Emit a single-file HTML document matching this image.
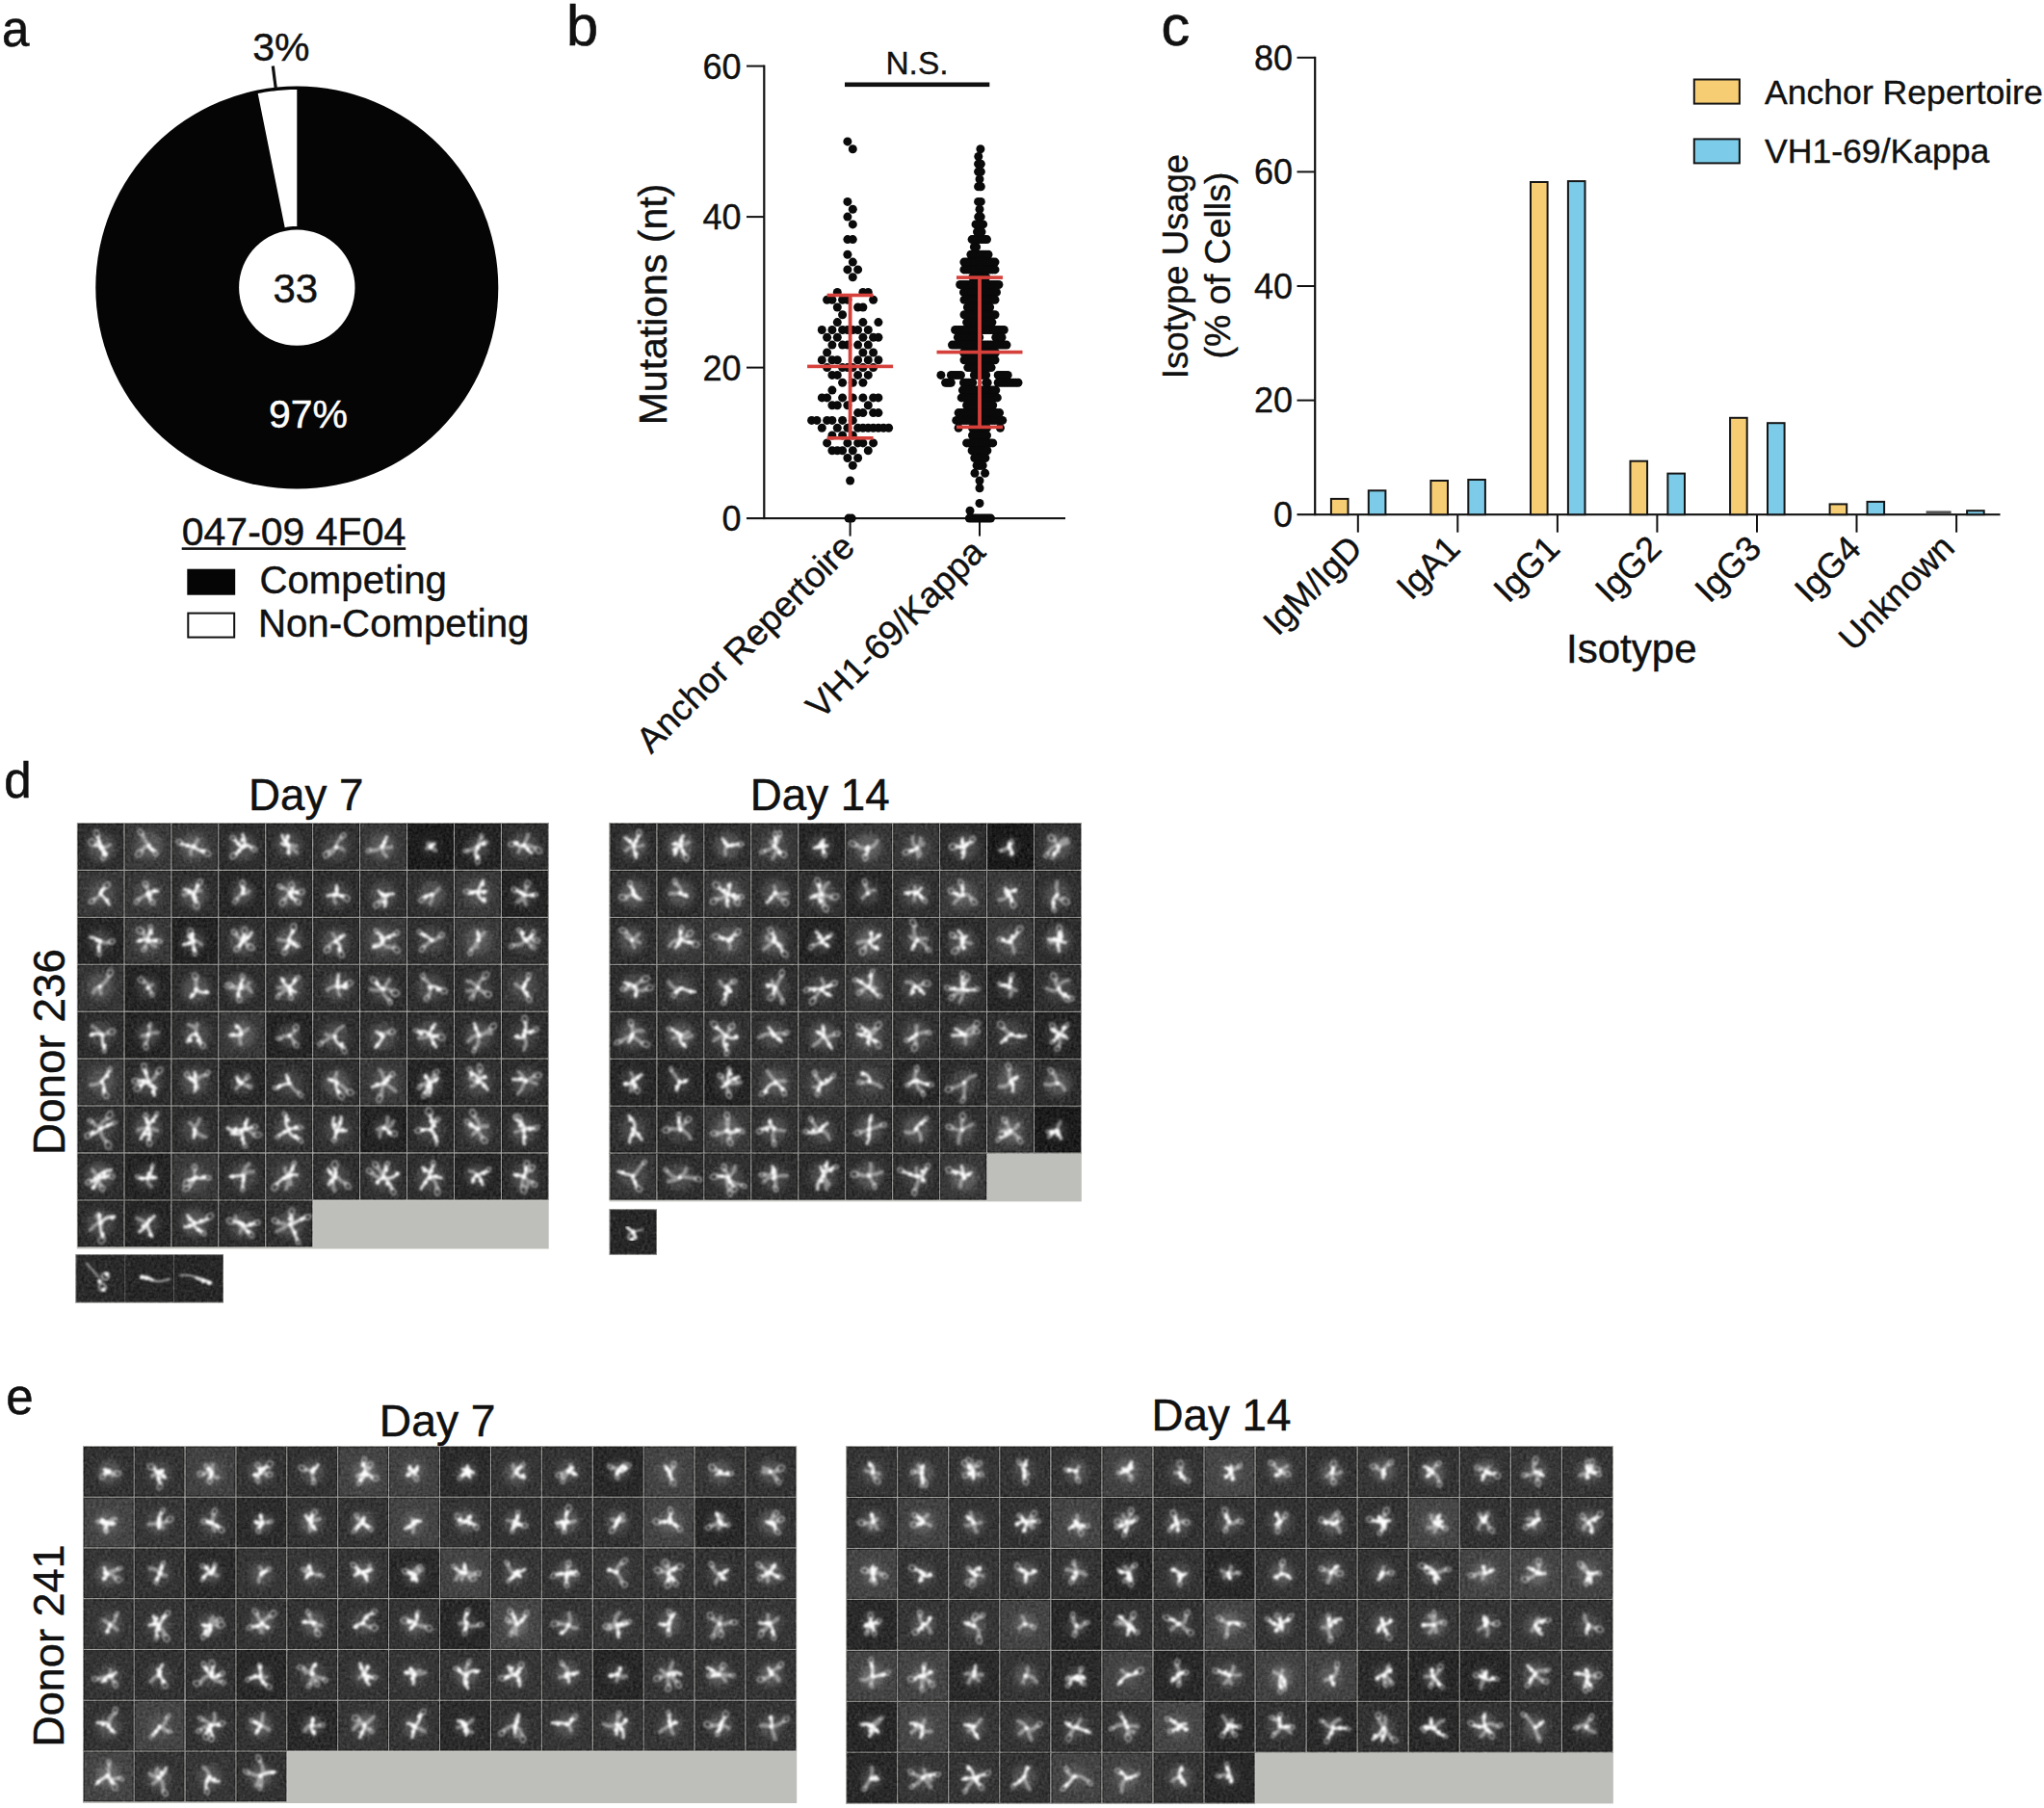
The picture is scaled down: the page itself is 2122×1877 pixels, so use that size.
<!DOCTYPE html>
<html lang="en"><head><meta charset="utf-8"><title>Figure</title>
<style>html,body{margin:0;padding:0;background:#fff;overflow:hidden}svg{display:block;font-family:"Liberation Sans", Arial, Helvetica, sans-serif}</style></head><body>
<svg width="2122" height="1877" viewBox="0 0 2122 1877">
<rect width="2122" height="1877" fill="#fff"/>
<defs><filter id="bl" x="-5%" y="-5%" width="110%" height="110%"><feGaussianBlur stdDeviation="0.9"/></filter><filter id="bl2" x="-5%" y="-5%" width="110%" height="110%"><feGaussianBlur stdDeviation="3.2"/></filter><filter id="nz" x="0" y="0" width="100%" height="100%" color-interpolation-filters="sRGB"><feTurbulence type="fractalNoise" baseFrequency="0.33" numOctaves="2" seed="5"/><feColorMatrix type="matrix" values="0.4 0.4 0.4 0 -0.42  0.4 0.4 0.4 0 -0.42  0.4 0.4 0.4 0 -0.42  0 0 0 0 0.3"/></filter></defs>
<text x="2.0" y="48.3" font-size="51" text-anchor="start" fill="#111" stroke="#111" stroke-width="0.56">a</text>
<text x="588.1" y="46.7" font-size="59.5" text-anchor="start" fill="#111" stroke="#111" stroke-width="0.65">b</text>
<text x="1205.5" y="46.6" font-size="59.5" text-anchor="start" fill="#111" stroke="#111" stroke-width="0.65">c</text>
<text x="4.2" y="828.4" font-size="51" text-anchor="start" fill="#111" stroke="#111" stroke-width="0.56">d</text>
<text x="6.2" y="1467.8" font-size="51" text-anchor="start" fill="#111" stroke="#111" stroke-width="0.56">e</text>
<circle cx="308.3" cy="298.6" r="209.0" fill="#050505"/>
<polygon fill="#fff" points="308.3,93.0 304.9,93.0 301.5,93.1 298.1,93.3 294.7,93.5 291.3,93.7 287.9,94.0 284.5,94.4 281.1,94.8 277.7,95.3 274.4,95.8 271.0,96.4 267.7,97.1 295.7,236.2 296.7,236.0 297.8,235.8 298.8,235.6 299.9,235.5 300.9,235.3 302.0,235.2 303.0,235.1 304.1,235.0 305.1,235.0 306.2,234.9 307.2,234.9 308.3,234.9"/>
<circle cx="308.3" cy="298.6" r="60.2" fill="#fff"/>
<line x1="283.3" y1="68.5" x2="286.3" y2="92" stroke="#111" stroke-width="3.2"/>
<text x="291.8" y="63.0" font-size="41" text-anchor="middle" fill="#111" stroke="#111" stroke-width="0.45">3%</text>
<text x="306.8" y="313.5" font-size="42" text-anchor="middle" fill="#111" stroke="#111" stroke-width="0.46">33</text>
<text x="320.0" y="443.9" font-size="41" text-anchor="middle" fill="#fff" stroke="#fff" stroke-width="0.45">97%</text>
<text x="305.0" y="566.3" font-size="41" text-anchor="middle" fill="#111" stroke="#111" stroke-width="0.45">047-09 4F04</text>
<rect x="188.7" y="568.3" width="232.5" height="2.6" fill="#111"/>
<rect x="194.3" y="590.7" width="49.9" height="27" fill="#050505"/>
<rect x="195.3" y="636.6" width="47.9" height="25" fill="#fff" stroke="#111" stroke-width="2"/>
<text x="269.5" y="615.8" font-size="40.2" text-anchor="start" fill="#111" stroke="#111" stroke-width="0.44">Competing</text>
<text x="268.0" y="661.2" font-size="40.2" text-anchor="start" fill="#111" stroke="#111" stroke-width="0.44">Non-Competing</text>
<rect x="792.2" y="67.6" width="2.2" height="471.5" fill="#111"/>
<rect x="775" y="537.05" width="331" height="2.1" fill="#111"/>
<rect x="775" y="380.6" width="18.5" height="2" fill="#111"/>
<rect x="775" y="224.1" width="18.5" height="2" fill="#111"/>
<rect x="775" y="67.6" width="18.5" height="2" fill="#111"/>
<text x="769.5" y="551.1" font-size="36" text-anchor="end" fill="#111" stroke="#111" stroke-width="0.40">0</text>
<text x="769.5" y="394.6" font-size="36" text-anchor="end" fill="#111" stroke="#111" stroke-width="0.40">20</text>
<text x="769.5" y="238.1" font-size="36" text-anchor="end" fill="#111" stroke="#111" stroke-width="0.40">40</text>
<text x="769.5" y="81.6" font-size="36" text-anchor="end" fill="#111" stroke="#111" stroke-width="0.40">60</text>
<rect x="881.6" y="538.1" width="2" height="18.5" fill="#111"/>
<rect x="1016.0" y="538.1" width="2" height="18.5" fill="#111"/>
<text x="0" y="0" transform="translate(691.5 316.0) rotate(-90)" font-size="41" text-anchor="middle" fill="#111" stroke="#111" stroke-width="0.45">Mutations (nt)</text>
<text x="952.0" y="76.7" font-size="33.5" text-anchor="middle" fill="#111" stroke="#111" stroke-width="0.37">N.S.</text>
<rect x="877" y="85.5" width="150.3" height="4.6" fill="#111"/>
<text x="0" y="0" transform="translate(889.5 570.0) rotate(-45)" font-size="37.2" text-anchor="end" fill="#111" stroke="#111" stroke-width="0.41">Anchor Repertoire</text>
<text x="0" y="0" transform="translate(1024.7 575.5) rotate(-45)" font-size="37.2" text-anchor="end" fill="#111" stroke="#111" stroke-width="0.41">VH1-69/Kappa</text>
<g fill="#0a0a0a"><circle cx="879.9" cy="146.9" r="4.5"/><circle cx="885.3" cy="154.7" r="4.5"/><circle cx="879.9" cy="209.4" r="4.5"/><circle cx="885.3" cy="217.3" r="4.5"/><circle cx="879.9" cy="225.1" r="4.5"/><circle cx="885.3" cy="232.9" r="4.5"/><circle cx="879.9" cy="248.6" r="4.5"/><circle cx="885.3" cy="248.6" r="4.5"/><circle cx="879.9" cy="264.2" r="4.5"/><circle cx="885.3" cy="272.1" r="4.5"/><circle cx="879.9" cy="279.9" r="4.5"/><circle cx="890.6" cy="279.9" r="4.5"/><circle cx="885.3" cy="287.7" r="4.5"/><circle cx="869.3" cy="303.4" r="4.5"/><circle cx="895.9" cy="303.4" r="4.5"/><circle cx="901.3" cy="303.4" r="4.5"/><circle cx="858.6" cy="311.2" r="4.5"/><circle cx="863.9" cy="311.2" r="4.5"/><circle cx="874.6" cy="311.2" r="4.5"/><circle cx="879.9" cy="311.2" r="4.5"/><circle cx="906.6" cy="311.2" r="4.5"/><circle cx="869.3" cy="319.0" r="4.5"/><circle cx="890.6" cy="319.0" r="4.5"/><circle cx="895.9" cy="319.0" r="4.5"/><circle cx="874.6" cy="326.8" r="4.5"/><circle cx="869.3" cy="334.6" r="4.5"/><circle cx="895.9" cy="334.6" r="4.5"/><circle cx="911.9" cy="334.6" r="4.5"/><circle cx="853.3" cy="342.5" r="4.5"/><circle cx="863.9" cy="342.5" r="4.5"/><circle cx="874.6" cy="342.5" r="4.5"/><circle cx="879.9" cy="342.5" r="4.5"/><circle cx="885.3" cy="342.5" r="4.5"/><circle cx="890.6" cy="342.5" r="4.5"/><circle cx="901.3" cy="342.5" r="4.5"/><circle cx="858.6" cy="350.3" r="4.5"/><circle cx="869.3" cy="350.3" r="4.5"/><circle cx="895.9" cy="350.3" r="4.5"/><circle cx="906.6" cy="350.3" r="4.5"/><circle cx="911.9" cy="350.3" r="4.5"/><circle cx="863.9" cy="358.1" r="4.5"/><circle cx="874.6" cy="358.1" r="4.5"/><circle cx="879.9" cy="358.1" r="4.5"/><circle cx="890.6" cy="358.1" r="4.5"/><circle cx="901.3" cy="358.1" r="4.5"/><circle cx="858.6" cy="366.0" r="4.5"/><circle cx="895.9" cy="366.0" r="4.5"/><circle cx="906.6" cy="366.0" r="4.5"/><circle cx="853.3" cy="373.8" r="4.5"/><circle cx="863.9" cy="373.8" r="4.5"/><circle cx="869.3" cy="373.8" r="4.5"/><circle cx="890.6" cy="373.8" r="4.5"/><circle cx="901.3" cy="373.8" r="4.5"/><circle cx="911.9" cy="373.8" r="4.5"/><circle cx="858.6" cy="381.6" r="4.5"/><circle cx="874.6" cy="381.6" r="4.5"/><circle cx="879.9" cy="381.6" r="4.5"/><circle cx="885.3" cy="381.6" r="4.5"/><circle cx="895.9" cy="381.6" r="4.5"/><circle cx="906.6" cy="381.6" r="4.5"/><circle cx="863.9" cy="389.4" r="4.5"/><circle cx="869.3" cy="389.4" r="4.5"/><circle cx="890.6" cy="389.4" r="4.5"/><circle cx="901.3" cy="389.4" r="4.5"/><circle cx="874.6" cy="397.2" r="4.5"/><circle cx="885.3" cy="397.2" r="4.5"/><circle cx="895.9" cy="397.2" r="4.5"/><circle cx="863.9" cy="405.1" r="4.5"/><circle cx="853.3" cy="412.9" r="4.5"/><circle cx="858.6" cy="412.9" r="4.5"/><circle cx="874.6" cy="412.9" r="4.5"/><circle cx="885.3" cy="412.9" r="4.5"/><circle cx="895.9" cy="412.9" r="4.5"/><circle cx="906.6" cy="412.9" r="4.5"/><circle cx="911.9" cy="412.9" r="4.5"/><circle cx="863.9" cy="420.7" r="4.5"/><circle cx="869.3" cy="420.7" r="4.5"/><circle cx="879.9" cy="420.7" r="4.5"/><circle cx="901.3" cy="420.7" r="4.5"/><circle cx="890.6" cy="428.6" r="4.5"/><circle cx="895.9" cy="428.6" r="4.5"/><circle cx="906.6" cy="428.6" r="4.5"/><circle cx="911.9" cy="428.6" r="4.5"/><circle cx="842.6" cy="436.4" r="4.5"/><circle cx="848.0" cy="436.4" r="4.5"/><circle cx="858.6" cy="436.4" r="4.5"/><circle cx="863.9" cy="436.4" r="4.5"/><circle cx="874.6" cy="436.4" r="4.5"/><circle cx="885.3" cy="436.4" r="4.5"/><circle cx="853.3" cy="444.2" r="4.5"/><circle cx="869.3" cy="444.2" r="4.5"/><circle cx="879.9" cy="444.2" r="4.5"/><circle cx="890.6" cy="444.2" r="4.5"/><circle cx="895.9" cy="444.2" r="4.5"/><circle cx="901.3" cy="444.2" r="4.5"/><circle cx="906.6" cy="444.2" r="4.5"/><circle cx="911.9" cy="444.2" r="4.5"/><circle cx="917.2" cy="444.2" r="4.5"/><circle cx="922.6" cy="444.2" r="4.5"/><circle cx="863.9" cy="452.0" r="4.5"/><circle cx="874.6" cy="452.0" r="4.5"/><circle cx="885.3" cy="452.0" r="4.5"/><circle cx="858.6" cy="459.9" r="4.5"/><circle cx="879.9" cy="459.9" r="4.5"/><circle cx="890.6" cy="459.9" r="4.5"/><circle cx="895.9" cy="459.9" r="4.5"/><circle cx="906.6" cy="459.9" r="4.5"/><circle cx="863.9" cy="467.7" r="4.5"/><circle cx="869.3" cy="467.7" r="4.5"/><circle cx="874.6" cy="467.7" r="4.5"/><circle cx="885.3" cy="467.7" r="4.5"/><circle cx="901.3" cy="467.7" r="4.5"/><circle cx="879.9" cy="475.5" r="4.5"/><circle cx="890.6" cy="475.5" r="4.5"/><circle cx="885.3" cy="483.3" r="4.5"/><circle cx="882.6" cy="499.0" r="4.5"/><circle cx="881.0" cy="538.1" r="4.5"/><circle cx="884.2" cy="538.1" r="4.5"/><circle cx="1017.9" cy="154.7" r="4.5"/><circle cx="1015.8" cy="162.5" r="4.5"/><circle cx="1015.6" cy="170.3" r="4.5"/><circle cx="1018.3" cy="170.3" r="4.5"/><circle cx="1015.6" cy="178.2" r="4.5"/><circle cx="1018.3" cy="178.2" r="4.5"/><circle cx="1017.0" cy="186.0" r="4.5"/><circle cx="1015.6" cy="193.8" r="4.5"/><circle cx="1018.3" cy="193.8" r="4.5"/><circle cx="1015.6" cy="209.4" r="4.5"/><circle cx="1018.3" cy="209.4" r="4.5"/><circle cx="1017.0" cy="217.3" r="4.5"/><circle cx="1015.7" cy="225.1" r="4.5"/><circle cx="1018.2" cy="225.1" r="4.5"/><circle cx="1013.0" cy="232.9" r="4.5"/><circle cx="1015.5" cy="232.9" r="4.5"/><circle cx="1018.1" cy="232.9" r="4.5"/><circle cx="1020.6" cy="232.9" r="4.5"/><circle cx="1014.5" cy="240.8" r="4.5"/><circle cx="1016.8" cy="240.8" r="4.5"/><circle cx="1019.0" cy="240.8" r="4.5"/><circle cx="1009.1" cy="248.6" r="4.5"/><circle cx="1011.7" cy="248.6" r="4.5"/><circle cx="1014.2" cy="248.6" r="4.5"/><circle cx="1016.8" cy="248.6" r="4.5"/><circle cx="1019.4" cy="248.6" r="4.5"/><circle cx="1021.9" cy="248.6" r="4.5"/><circle cx="1024.5" cy="248.6" r="4.5"/><circle cx="1011.4" cy="256.4" r="4.5"/><circle cx="1013.6" cy="256.4" r="4.5"/><circle cx="1007.9" cy="264.2" r="4.5"/><circle cx="1010.5" cy="264.2" r="4.5"/><circle cx="1013.1" cy="264.2" r="4.5"/><circle cx="1015.7" cy="264.2" r="4.5"/><circle cx="1018.2" cy="264.2" r="4.5"/><circle cx="1020.8" cy="264.2" r="4.5"/><circle cx="1023.4" cy="264.2" r="4.5"/><circle cx="1026.0" cy="264.2" r="4.5"/><circle cx="1000.9" cy="272.1" r="4.5"/><circle cx="1003.4" cy="272.1" r="4.5"/><circle cx="1005.8" cy="272.1" r="4.5"/><circle cx="1008.3" cy="272.1" r="4.5"/><circle cx="1010.8" cy="272.1" r="4.5"/><circle cx="1013.2" cy="272.1" r="4.5"/><circle cx="1015.7" cy="272.1" r="4.5"/><circle cx="1018.2" cy="272.1" r="4.5"/><circle cx="1020.7" cy="272.1" r="4.5"/><circle cx="1023.1" cy="272.1" r="4.5"/><circle cx="1025.6" cy="272.1" r="4.5"/><circle cx="1028.1" cy="272.1" r="4.5"/><circle cx="1030.5" cy="272.1" r="4.5"/><circle cx="1033.0" cy="272.1" r="4.5"/><circle cx="1000.9" cy="279.9" r="4.5"/><circle cx="1003.4" cy="279.9" r="4.5"/><circle cx="1005.8" cy="279.9" r="4.5"/><circle cx="1008.3" cy="279.9" r="4.5"/><circle cx="1010.8" cy="279.9" r="4.5"/><circle cx="1013.2" cy="279.9" r="4.5"/><circle cx="1015.7" cy="279.9" r="4.5"/><circle cx="1018.2" cy="279.9" r="4.5"/><circle cx="1020.7" cy="279.9" r="4.5"/><circle cx="1023.1" cy="279.9" r="4.5"/><circle cx="1025.6" cy="279.9" r="4.5"/><circle cx="1028.1" cy="279.9" r="4.5"/><circle cx="1030.5" cy="279.9" r="4.5"/><circle cx="1033.0" cy="279.9" r="4.5"/><circle cx="1009.8" cy="287.7" r="4.5"/><circle cx="1012.1" cy="287.7" r="4.5"/><circle cx="1014.4" cy="287.7" r="4.5"/><circle cx="1016.8" cy="287.7" r="4.5"/><circle cx="1019.1" cy="287.7" r="4.5"/><circle cx="1021.4" cy="287.7" r="4.5"/><circle cx="1023.7" cy="287.7" r="4.5"/><circle cx="996.7" cy="295.5" r="4.5"/><circle cx="999.2" cy="295.5" r="4.5"/><circle cx="1001.7" cy="295.5" r="4.5"/><circle cx="1004.2" cy="295.5" r="4.5"/><circle cx="1006.8" cy="295.5" r="4.5"/><circle cx="1009.3" cy="295.5" r="4.5"/><circle cx="1011.8" cy="295.5" r="4.5"/><circle cx="1014.3" cy="295.5" r="4.5"/><circle cx="1016.8" cy="295.5" r="4.5"/><circle cx="1019.3" cy="295.5" r="4.5"/><circle cx="1021.8" cy="295.5" r="4.5"/><circle cx="1024.3" cy="295.5" r="4.5"/><circle cx="1026.8" cy="295.5" r="4.5"/><circle cx="1029.4" cy="295.5" r="4.5"/><circle cx="1031.9" cy="295.5" r="4.5"/><circle cx="1034.4" cy="295.5" r="4.5"/><circle cx="1036.9" cy="295.5" r="4.5"/><circle cx="1000.5" cy="303.4" r="4.5"/><circle cx="1003.1" cy="303.4" r="4.5"/><circle cx="1005.7" cy="303.4" r="4.5"/><circle cx="1008.3" cy="303.4" r="4.5"/><circle cx="1011.0" cy="303.4" r="4.5"/><circle cx="1013.6" cy="303.4" r="4.5"/><circle cx="1016.2" cy="303.4" r="4.5"/><circle cx="1018.8" cy="303.4" r="4.5"/><circle cx="1021.4" cy="303.4" r="4.5"/><circle cx="1024.0" cy="303.4" r="4.5"/><circle cx="1026.7" cy="303.4" r="4.5"/><circle cx="1029.3" cy="303.4" r="4.5"/><circle cx="1031.9" cy="303.4" r="4.5"/><circle cx="1034.5" cy="303.4" r="4.5"/><circle cx="1001.0" cy="311.2" r="4.5"/><circle cx="1003.7" cy="311.2" r="4.5"/><circle cx="1006.3" cy="311.2" r="4.5"/><circle cx="1009.0" cy="311.2" r="4.5"/><circle cx="1011.7" cy="311.2" r="4.5"/><circle cx="1014.3" cy="311.2" r="4.5"/><circle cx="1017.0" cy="311.2" r="4.5"/><circle cx="1019.7" cy="311.2" r="4.5"/><circle cx="1022.3" cy="311.2" r="4.5"/><circle cx="1025.0" cy="311.2" r="4.5"/><circle cx="1027.7" cy="311.2" r="4.5"/><circle cx="1030.3" cy="311.2" r="4.5"/><circle cx="1033.0" cy="311.2" r="4.5"/><circle cx="1004.4" cy="319.0" r="4.5"/><circle cx="1007.0" cy="319.0" r="4.5"/><circle cx="1009.6" cy="319.0" r="4.5"/><circle cx="1012.1" cy="319.0" r="4.5"/><circle cx="1014.7" cy="319.0" r="4.5"/><circle cx="1017.3" cy="319.0" r="4.5"/><circle cx="1019.9" cy="319.0" r="4.5"/><circle cx="1022.4" cy="319.0" r="4.5"/><circle cx="1025.0" cy="319.0" r="4.5"/><circle cx="1027.6" cy="319.0" r="4.5"/><circle cx="1001.0" cy="326.8" r="4.5"/><circle cx="1003.7" cy="326.8" r="4.5"/><circle cx="1006.3" cy="326.8" r="4.5"/><circle cx="1009.0" cy="326.8" r="4.5"/><circle cx="1011.7" cy="326.8" r="4.5"/><circle cx="1014.3" cy="326.8" r="4.5"/><circle cx="1017.0" cy="326.8" r="4.5"/><circle cx="1019.7" cy="326.8" r="4.5"/><circle cx="1022.3" cy="326.8" r="4.5"/><circle cx="1025.0" cy="326.8" r="4.5"/><circle cx="1027.7" cy="326.8" r="4.5"/><circle cx="1030.3" cy="326.8" r="4.5"/><circle cx="1033.0" cy="326.8" r="4.5"/><circle cx="1003.6" cy="334.6" r="4.5"/><circle cx="1006.2" cy="334.6" r="4.5"/><circle cx="1008.9" cy="334.6" r="4.5"/><circle cx="1011.5" cy="334.6" r="4.5"/><circle cx="1014.1" cy="334.6" r="4.5"/><circle cx="1016.8" cy="334.6" r="4.5"/><circle cx="1019.4" cy="334.6" r="4.5"/><circle cx="1022.0" cy="334.6" r="4.5"/><circle cx="1024.6" cy="334.6" r="4.5"/><circle cx="1027.3" cy="334.6" r="4.5"/><circle cx="1029.9" cy="334.6" r="4.5"/><circle cx="991.6" cy="342.5" r="4.5"/><circle cx="994.3" cy="342.5" r="4.5"/><circle cx="996.9" cy="342.5" r="4.5"/><circle cx="999.6" cy="342.5" r="4.5"/><circle cx="1002.3" cy="342.5" r="4.5"/><circle cx="1004.9" cy="342.5" r="4.5"/><circle cx="1007.6" cy="342.5" r="4.5"/><circle cx="1010.3" cy="342.5" r="4.5"/><circle cx="1012.9" cy="342.5" r="4.5"/><circle cx="1015.6" cy="342.5" r="4.5"/><circle cx="1018.3" cy="342.5" r="4.5"/><circle cx="1021.0" cy="342.5" r="4.5"/><circle cx="1023.6" cy="342.5" r="4.5"/><circle cx="1026.3" cy="342.5" r="4.5"/><circle cx="1029.0" cy="342.5" r="4.5"/><circle cx="1031.6" cy="342.5" r="4.5"/><circle cx="1034.3" cy="342.5" r="4.5"/><circle cx="1037.0" cy="342.5" r="4.5"/><circle cx="1039.6" cy="342.5" r="4.5"/><circle cx="1042.3" cy="342.5" r="4.5"/><circle cx="994.4" cy="350.3" r="4.5"/><circle cx="996.9" cy="350.3" r="4.5"/><circle cx="999.4" cy="350.3" r="4.5"/><circle cx="1001.8" cy="350.3" r="4.5"/><circle cx="1004.3" cy="350.3" r="4.5"/><circle cx="1006.8" cy="350.3" r="4.5"/><circle cx="1009.3" cy="350.3" r="4.5"/><circle cx="1011.7" cy="350.3" r="4.5"/><circle cx="1014.2" cy="350.3" r="4.5"/><circle cx="1016.7" cy="350.3" r="4.5"/><circle cx="1033.8" cy="350.3" r="4.5"/><circle cx="1035.9" cy="350.3" r="4.5"/><circle cx="1037.9" cy="350.3" r="4.5"/><circle cx="1040.0" cy="350.3" r="4.5"/><circle cx="988.5" cy="358.1" r="4.5"/><circle cx="991.1" cy="358.1" r="4.5"/><circle cx="993.6" cy="358.1" r="4.5"/><circle cx="996.2" cy="358.1" r="4.5"/><circle cx="998.8" cy="358.1" r="4.5"/><circle cx="1001.3" cy="358.1" r="4.5"/><circle cx="1003.9" cy="358.1" r="4.5"/><circle cx="1006.5" cy="358.1" r="4.5"/><circle cx="1009.0" cy="358.1" r="4.5"/><circle cx="1011.6" cy="358.1" r="4.5"/><circle cx="1014.2" cy="358.1" r="4.5"/><circle cx="1016.8" cy="358.1" r="4.5"/><circle cx="1019.3" cy="358.1" r="4.5"/><circle cx="1021.9" cy="358.1" r="4.5"/><circle cx="1024.5" cy="358.1" r="4.5"/><circle cx="1027.0" cy="358.1" r="4.5"/><circle cx="1029.6" cy="358.1" r="4.5"/><circle cx="1032.2" cy="358.1" r="4.5"/><circle cx="1034.7" cy="358.1" r="4.5"/><circle cx="1037.3" cy="358.1" r="4.5"/><circle cx="1039.9" cy="358.1" r="4.5"/><circle cx="1042.4" cy="358.1" r="4.5"/><circle cx="1045.0" cy="358.1" r="4.5"/><circle cx="1000.5" cy="366.0" r="4.5"/><circle cx="1003.0" cy="366.0" r="4.5"/><circle cx="1005.6" cy="366.0" r="4.5"/><circle cx="1008.1" cy="366.0" r="4.5"/><circle cx="1010.7" cy="366.0" r="4.5"/><circle cx="1013.2" cy="366.0" r="4.5"/><circle cx="1015.7" cy="366.0" r="4.5"/><circle cx="1018.3" cy="366.0" r="4.5"/><circle cx="1020.8" cy="366.0" r="4.5"/><circle cx="1023.3" cy="366.0" r="4.5"/><circle cx="1025.9" cy="366.0" r="4.5"/><circle cx="1028.4" cy="366.0" r="4.5"/><circle cx="1031.0" cy="366.0" r="4.5"/><circle cx="1033.5" cy="366.0" r="4.5"/><circle cx="1001.0" cy="373.8" r="4.5"/><circle cx="1003.7" cy="373.8" r="4.5"/><circle cx="1006.3" cy="373.8" r="4.5"/><circle cx="1009.0" cy="373.8" r="4.5"/><circle cx="1011.7" cy="373.8" r="4.5"/><circle cx="1014.3" cy="373.8" r="4.5"/><circle cx="1017.0" cy="373.8" r="4.5"/><circle cx="1019.7" cy="373.8" r="4.5"/><circle cx="1022.3" cy="373.8" r="4.5"/><circle cx="1025.0" cy="373.8" r="4.5"/><circle cx="1027.7" cy="373.8" r="4.5"/><circle cx="1030.3" cy="373.8" r="4.5"/><circle cx="1033.0" cy="373.8" r="4.5"/><circle cx="1004.8" cy="381.6" r="4.5"/><circle cx="1007.2" cy="381.6" r="4.5"/><circle cx="1009.7" cy="381.6" r="4.5"/><circle cx="1012.1" cy="381.6" r="4.5"/><circle cx="1014.5" cy="381.6" r="4.5"/><circle cx="1017.0" cy="381.6" r="4.5"/><circle cx="1019.4" cy="381.6" r="4.5"/><circle cx="1021.8" cy="381.6" r="4.5"/><circle cx="1024.2" cy="381.6" r="4.5"/><circle cx="1026.7" cy="381.6" r="4.5"/><circle cx="1029.1" cy="381.6" r="4.5"/><circle cx="976.9" cy="389.4" r="4.5"/><circle cx="987.4" cy="389.4" r="4.5"/><circle cx="989.9" cy="389.4" r="4.5"/><circle cx="992.4" cy="389.4" r="4.5"/><circle cx="994.9" cy="389.4" r="4.5"/><circle cx="997.4" cy="389.4" r="4.5"/><circle cx="1011.4" cy="389.4" r="4.5"/><circle cx="1013.9" cy="389.4" r="4.5"/><circle cx="1016.3" cy="389.4" r="4.5"/><circle cx="1018.8" cy="389.4" r="4.5"/><circle cx="1021.2" cy="389.4" r="4.5"/><circle cx="1023.7" cy="389.4" r="4.5"/><circle cx="1036.2" cy="389.4" r="4.5"/><circle cx="1038.7" cy="389.4" r="4.5"/><circle cx="1041.2" cy="389.4" r="4.5"/><circle cx="1043.7" cy="389.4" r="4.5"/><circle cx="1046.2" cy="389.4" r="4.5"/><circle cx="981.6" cy="397.2" r="4.5"/><circle cx="983.5" cy="397.2" r="4.5"/><circle cx="985.4" cy="397.2" r="4.5"/><circle cx="987.3" cy="397.2" r="4.5"/><circle cx="1000.5" cy="397.2" r="4.5"/><circle cx="1002.8" cy="397.2" r="4.5"/><circle cx="1005.1" cy="397.2" r="4.5"/><circle cx="1007.5" cy="397.2" r="4.5"/><circle cx="1009.8" cy="397.2" r="4.5"/><circle cx="1023.8" cy="397.2" r="4.5"/><circle cx="1025.2" cy="397.2" r="4.5"/><circle cx="1036.2" cy="397.2" r="4.5"/><circle cx="1038.8" cy="397.2" r="4.5"/><circle cx="1041.4" cy="397.2" r="4.5"/><circle cx="1044.0" cy="397.2" r="4.5"/><circle cx="1046.6" cy="397.2" r="4.5"/><circle cx="1049.2" cy="397.2" r="4.5"/><circle cx="1051.8" cy="397.2" r="4.5"/><circle cx="1054.4" cy="397.2" r="4.5"/><circle cx="1057.0" cy="397.2" r="4.5"/><circle cx="999.4" cy="405.1" r="4.5"/><circle cx="1002.0" cy="405.1" r="4.5"/><circle cx="1004.7" cy="405.1" r="4.5"/><circle cx="1007.3" cy="405.1" r="4.5"/><circle cx="1010.0" cy="405.1" r="4.5"/><circle cx="1012.6" cy="405.1" r="4.5"/><circle cx="1015.3" cy="405.1" r="4.5"/><circle cx="1017.9" cy="405.1" r="4.5"/><circle cx="1020.6" cy="405.1" r="4.5"/><circle cx="1023.2" cy="405.1" r="4.5"/><circle cx="1025.9" cy="405.1" r="4.5"/><circle cx="1028.5" cy="405.1" r="4.5"/><circle cx="1031.2" cy="405.1" r="4.5"/><circle cx="1033.8" cy="405.1" r="4.5"/><circle cx="998.2" cy="412.9" r="4.5"/><circle cx="1000.9" cy="412.9" r="4.5"/><circle cx="1003.5" cy="412.9" r="4.5"/><circle cx="1006.1" cy="412.9" r="4.5"/><circle cx="1008.8" cy="412.9" r="4.5"/><circle cx="1011.5" cy="412.9" r="4.5"/><circle cx="1014.1" cy="412.9" r="4.5"/><circle cx="1016.8" cy="412.9" r="4.5"/><circle cx="1019.4" cy="412.9" r="4.5"/><circle cx="1022.0" cy="412.9" r="4.5"/><circle cx="1024.7" cy="412.9" r="4.5"/><circle cx="1027.3" cy="412.9" r="4.5"/><circle cx="1030.0" cy="412.9" r="4.5"/><circle cx="1032.7" cy="412.9" r="4.5"/><circle cx="1035.3" cy="412.9" r="4.5"/><circle cx="1003.6" cy="420.7" r="4.5"/><circle cx="1006.1" cy="420.7" r="4.5"/><circle cx="1008.5" cy="420.7" r="4.5"/><circle cx="1011.0" cy="420.7" r="4.5"/><circle cx="1013.5" cy="420.7" r="4.5"/><circle cx="1015.9" cy="420.7" r="4.5"/><circle cx="1018.4" cy="420.7" r="4.5"/><circle cx="1020.8" cy="420.7" r="4.5"/><circle cx="1023.3" cy="420.7" r="4.5"/><circle cx="1025.8" cy="420.7" r="4.5"/><circle cx="1028.2" cy="420.7" r="4.5"/><circle cx="1030.7" cy="420.7" r="4.5"/><circle cx="995.1" cy="428.6" r="4.5"/><circle cx="997.8" cy="428.6" r="4.5"/><circle cx="1000.4" cy="428.6" r="4.5"/><circle cx="1003.1" cy="428.6" r="4.5"/><circle cx="1005.7" cy="428.6" r="4.5"/><circle cx="1008.4" cy="428.6" r="4.5"/><circle cx="1011.0" cy="428.6" r="4.5"/><circle cx="1013.7" cy="428.6" r="4.5"/><circle cx="1016.4" cy="428.6" r="4.5"/><circle cx="1019.0" cy="428.6" r="4.5"/><circle cx="1021.7" cy="428.6" r="4.5"/><circle cx="1024.3" cy="428.6" r="4.5"/><circle cx="1027.0" cy="428.6" r="4.5"/><circle cx="1029.6" cy="428.6" r="4.5"/><circle cx="1032.3" cy="428.6" r="4.5"/><circle cx="1034.9" cy="428.6" r="4.5"/><circle cx="1037.6" cy="428.6" r="4.5"/><circle cx="992.8" cy="436.4" r="4.5"/><circle cx="995.5" cy="436.4" r="4.5"/><circle cx="998.1" cy="436.4" r="4.5"/><circle cx="1000.8" cy="436.4" r="4.5"/><circle cx="1003.4" cy="436.4" r="4.5"/><circle cx="1006.1" cy="436.4" r="4.5"/><circle cx="1008.8" cy="436.4" r="4.5"/><circle cx="1011.4" cy="436.4" r="4.5"/><circle cx="1014.1" cy="436.4" r="4.5"/><circle cx="1016.8" cy="436.4" r="4.5"/><circle cx="1019.4" cy="436.4" r="4.5"/><circle cx="1022.1" cy="436.4" r="4.5"/><circle cx="1024.7" cy="436.4" r="4.5"/><circle cx="1027.4" cy="436.4" r="4.5"/><circle cx="1030.1" cy="436.4" r="4.5"/><circle cx="1032.7" cy="436.4" r="4.5"/><circle cx="1035.4" cy="436.4" r="4.5"/><circle cx="1038.0" cy="436.4" r="4.5"/><circle cx="1040.7" cy="436.4" r="4.5"/><circle cx="995.1" cy="444.2" r="4.5"/><circle cx="1009.5" cy="444.2" r="4.5"/><circle cx="1012.0" cy="444.2" r="4.5"/><circle cx="1014.5" cy="444.2" r="4.5"/><circle cx="1017.0" cy="444.2" r="4.5"/><circle cx="1019.5" cy="444.2" r="4.5"/><circle cx="1022.0" cy="444.2" r="4.5"/><circle cx="1024.5" cy="444.2" r="4.5"/><circle cx="1038.4" cy="444.2" r="4.5"/><circle cx="1009.5" cy="452.0" r="4.5"/><circle cx="1012.0" cy="452.0" r="4.5"/><circle cx="1014.5" cy="452.0" r="4.5"/><circle cx="1017.0" cy="452.0" r="4.5"/><circle cx="1019.5" cy="452.0" r="4.5"/><circle cx="1022.0" cy="452.0" r="4.5"/><circle cx="1024.5" cy="452.0" r="4.5"/><circle cx="1003.6" cy="459.9" r="4.5"/><circle cx="1006.1" cy="459.9" r="4.5"/><circle cx="1008.5" cy="459.9" r="4.5"/><circle cx="1011.0" cy="459.9" r="4.5"/><circle cx="1013.5" cy="459.9" r="4.5"/><circle cx="1015.9" cy="459.9" r="4.5"/><circle cx="1018.4" cy="459.9" r="4.5"/><circle cx="1020.8" cy="459.9" r="4.5"/><circle cx="1023.3" cy="459.9" r="4.5"/><circle cx="1025.8" cy="459.9" r="4.5"/><circle cx="1028.2" cy="459.9" r="4.5"/><circle cx="1030.7" cy="459.9" r="4.5"/><circle cx="1009.1" cy="467.7" r="4.5"/><circle cx="1011.7" cy="467.7" r="4.5"/><circle cx="1014.4" cy="467.7" r="4.5"/><circle cx="1017.0" cy="467.7" r="4.5"/><circle cx="1019.6" cy="467.7" r="4.5"/><circle cx="1022.3" cy="467.7" r="4.5"/><circle cx="1024.9" cy="467.7" r="4.5"/><circle cx="1011.8" cy="475.5" r="4.5"/><circle cx="1014.0" cy="475.5" r="4.5"/><circle cx="1016.2" cy="475.5" r="4.5"/><circle cx="1018.5" cy="475.5" r="4.5"/><circle cx="1020.7" cy="475.5" r="4.5"/><circle cx="1022.9" cy="475.5" r="4.5"/><circle cx="1014.1" cy="483.3" r="4.5"/><circle cx="1016.1" cy="483.3" r="4.5"/><circle cx="1018.2" cy="483.3" r="4.5"/><circle cx="1020.2" cy="483.3" r="4.5"/><circle cx="1012.0" cy="491.2" r="4.5"/><circle cx="1022.6" cy="491.2" r="4.5"/><circle cx="1017.0" cy="499.0" r="4.5"/><circle cx="1017.0" cy="506.8" r="4.5"/><circle cx="1017.0" cy="522.5" r="4.5"/><circle cx="1007.0" cy="530.3" r="4.5"/><circle cx="1006.3" cy="538.1" r="4.5"/><circle cx="1008.8" cy="538.1" r="4.5"/><circle cx="1011.2" cy="538.1" r="4.5"/><circle cx="1013.7" cy="538.1" r="4.5"/><circle cx="1016.2" cy="538.1" r="4.5"/><circle cx="1018.6" cy="538.1" r="4.5"/><circle cx="1021.1" cy="538.1" r="4.5"/><circle cx="1023.6" cy="538.1" r="4.5"/><circle cx="1026.0" cy="538.1" r="4.5"/><circle cx="1028.5" cy="538.1" r="4.5"/></g>
<rect x="880.7" y="306.5" width="3.8" height="148.3" fill="#d6403a"/>
<rect x="838.1" y="378.6" width="89" height="3.6" fill="#d6403a"/>
<rect x="858.6" y="453.0" width="48" height="3.6" fill="#d6403a"/>
<rect x="858.6" y="304.7" width="48" height="3.6" fill="#d6403a"/>
<rect x="1015.1" y="288.1" width="3.8" height="155.3" fill="#d6403a"/>
<rect x="972.5" y="363.8" width="89" height="3.6" fill="#d6403a"/>
<rect x="993.0" y="441.6" width="48" height="3.6" fill="#d6403a"/>
<rect x="993.0" y="286.3" width="48" height="3.6" fill="#d6403a"/>
<rect x="1364.1" y="58.8" width="2.2" height="476.4" fill="#111"/>
<rect x="1346.5" y="533.15" width="730" height="2.1" fill="#111"/>
<rect x="1346.5" y="414.6" width="18.7" height="2" fill="#111"/>
<rect x="1346.5" y="296.0" width="18.7" height="2" fill="#111"/>
<rect x="1346.5" y="177.4" width="18.7" height="2" fill="#111"/>
<rect x="1346.5" y="58.8" width="18.7" height="2" fill="#111"/>
<text x="1342.0" y="547.0" font-size="36" text-anchor="end" fill="#111" stroke="#111" stroke-width="0.40">0</text>
<text x="1342.0" y="428.4" font-size="36" text-anchor="end" fill="#111" stroke="#111" stroke-width="0.40">20</text>
<text x="1342.0" y="309.8" font-size="36" text-anchor="end" fill="#111" stroke="#111" stroke-width="0.40">40</text>
<text x="1342.0" y="191.2" font-size="36" text-anchor="end" fill="#111" stroke="#111" stroke-width="0.40">60</text>
<text x="1342.0" y="72.6" font-size="36" text-anchor="end" fill="#111" stroke="#111" stroke-width="0.40">80</text>
<rect x="1408.8" y="534.2" width="2" height="18.5" fill="#111"/>
<text x="0" y="0" transform="translate(1416.3 571.5) rotate(-45)" font-size="36.3" text-anchor="end" fill="#111" stroke="#111" stroke-width="0.40">IgM/IgD</text>
<rect x="1381.9" y="517.9" width="17.6" height="16.3" fill="#f7cd73" stroke="#151515" stroke-width="2"/>
<rect x="1420.8" y="509.3" width="17.6" height="24.9" fill="#7ccbe8" stroke="#151515" stroke-width="2"/>
<rect x="1512.3" y="534.2" width="2" height="18.5" fill="#111"/>
<text x="0" y="0" transform="translate(1517.8 571.5) rotate(-45)" font-size="36.3" text-anchor="end" fill="#111" stroke="#111" stroke-width="0.40">IgA1</text>
<rect x="1485.4" y="499.0" width="17.6" height="35.2" fill="#f7cd73" stroke="#151515" stroke-width="2"/>
<rect x="1524.3" y="498.0" width="17.6" height="36.2" fill="#7ccbe8" stroke="#151515" stroke-width="2"/>
<rect x="1615.9" y="534.2" width="2" height="18.5" fill="#111"/>
<text x="0" y="0" transform="translate(1621.4 571.5) rotate(-45)" font-size="36.3" text-anchor="end" fill="#111" stroke="#111" stroke-width="0.40">IgG1</text>
<rect x="1589.0" y="189.0" width="17.6" height="345.2" fill="#f7cd73" stroke="#151515" stroke-width="2"/>
<rect x="1627.9" y="188.1" width="17.6" height="346.1" fill="#7ccbe8" stroke="#151515" stroke-width="2"/>
<rect x="1719.4" y="534.2" width="2" height="18.5" fill="#111"/>
<text x="0" y="0" transform="translate(1726.9 571.5) rotate(-45)" font-size="36.3" text-anchor="end" fill="#111" stroke="#111" stroke-width="0.40">IgG2</text>
<rect x="1692.5" y="478.7" width="17.6" height="55.5" fill="#f7cd73" stroke="#151515" stroke-width="2"/>
<rect x="1731.4" y="491.6" width="17.6" height="42.6" fill="#7ccbe8" stroke="#151515" stroke-width="2"/>
<rect x="1823.0" y="534.2" width="2" height="18.5" fill="#111"/>
<text x="0" y="0" transform="translate(1830.5 571.5) rotate(-45)" font-size="36.3" text-anchor="end" fill="#111" stroke="#111" stroke-width="0.40">IgG3</text>
<rect x="1796.1" y="433.8" width="17.6" height="100.4" fill="#f7cd73" stroke="#151515" stroke-width="2"/>
<rect x="1835.0" y="439.2" width="17.6" height="95.0" fill="#7ccbe8" stroke="#151515" stroke-width="2"/>
<rect x="1926.5" y="534.2" width="2" height="18.5" fill="#111"/>
<text x="0" y="0" transform="translate(1934.0 571.5) rotate(-45)" font-size="36.3" text-anchor="end" fill="#111" stroke="#111" stroke-width="0.40">IgG4</text>
<rect x="1899.6" y="523.4" width="17.6" height="10.8" fill="#f7cd73" stroke="#151515" stroke-width="2"/>
<rect x="1938.5" y="520.9" width="17.6" height="13.3" fill="#7ccbe8" stroke="#151515" stroke-width="2"/>
<rect x="2030.1" y="534.2" width="2" height="18.5" fill="#111"/>
<text x="0" y="0" transform="translate(2031.1 570.5) rotate(-45)" font-size="36.3" text-anchor="end" fill="#111" stroke="#111" stroke-width="0.40">Unknown</text>
<rect x="1999.6" y="530.4" width="26" height="3" fill="#555"/>
<rect x="2042.1" y="530.2" width="17.6" height="4.0" fill="#7ccbe8" stroke="#151515" stroke-width="2"/>
<text x="1693.8" y="687.8" font-size="42" text-anchor="middle" fill="#111" stroke="#111" stroke-width="0.46">Isotype</text>
<text x="0" y="0" transform="translate(1232.8 276.5) rotate(-90)" font-size="36.5" text-anchor="middle" fill="#111" stroke="#111" stroke-width="0.40">Isotype Usage</text>
<text x="0" y="0" transform="translate(1277.3 275.5) rotate(-90)" font-size="37.5" text-anchor="middle" fill="#111" stroke="#111" stroke-width="0.41">(% of Cells)</text>
<rect x="1758.8" y="82.5" width="47.1" height="25.1" fill="#f7cd73" stroke="#151515" stroke-width="2"/>
<rect x="1758.8" y="144.4" width="47.1" height="25" fill="#7ccbe8" stroke="#151515" stroke-width="2"/>
<text x="1832.0" y="108.0" font-size="35.6" text-anchor="start" fill="#111" stroke="#111" stroke-width="0.39">Anchor Repertoire</text>
<text x="1832.0" y="169.0" font-size="35.6" text-anchor="start" fill="#111" stroke="#111" stroke-width="0.39">VH1-69/Kappa</text>
<text x="317.8" y="840.7" font-size="45.7" text-anchor="middle" fill="#111" stroke="#111" stroke-width="0.50">Day 7</text>
<text x="851.2" y="840.8" font-size="45.7" text-anchor="middle" fill="#111" stroke="#111" stroke-width="0.50">Day 14</text>
<text x="454.2" y="1490.8" font-size="46.2" text-anchor="middle" fill="#111" stroke="#111" stroke-width="0.51">Day 7</text>
<text x="1268.0" y="1484.5" font-size="45.7" text-anchor="middle" fill="#111" stroke="#111" stroke-width="0.50">Day 14</text>
<text x="0" y="0" transform="translate(66.8 1092.0) rotate(-90)" font-size="45.8" text-anchor="middle" fill="#111" stroke="#111" stroke-width="0.50">Donor 236</text>
<text x="0" y="0" transform="translate(66.4 1708.6) rotate(-90)" font-size="45" text-anchor="middle" fill="#111" stroke="#111" stroke-width="0.49">Donor 241</text>
<rect x="79.8" y="854.2" width="489.9" height="442.3" fill="#bebeba"/>
<rect x="79.8" y="854.2" width="489.9" height="392.2" fill="#d0d0cd"/>
<rect x="79.8" y="1245.8" width="245.5" height="49.4" fill="#d0d0cd"/>
<g><rect x="81.2" y="855.5" width="46.7" height="46.7" fill="rgb(47,47,47)" stroke="rgb(21,21,21)"/><rect x="130.1" y="855.5" width="46.7" height="46.7" fill="rgb(63,63,63)" stroke="rgb(28,28,28)"/><rect x="179.0" y="855.5" width="46.7" height="46.7" fill="rgb(60,60,60)" stroke="rgb(27,27,27)"/><rect x="227.9" y="855.5" width="46.7" height="46.7" fill="rgb(46,46,46)" stroke="rgb(20,20,20)"/><rect x="276.9" y="855.5" width="46.7" height="46.7" fill="rgb(47,47,47)" stroke="rgb(21,21,21)"/><rect x="325.8" y="855.5" width="46.7" height="46.7" fill="rgb(50,50,50)" stroke="rgb(22,22,22)"/><rect x="374.7" y="855.5" width="46.7" height="46.7" fill="rgb(61,61,61)" stroke="rgb(27,27,27)"/><rect x="423.7" y="855.5" width="46.7" height="46.7" fill="rgb(22,22,22)" stroke="rgb(9,9,9)"/><rect x="472.6" y="855.5" width="46.7" height="46.7" fill="rgb(32,32,32)" stroke="rgb(14,14,14)"/><rect x="521.5" y="855.5" width="46.7" height="46.7" fill="rgb(47,47,47)" stroke="rgb(21,21,21)"/><rect x="81.2" y="904.5" width="46.7" height="46.7" fill="rgb(60,60,60)" stroke="rgb(27,27,27)"/><rect x="130.1" y="904.5" width="46.7" height="46.7" fill="rgb(59,59,59)" stroke="rgb(26,26,26)"/><rect x="179.0" y="904.5" width="46.7" height="46.7" fill="rgb(47,47,47)" stroke="rgb(21,21,21)"/><rect x="227.9" y="904.5" width="46.7" height="46.7" fill="rgb(37,37,37)" stroke="rgb(16,16,16)"/><rect x="276.9" y="904.5" width="46.7" height="46.7" fill="rgb(46,46,46)" stroke="rgb(20,20,20)"/><rect x="325.8" y="904.5" width="46.7" height="46.7" fill="rgb(44,44,44)" stroke="rgb(19,19,19)"/><rect x="374.7" y="904.5" width="46.7" height="46.7" fill="rgb(49,49,49)" stroke="rgb(22,22,22)"/><rect x="423.7" y="904.5" width="46.7" height="46.7" fill="rgb(49,49,49)" stroke="rgb(22,22,22)"/><rect x="472.6" y="904.5" width="46.7" height="46.7" fill="rgb(62,62,62)" stroke="rgb(27,27,27)"/><rect x="521.5" y="904.5" width="46.7" height="46.7" fill="rgb(33,33,33)" stroke="rgb(14,14,14)"/><rect x="81.2" y="953.4" width="46.7" height="46.7" fill="rgb(35,35,35)" stroke="rgb(15,15,15)"/><rect x="130.1" y="953.4" width="46.7" height="46.7" fill="rgb(61,61,61)" stroke="rgb(27,27,27)"/><rect x="179.0" y="953.4" width="46.7" height="46.7" fill="rgb(31,31,31)" stroke="rgb(13,13,13)"/><rect x="227.9" y="953.4" width="46.7" height="46.7" fill="rgb(48,48,48)" stroke="rgb(21,21,21)"/><rect x="276.9" y="953.4" width="46.7" height="46.7" fill="rgb(45,45,45)" stroke="rgb(20,20,20)"/><rect x="325.8" y="953.4" width="46.7" height="46.7" fill="rgb(48,48,48)" stroke="rgb(21,21,21)"/><rect x="374.7" y="953.4" width="46.7" height="46.7" fill="rgb(63,63,63)" stroke="rgb(28,28,28)"/><rect x="423.7" y="953.4" width="46.7" height="46.7" fill="rgb(49,49,49)" stroke="rgb(22,22,22)"/><rect x="472.6" y="953.4" width="46.7" height="46.7" fill="rgb(63,63,63)" stroke="rgb(28,28,28)"/><rect x="521.5" y="953.4" width="46.7" height="46.7" fill="rgb(48,48,48)" stroke="rgb(21,21,21)"/><rect x="81.2" y="1002.3" width="46.7" height="46.7" fill="rgb(57,57,57)" stroke="rgb(25,25,25)"/><rect x="130.1" y="1002.3" width="46.7" height="46.7" fill="rgb(33,33,33)" stroke="rgb(14,14,14)"/><rect x="179.0" y="1002.3" width="46.7" height="46.7" fill="rgb(47,47,47)" stroke="rgb(21,21,21)"/><rect x="227.9" y="1002.3" width="46.7" height="46.7" fill="rgb(46,46,46)" stroke="rgb(20,20,20)"/><rect x="276.9" y="1002.3" width="46.7" height="46.7" fill="rgb(50,50,50)" stroke="rgb(22,22,22)"/><rect x="325.8" y="1002.3" width="46.7" height="46.7" fill="rgb(50,50,50)" stroke="rgb(22,22,22)"/><rect x="374.7" y="1002.3" width="46.7" height="46.7" fill="rgb(46,46,46)" stroke="rgb(20,20,20)"/><rect x="423.7" y="1002.3" width="46.7" height="46.7" fill="rgb(47,47,47)" stroke="rgb(21,21,21)"/><rect x="472.6" y="1002.3" width="46.7" height="46.7" fill="rgb(47,47,47)" stroke="rgb(21,21,21)"/><rect x="521.5" y="1002.3" width="46.7" height="46.7" fill="rgb(58,58,58)" stroke="rgb(26,26,26)"/><rect x="81.2" y="1051.3" width="46.7" height="46.7" fill="rgb(44,44,44)" stroke="rgb(19,19,19)"/><rect x="130.1" y="1051.3" width="46.7" height="46.7" fill="rgb(33,33,33)" stroke="rgb(14,14,14)"/><rect x="179.0" y="1051.3" width="46.7" height="46.7" fill="rgb(48,48,48)" stroke="rgb(21,21,21)"/><rect x="227.9" y="1051.3" width="46.7" height="46.7" fill="rgb(61,61,61)" stroke="rgb(27,27,27)"/><rect x="276.9" y="1051.3" width="46.7" height="46.7" fill="rgb(33,33,33)" stroke="rgb(14,14,14)"/><rect x="325.8" y="1051.3" width="46.7" height="46.7" fill="rgb(47,47,47)" stroke="rgb(21,21,21)"/><rect x="374.7" y="1051.3" width="46.7" height="46.7" fill="rgb(48,48,48)" stroke="rgb(21,21,21)"/><rect x="423.7" y="1051.3" width="46.7" height="46.7" fill="rgb(46,46,46)" stroke="rgb(20,20,20)"/><rect x="472.6" y="1051.3" width="46.7" height="46.7" fill="rgb(46,46,46)" stroke="rgb(20,20,20)"/><rect x="521.5" y="1051.3" width="46.7" height="46.7" fill="rgb(45,45,45)" stroke="rgb(20,20,20)"/><rect x="81.2" y="1100.2" width="46.7" height="46.7" fill="rgb(61,61,61)" stroke="rgb(27,27,27)"/><rect x="130.1" y="1100.2" width="46.7" height="46.7" fill="rgb(44,44,44)" stroke="rgb(19,19,19)"/><rect x="179.0" y="1100.2" width="46.7" height="46.7" fill="rgb(48,48,48)" stroke="rgb(21,21,21)"/><rect x="227.9" y="1100.2" width="46.7" height="46.7" fill="rgb(37,37,37)" stroke="rgb(16,16,16)"/><rect x="276.9" y="1100.2" width="46.7" height="46.7" fill="rgb(47,47,47)" stroke="rgb(21,21,21)"/><rect x="325.8" y="1100.2" width="46.7" height="46.7" fill="rgb(48,48,48)" stroke="rgb(21,21,21)"/><rect x="374.7" y="1100.2" width="46.7" height="46.7" fill="rgb(62,62,62)" stroke="rgb(27,27,27)"/><rect x="423.7" y="1100.2" width="46.7" height="46.7" fill="rgb(34,34,34)" stroke="rgb(15,15,15)"/><rect x="472.6" y="1100.2" width="46.7" height="46.7" fill="rgb(50,50,50)" stroke="rgb(22,22,22)"/><rect x="521.5" y="1100.2" width="46.7" height="46.7" fill="rgb(45,45,45)" stroke="rgb(20,20,20)"/><rect x="81.2" y="1149.1" width="46.7" height="46.7" fill="rgb(48,48,48)" stroke="rgb(21,21,21)"/><rect x="130.1" y="1149.1" width="46.7" height="46.7" fill="rgb(45,45,45)" stroke="rgb(20,20,20)"/><rect x="179.0" y="1149.1" width="46.7" height="46.7" fill="rgb(46,46,46)" stroke="rgb(20,20,20)"/><rect x="227.9" y="1149.1" width="46.7" height="46.7" fill="rgb(47,47,47)" stroke="rgb(21,21,21)"/><rect x="276.9" y="1149.1" width="46.7" height="46.7" fill="rgb(50,50,50)" stroke="rgb(22,22,22)"/><rect x="325.8" y="1149.1" width="46.7" height="46.7" fill="rgb(50,50,50)" stroke="rgb(22,22,22)"/><rect x="374.7" y="1149.1" width="46.7" height="46.7" fill="rgb(31,31,31)" stroke="rgb(13,13,13)"/><rect x="423.7" y="1149.1" width="46.7" height="46.7" fill="rgb(44,44,44)" stroke="rgb(19,19,19)"/><rect x="472.6" y="1149.1" width="46.7" height="46.7" fill="rgb(50,50,50)" stroke="rgb(22,22,22)"/><rect x="521.5" y="1149.1" width="46.7" height="46.7" fill="rgb(44,44,44)" stroke="rgb(19,19,19)"/><rect x="81.2" y="1198.1" width="46.7" height="46.7" fill="rgb(46,46,46)" stroke="rgb(20,20,20)"/><rect x="130.1" y="1198.1" width="46.7" height="46.7" fill="rgb(33,33,33)" stroke="rgb(14,14,14)"/><rect x="179.0" y="1198.1" width="46.7" height="46.7" fill="rgb(62,62,62)" stroke="rgb(27,27,27)"/><rect x="227.9" y="1198.1" width="46.7" height="46.7" fill="rgb(47,47,47)" stroke="rgb(21,21,21)"/><rect x="276.9" y="1198.1" width="46.7" height="46.7" fill="rgb(57,57,57)" stroke="rgb(25,25,25)"/><rect x="325.8" y="1198.1" width="46.7" height="46.7" fill="rgb(47,47,47)" stroke="rgb(21,21,21)"/><rect x="374.7" y="1198.1" width="46.7" height="46.7" fill="rgb(50,50,50)" stroke="rgb(22,22,22)"/><rect x="423.7" y="1198.1" width="46.7" height="46.7" fill="rgb(48,48,48)" stroke="rgb(21,21,21)"/><rect x="472.6" y="1198.1" width="46.7" height="46.7" fill="rgb(37,37,37)" stroke="rgb(16,16,16)"/><rect x="521.5" y="1198.1" width="46.7" height="46.7" fill="rgb(44,44,44)" stroke="rgb(19,19,19)"/><rect x="81.2" y="1247.0" width="46.7" height="46.7" fill="rgb(45,45,45)" stroke="rgb(20,20,20)"/><rect x="130.1" y="1247.0" width="46.7" height="46.7" fill="rgb(35,35,35)" stroke="rgb(15,15,15)"/><rect x="179.0" y="1247.0" width="46.7" height="46.7" fill="rgb(46,46,46)" stroke="rgb(20,20,20)"/><rect x="227.9" y="1247.0" width="46.7" height="46.7" fill="rgb(45,45,45)" stroke="rgb(20,20,20)"/><rect x="276.9" y="1247.0" width="46.7" height="46.7" fill="rgb(48,48,48)" stroke="rgb(21,21,21)"/></g>
<rect x="80.0" y="854.4" width="489.3" height="391.4" filter="url(#nz)"/>
<rect x="80.0" y="1245.8" width="244.7" height="48.9" filter="url(#nz)"/>
<g fill="#fff" filter="url(#bl2)"><circle cx="105.6" cy="880.0" r="14.0" fill-opacity="0.18"/><circle cx="154.7" cy="877.8" r="14.0" fill-opacity="0.17"/><circle cx="201.3" cy="879.2" r="14.0" fill-opacity="0.18"/><circle cx="251.8" cy="879.5" r="14.0" fill-opacity="0.16"/><circle cx="299.5" cy="877.4" r="14.0" fill-opacity="0.13"/><circle cx="349.1" cy="879.6" r="14.0" fill-opacity="0.12"/><circle cx="396.8" cy="878.7" r="14.0" fill-opacity="0.16"/><circle cx="446.7" cy="879.0" r="8.7" fill-opacity="0.10"/><circle cx="496.0" cy="880.0" r="11.9" fill-opacity="0.16"/><circle cx="543.6" cy="877.7" r="14.0" fill-opacity="0.14"/><circle cx="104.6" cy="927.8" r="14.0" fill-opacity="0.12"/><circle cx="153.5" cy="927.8" r="14.0" fill-opacity="0.13"/><circle cx="201.2" cy="929.0" r="14.0" fill-opacity="0.18"/><circle cx="251.9" cy="927.2" r="11.9" fill-opacity="0.18"/><circle cx="301.1" cy="928.0" r="14.0" fill-opacity="0.18"/><circle cx="349.1" cy="928.5" r="14.0" fill-opacity="0.13"/><circle cx="397.9" cy="929.0" r="14.0" fill-opacity="0.14"/><circle cx="448.4" cy="928.8" r="14.0" fill-opacity="0.17"/><circle cx="496.6" cy="926.9" r="14.0" fill-opacity="0.14"/><circle cx="544.2" cy="929.0" r="11.9" fill-opacity="0.15"/><circle cx="104.0" cy="976.8" r="11.9" fill-opacity="0.14"/><circle cx="153.7" cy="976.6" r="14.0" fill-opacity="0.13"/><circle cx="200.9" cy="977.0" r="11.9" fill-opacity="0.15"/><circle cx="251.7" cy="977.0" r="14.0" fill-opacity="0.17"/><circle cx="300.1" cy="976.5" r="14.0" fill-opacity="0.18"/><circle cx="348.4" cy="977.5" r="14.0" fill-opacity="0.17"/><circle cx="397.0" cy="977.0" r="14.0" fill-opacity="0.17"/><circle cx="448.4" cy="976.3" r="14.0" fill-opacity="0.13"/><circle cx="496.5" cy="976.0" r="14.0" fill-opacity="0.16"/><circle cx="546.0" cy="975.8" r="14.0" fill-opacity="0.11"/><circle cx="103.8" cy="1024.3" r="14.0" fill-opacity="0.16"/><circle cx="153.8" cy="1025.6" r="11.9" fill-opacity="0.13"/><circle cx="203.2" cy="1026.9" r="14.0" fill-opacity="0.18"/><circle cx="250.3" cy="1025.6" r="14.0" fill-opacity="0.20"/><circle cx="300.6" cy="1025.0" r="14.0" fill-opacity="0.16"/><circle cx="350.5" cy="1024.3" r="14.0" fill-opacity="0.16"/><circle cx="397.5" cy="1026.5" r="14.0" fill-opacity="0.12"/><circle cx="446.6" cy="1025.5" r="14.0" fill-opacity="0.15"/><circle cx="496.4" cy="1025.3" r="14.0" fill-opacity="0.11"/><circle cx="543.7" cy="1025.2" r="14.0" fill-opacity="0.11"/><circle cx="105.4" cy="1073.9" r="14.0" fill-opacity="0.12"/><circle cx="153.9" cy="1074.0" r="11.9" fill-opacity="0.16"/><circle cx="203.8" cy="1073.7" r="14.0" fill-opacity="0.14"/><circle cx="250.8" cy="1073.6" r="14.0" fill-opacity="0.18"/><circle cx="300.5" cy="1074.9" r="11.9" fill-opacity="0.16"/><circle cx="347.8" cy="1076.0" r="14.0" fill-opacity="0.14"/><circle cx="397.2" cy="1076.0" r="14.0" fill-opacity="0.16"/><circle cx="446.0" cy="1073.6" r="14.0" fill-opacity="0.16"/><circle cx="497.2" cy="1075.1" r="14.0" fill-opacity="0.17"/><circle cx="544.1" cy="1075.0" r="14.0" fill-opacity="0.11"/><circle cx="105.7" cy="1122.8" r="14.0" fill-opacity="0.15"/><circle cx="153.7" cy="1123.3" r="14.0" fill-opacity="0.14"/><circle cx="202.3" cy="1122.8" r="14.0" fill-opacity="0.17"/><circle cx="250.8" cy="1123.9" r="11.9" fill-opacity="0.14"/><circle cx="300.5" cy="1124.7" r="14.0" fill-opacity="0.11"/><circle cx="349.3" cy="1124.4" r="14.0" fill-opacity="0.19"/><circle cx="399.3" cy="1124.1" r="14.0" fill-opacity="0.12"/><circle cx="446.4" cy="1124.6" r="11.9" fill-opacity="0.17"/><circle cx="496.2" cy="1123.2" r="14.0" fill-opacity="0.15"/><circle cx="545.8" cy="1122.6" r="14.0" fill-opacity="0.15"/><circle cx="104.9" cy="1171.7" r="14.0" fill-opacity="0.11"/><circle cx="153.2" cy="1171.2" r="14.0" fill-opacity="0.16"/><circle cx="202.0" cy="1172.9" r="14.0" fill-opacity="0.13"/><circle cx="250.9" cy="1173.9" r="14.0" fill-opacity="0.14"/><circle cx="300.2" cy="1172.8" r="14.0" fill-opacity="0.16"/><circle cx="350.6" cy="1173.8" r="14.0" fill-opacity="0.11"/><circle cx="398.8" cy="1171.1" r="11.9" fill-opacity="0.10"/><circle cx="447.3" cy="1173.1" r="14.0" fill-opacity="0.11"/><circle cx="496.4" cy="1172.0" r="14.0" fill-opacity="0.17"/><circle cx="543.4" cy="1173.5" r="14.0" fill-opacity="0.16"/><circle cx="103.2" cy="1221.2" r="14.0" fill-opacity="0.18"/><circle cx="153.6" cy="1222.6" r="11.9" fill-opacity="0.13"/><circle cx="202.3" cy="1222.9" r="14.0" fill-opacity="0.11"/><circle cx="252.8" cy="1220.8" r="14.0" fill-opacity="0.14"/><circle cx="298.8" cy="1221.0" r="14.0" fill-opacity="0.11"/><circle cx="348.1" cy="1222.3" r="14.0" fill-opacity="0.13"/><circle cx="398.4" cy="1222.3" r="14.0" fill-opacity="0.14"/><circle cx="446.3" cy="1222.5" r="14.0" fill-opacity="0.14"/><circle cx="494.6" cy="1220.2" r="11.9" fill-opacity="0.15"/><circle cx="544.1" cy="1221.7" r="14.0" fill-opacity="0.14"/><circle cx="104.0" cy="1269.8" r="14.0" fill-opacity="0.14"/><circle cx="152.8" cy="1270.5" r="11.9" fill-opacity="0.16"/><circle cx="201.7" cy="1269.4" r="14.0" fill-opacity="0.19"/><circle cx="251.8" cy="1271.6" r="14.0" fill-opacity="0.15"/><circle cx="301.2" cy="1271.0" r="14.0" fill-opacity="0.17"/></g>
<g fill="none" stroke="#fff" stroke-linecap="round" stroke-linejoin="round" filter="url(#bl)"><path stroke-width="3.9" stroke-opacity=".42" d="M104.9 881.5Q109.8 880.4 113.8 877.0M154.4 878.9Q150.1 878.1 146.8 883.3M153.4 876.6Q150.0 871.9 147.9 866.5M200.5 878.2Q203.8 876.1 204.9 871.7M200.4 879.4Q197.5 882.0 198.2 887.0M300.5 877.1Q304.3 876.9 307.9 878.7M300.5 876.8Q303.2 882.1 308.7 885.5M348.1 880.6Q349.4 874.5 354.1 869.5M347.6 879.7Q352.1 878.0 356.9 882.4M347.9 880.7Q346.7 885.0 341.6 887.1M348.5 881.0Q344.6 882.4 340.9 884.5M395.9 878.2Q393.5 883.6 384.9 882.6M396.3 878.4Q400.6 881.0 406.3 879.3M397.1 877.8Q395.4 883.6 401.3 889.1M447.9 878.9Q445.6 878.4 444.0 876.3M447.9 880.3Q447.5 877.8 446.7 875.2M447.7 879.4Q450.2 881.3 452.4 883.3M447.0 879.1Q445.0 880.0 443.0 880.9M494.9 879.7Q490.8 882.6 485.4 883.1M496.8 880.0Q495.6 874.7 500.1 869.7M544.0 877.4Q546.6 872.2 548.3 866.5M544.4 878.5Q549.8 876.3 555.9 880.7M543.1 878.2Q539.3 879.9 538.2 884.9M104.9 926.5Q103.3 931.3 97.8 933.7M153.9 927.5Q154.3 923.9 152.1 920.4M153.1 928.5Q148.2 930.8 143.8 933.9M200.4 928.4Q203.2 925.0 208.2 924.5M200.2 928.0Q195.4 926.6 190.4 929.2M252.7 926.7Q248.6 929.0 246.1 933.2M252.4 927.5Q255.5 928.6 258.4 925.0M300.6 926.5Q298.3 930.5 295.2 934.0M301.0 927.5Q299.5 922.7 292.7 921.7M348.2 927.2Q345.1 931.4 348.3 937.7M397.9 930.1Q396.6 933.9 393.3 936.6M449.2 929.9Q452.2 925.9 455.8 922.3M449.2 930.2Q448.2 934.1 446.7 937.9M496.3 925.6Q492.2 926.9 487.8 925.9M543.5 930.2Q544.5 934.6 545.9 938.8M545.4 928.2Q542.8 930.3 543.3 934.6M543.2 930.5Q541.2 934.4 536.8 936.7M544.6 927.6Q546.2 924.2 546.5 920.4M104.7 977.0Q108.0 979.8 113.2 978.1M153.4 976.2Q150.9 979.2 151.0 983.6M155.2 975.7Q150.1 974.6 148.8 967.7M155.1 976.5Q156.8 980.7 161.6 982.8M201.3 976.6Q205.8 976.6 209.2 980.7M251.8 976.3Q255.2 978.0 257.1 981.7M250.3 976.2Q247.2 973.5 245.3 969.7M299.5 977.8Q294.4 975.9 289.0 975.4M299.8 975.7Q305.8 977.6 310.4 982.4M348.4 977.4Q343.9 977.6 341.5 983.1M349.1 977.5Q349.3 973.2 345.6 969.6M396.4 978.0Q393.4 980.2 389.6 981.2M397.2 978.1Q398.5 984.5 409.2 983.5M449.4 975.3Q444.9 979.0 440.4 982.8M447.4 977.4Q452.5 976.7 456.2 972.3M495.6 974.6Q500.1 972.9 502.8 968.0M496.9 975.7Q494.9 979.3 495.2 983.7M495.9 976.7Q493.8 982.2 488.8 986.1M545.4 974.3Q549.5 976.2 554.1 976.3M544.6 974.5Q548.2 978.2 551.4 982.3M545.9 975.5Q542.6 981.5 533.6 981.3M103.9 1025.2Q99.6 1024.1 97.0 1030.7M105.3 1023.1Q110.5 1019.5 113.1 1013.1M103.5 1023.9Q103.2 1027.7 104.8 1031.4M153.0 1026.3Q154.8 1023.4 158.5 1022.2M153.6 1024.1Q156.3 1026.3 156.8 1030.3M154.6 1024.4Q154.1 1020.7 149.4 1019.0M204.7 1025.8Q202.6 1021.5 203.8 1016.3M251.7 1026.4Q247.1 1023.7 241.4 1024.2M249.1 1025.4Q254.2 1027.0 258.5 1020.4M251.7 1024.3Q256.8 1022.8 260.8 1029.9M251.7 1025.8Q246.6 1027.8 240.8 1024.4M299.9 1024.7Q295.7 1029.3 290.0 1032.2M299.5 1023.9Q294.2 1025.3 288.7 1025.4M351.4 1025.6Q349.7 1029.1 352.6 1033.4M351.4 1022.8Q345.0 1023.8 339.5 1027.8M396.4 1027.7Q390.8 1028.8 385.1 1027.1M398.7 1026.7Q400.9 1021.3 404.4 1016.7M397.9 1026.3Q402.7 1025.9 406.9 1029.3M397.9 1025.8Q395.6 1032.4 404.3 1038.1M447.6 1026.0Q446.5 1030.2 444.9 1034.2M446.9 1024.3Q445.2 1019.1 439.7 1016.1M495.8 1026.3Q493.2 1019.9 484.6 1018.2M496.6 1026.6Q495.0 1020.6 501.9 1015.4M496.9 1026.8Q499.2 1029.8 503.4 1030.6M495.3 1024.8Q493.5 1029.4 491.3 1033.9M495.8 1026.7Q491.0 1029.3 484.9 1028.6M544.1 1024.8Q539.9 1027.0 535.2 1021.2M104.9 1072.9Q100.5 1068.5 95.6 1064.8M104.5 1074.0Q108.5 1075.2 112.6 1071.7M155.1 1073.0Q151.8 1075.4 147.3 1075.5M154.4 1075.3Q156.0 1070.7 154.8 1065.6M153.6 1074.7Q158.1 1071.6 164.2 1071.9M152.8 1075.3Q154.5 1079.2 150.9 1083.6M204.0 1075.2Q202.3 1069.3 204.8 1063.1M203.7 1074.0Q205.3 1067.5 195.7 1063.3M249.3 1072.2Q253.5 1071.4 256.9 1068.4M249.3 1072.3Q248.5 1078.1 250.0 1083.9M301.0 1075.7Q304.3 1078.2 305.4 1082.8M300.1 1076.1Q296.2 1073.9 291.5 1078.2M299.9 1075.1Q304.0 1074.1 306.2 1069.6M346.6 1075.3Q340.5 1078.7 334.4 1082.2M347.8 1076.1Q343.0 1076.1 338.4 1073.8M346.5 1075.4Q348.8 1068.8 356.2 1065.4M395.8 1075.3Q398.3 1071.7 404.0 1071.9M445.2 1074.9Q441.2 1078.4 434.8 1077.5M497.9 1076.0Q503.9 1072.7 509.3 1068.3M496.8 1076.0Q501.0 1070.5 510.2 1072.8M496.1 1076.5Q498.8 1081.9 493.3 1088.2M497.9 1073.8Q490.9 1075.0 485.9 1081.3M544.6 1075.8Q547.7 1082.1 544.1 1089.8M105.9 1122.1Q101.1 1126.6 93.5 1126.4M154.2 1123.1Q160.4 1121.4 163.1 1113.9M202.9 1123.4Q205.9 1117.6 213.6 1115.9M201.3 1122.3Q204.2 1125.1 205.4 1129.2M250.6 1124.9Q247.5 1127.4 244.8 1130.3M249.9 1125.1Q251.9 1121.7 255.7 1119.9M251.8 1124.1Q253.6 1127.1 257.9 1127.5M301.2 1123.9Q302.8 1130.6 310.0 1134.5M349.4 1123.3Q347.3 1118.8 349.5 1113.4M350.5 1124.7Q356.5 1127.0 360.3 1133.2M397.8 1124.8Q399.9 1117.8 394.4 1110.6M400.5 1124.5Q405.4 1129.0 410.8 1132.8M397.8 1124.6Q396.8 1131.0 395.2 1137.3M447.6 1123.6Q447.3 1119.3 451.5 1115.9M446.3 1123.2Q441.6 1124.8 437.1 1127.1M497.0 1122.1Q494.5 1125.9 489.7 1127.6M497.4 1123.5Q492.5 1122.0 487.9 1119.4M495.5 1122.8Q498.1 1118.0 498.4 1112.3M546.5 1122.5Q550.6 1119.5 554.9 1116.9M545.5 1121.6Q551.5 1122.1 557.1 1125.1M544.4 1122.5Q543.7 1129.7 537.7 1135.3M544.6 1123.1Q544.6 1117.1 538.4 1112.9M104.8 1171.7Q103.9 1179.2 110.7 1185.5M104.1 1170.3Q99.1 1169.1 95.9 1164.3M104.1 1171.6Q103.7 1164.9 112.1 1160.9M151.9 1171.0Q147.4 1171.6 143.0 1173.4M153.3 1172.7Q157.6 1170.4 163.0 1173.7M202.4 1173.5Q202.0 1168.9 197.1 1165.9M200.8 1171.6Q205.6 1168.2 207.0 1161.6M202.0 1172.1Q204.9 1178.7 213.8 1180.6M251.8 1172.4Q258.5 1172.5 264.0 1178.2M398.8 1170.6Q395.1 1170.3 391.6 1172.7M399.3 1171.0Q403.1 1166.4 402.4 1159.6M399.6 1171.4Q405.4 1171.8 408.6 1164.0M398.1 1169.8Q394.4 1174.0 394.2 1180.3M448.7 1174.4Q452.7 1180.7 453.3 1188.5M497.2 1170.6Q501.2 1169.3 505.6 1169.3M495.1 1173.5Q498.6 1176.6 500.6 1181.2M497.1 1171.0Q495.0 1175.0 490.9 1177.7M496.7 1170.9Q492.9 1168.4 487.7 1170.0M497.3 1172.3Q498.3 1165.1 492.5 1158.6M543.7 1173.3Q542.3 1168.3 540.3 1163.6M543.7 1172.4Q539.3 1173.7 535.0 1175.3M102.7 1221.7Q98.5 1219.2 96.4 1214.2M102.7 1222.1Q102.8 1226.6 104.6 1231.0M153.8 1222.7Q152.1 1227.1 156.8 1231.6M202.4 1221.5Q201.8 1227.4 196.5 1231.8M203.8 1223.2Q201.0 1220.0 202.5 1214.8M251.5 1221.3Q252.2 1213.9 258.5 1208.2M251.5 1220.5Q255.2 1215.6 263.1 1216.5M298.0 1221.3Q302.4 1223.1 302.2 1229.7M298.1 1222.1Q300.2 1228.0 296.9 1234.6M299.8 1222.0Q296.1 1218.5 296.0 1212.5M349.1 1220.9Q353.2 1225.6 358.8 1228.9M347.0 1222.4Q344.3 1228.8 347.2 1236.3M397.7 1223.4Q391.2 1223.0 386.0 1217.7M397.0 1221.2Q395.9 1215.8 391.9 1211.4M446.3 1221.6Q452.6 1225.2 453.9 1234.0M495.5 1220.1Q493.2 1216.1 487.5 1215.6M544.0 1220.3Q546.9 1217.2 550.7 1215.1M543.9 1222.1Q547.0 1226.3 552.8 1227.3M545.3 1222.9Q549.3 1225.6 547.2 1232.4M543.9 1221.3Q541.3 1225.7 542.3 1231.5M104.2 1269.5Q101.7 1266.0 100.2 1261.9M103.6 1268.5Q98.0 1272.0 93.5 1277.0M153.6 1270.9Q148.3 1267.1 142.2 1264.6M253.3 1271.8Q250.0 1274.8 249.3 1279.8M250.4 1273.0Q245.8 1269.8 244.8 1263.2M300.0 1271.4Q293.9 1275.6 287.1 1278.5M300.3 1271.9Q294.5 1270.2 288.5 1269.1"/><path stroke-width="1.7" stroke-opacity=".5" d="M99.3 877.6A4.4 2.8 219 1 0 92.5 872.2A4.4 2.8 219 1 0 99.3 877.6M102.0 869.6A4.1 2.7 249 1 0 99.1 861.9A4.1 2.7 249 1 0 102.0 869.6M108.5 887.2A3.2 2.1 468 1 0 106.5 893.3A3.2 2.1 468 1 0 108.5 887.2M159.9 882.8A3.1 2.0 64 1 0 162.6 888.3A3.1 2.0 64 1 0 159.9 882.8M147.4 882.7A4.4 2.8 133 1 0 141.4 889.1A4.4 2.8 133 1 0 147.4 882.7M148.3 867.1A3.7 2.4 234 1 0 143.9 861.1A3.7 2.4 234 1 0 148.3 867.1M211.5 883.4A4.1 2.7 393 1 0 218.3 887.9A4.1 2.7 393 1 0 211.5 883.4M189.0 876.4A3.3 2.1 576 1 0 183.8 872.6A3.3 2.1 576 1 0 189.0 876.4M244.7 872.7A3.4 2.2 223 1 0 239.7 868.0A3.4 2.2 223 1 0 244.7 872.7M260.7 879.5A3.2 2.1 396 1 0 265.9 883.2A3.2 2.1 396 1 0 260.7 879.5M245.7 885.9A4.0 2.6 504 1 0 239.2 890.6A4.0 2.6 504 1 0 245.7 885.9M353.6 870.0A3.3 2.2 321 1 0 358.7 865.7A3.3 2.2 321 1 0 353.6 870.0M341.3 883.9A3.9 2.5 488 1 0 336.6 890.0A3.9 2.5 488 1 0 341.3 883.9M385.5 882.4A2.9 1.9 159 1 0 380.1 884.5A2.9 1.9 159 1 0 385.5 882.4M495.1 890.6A3.3 2.2 78 1 0 496.5 897.1A3.3 2.2 78 1 0 495.1 890.6M485.9 883.1A2.5 1.6 170 1 0 480.9 883.9A2.5 1.6 170 1 0 485.9 883.1M500.1 870.1A2.3 1.5 265 1 0 499.7 865.5A2.3 1.5 265 1 0 500.1 870.1M502.0 874.6A2.3 1.5 355 1 0 506.6 874.3A2.3 1.5 355 1 0 502.0 874.6M534.9 875.1A3.5 2.3 160 1 0 528.2 877.4A3.5 2.3 160 1 0 534.9 875.1M555.2 880.2A4.2 2.7 392 1 0 562.3 884.7A4.2 2.7 392 1 0 555.2 880.2M107.9 922.5A4.2 2.7 312 1 0 113.6 916.3A4.2 2.7 312 1 0 107.9 922.5M98.4 933.2A3.5 2.3 500 1 0 92.9 937.7A3.5 2.3 500 1 0 98.4 933.2M152.4 921.0A3.2 2.1 250 1 0 150.2 915.1A3.2 2.1 250 1 0 152.4 921.0M156.0 933.6A3.3 2.1 414 1 0 159.8 938.9A3.3 2.1 414 1 0 156.0 933.6M144.1 933.5A3.1 2.0 489 1 0 140.2 938.3A3.1 2.0 489 1 0 144.1 933.5M205.0 919.4A3.8 2.5 306 1 0 209.4 913.2A3.8 2.5 306 1 0 205.0 919.4M203.9 935.7A4.1 2.7 448 1 0 204.1 943.9A4.1 2.7 448 1 0 203.9 935.7M246.5 932.7A3.2 2.1 125 1 0 242.8 938.0A3.2 2.1 125 1 0 246.5 932.7M251.4 921.0A3.7 2.4 271 1 0 251.6 913.6A3.7 2.4 271 1 0 251.4 921.0M306.1 933.8A3.6 2.4 39 1 0 311.7 938.4A3.6 2.4 39 1 0 306.1 933.8M295.6 933.3A4.1 2.6 121 1 0 291.4 940.3A4.1 2.6 121 1 0 295.6 933.3M293.1 922.1A2.8 1.8 214 1 0 288.4 918.9A2.8 1.8 214 1 0 293.1 922.1M303.7 922.7A3.6 2.3 255 1 0 302.0 915.8A3.6 2.3 255 1 0 303.7 922.7M308.9 927.1A3.6 2.3 345 1 0 315.7 925.2A3.6 2.3 345 1 0 308.9 927.1M355.8 930.0A4.2 2.7 391 1 0 363.0 934.4A4.2 2.7 391 1 0 355.8 930.0M393.8 936.0A3.9 2.6 128 1 0 388.9 942.2A3.9 2.6 128 1 0 393.8 936.0M440.9 931.2A3.7 2.4 494 1 0 435.7 936.5A3.7 2.4 494 1 0 440.9 931.2M488.5 926.0A3.5 2.3 186 1 0 481.5 925.2A3.5 2.3 186 1 0 488.5 926.0M537.1 924.7A3.1 2.0 195 1 0 531.2 923.1A3.1 2.0 195 1 0 537.1 924.7M546.2 921.1A3.7 2.4 290 1 0 548.8 914.2A3.7 2.4 290 1 0 546.2 921.1M552.5 928.8A2.9 1.9 357 1 0 558.3 928.5A2.9 1.9 357 1 0 552.5 928.8M103.0 987.0A3.0 1.9 91 1 0 102.9 993.0A3.0 1.9 91 1 0 103.0 987.0M112.5 978.3A3.4 2.2 346 1 0 119.1 976.7A3.4 2.2 346 1 0 112.5 978.3M151.3 983.2A2.7 1.7 131 1 0 147.9 987.2A2.7 1.7 131 1 0 151.3 983.2M149.5 968.0A4.2 2.7 206 1 0 142.0 964.4A4.2 2.7 206 1 0 149.5 968.0M156.5 966.1A3.0 2.0 267 1 0 156.2 960.1A3.0 2.0 267 1 0 156.5 966.1M162.0 976.0A3.1 2.0 376 1 0 168.1 977.7A3.1 2.0 376 1 0 162.0 976.0M198.8 970.2A3.4 2.2 251 1 0 196.5 963.9A3.4 2.2 251 1 0 198.8 970.2M202.6 986.6A2.9 1.9 456 1 0 202.0 992.4A2.9 1.9 456 1 0 202.6 986.6M256.4 981.4A4.1 2.7 27 1 0 263.7 985.1A4.1 2.7 27 1 0 256.4 981.4M248.8 982.3A3.5 2.3 136 1 0 243.7 987.2A3.5 2.3 136 1 0 248.8 982.3M245.8 970.1A3.3 2.1 221 1 0 240.8 965.8A3.3 2.1 221 1 0 245.8 970.1M253.9 970.9A4.3 2.8 272 1 0 254.2 962.3A4.3 2.8 272 1 0 253.9 970.9M296.2 984.3A3.7 2.4 102 1 0 294.7 991.6A3.7 2.4 102 1 0 296.2 984.3M304.3 966.8A4.1 2.7 277 1 0 305.3 958.7A4.1 2.7 277 1 0 304.3 966.8M352.5 986.9A4.0 2.6 422 1 0 356.2 994.0A4.0 2.6 422 1 0 352.5 986.9M341.9 982.4A3.9 2.5 485 1 0 337.5 988.8A3.9 2.5 485 1 0 341.9 982.4M392.4 969.0A2.7 1.8 231 1 0 389.0 964.7A2.7 1.8 231 1 0 392.4 969.0M409.2 970.9A3.1 2.0 318 1 0 413.7 966.7A3.1 2.0 318 1 0 409.2 970.9M408.6 982.9A4.1 2.7 406 1 0 414.3 988.8A4.1 2.7 406 1 0 408.6 982.9M440.9 982.2A3.6 2.3 133 1 0 436.0 987.6A3.6 2.3 133 1 0 440.9 982.2M437.9 969.7A2.8 1.8 224 1 0 433.9 965.9A2.8 1.8 224 1 0 437.9 969.7M455.7 972.6A3.1 2.0 330 1 0 461.0 969.6A3.1 2.0 330 1 0 455.7 972.6M488.9 985.5A3.2 2.1 460 1 0 487.8 991.8A3.2 2.1 460 1 0 488.9 985.5M552.6 970.9A2.9 1.9 289 1 0 554.5 965.4A2.9 1.9 289 1 0 552.6 970.9M553.4 976.3A3.7 2.4 360 1 0 560.8 976.3A3.7 2.4 360 1 0 553.4 976.3M551.0 982.0A2.7 1.8 391 1 0 555.7 984.8A2.7 1.8 391 1 0 551.0 982.0M534.1 981.1A2.7 1.8 518 1 0 529.1 983.1A2.7 1.8 518 1 0 534.1 981.1M541.8 968.0A2.9 1.9 577 1 0 537.1 964.4A2.9 1.9 577 1 0 541.8 968.0M112.8 1013.8A3.9 2.5 294 1 0 115.9 1006.7A3.9 2.5 294 1 0 112.8 1013.8M156.6 1029.8A2.7 1.8 425 1 0 158.9 1034.7A2.7 1.8 425 1 0 156.6 1029.8M150.0 1019.3A3.7 2.4 570 1 0 143.6 1015.7A3.7 2.4 570 1 0 150.0 1019.3M204.1 1017.0A3.8 2.4 248 1 0 201.3 1010.0A3.8 2.4 248 1 0 204.1 1017.0M241.8 1024.5A2.9 1.9 216 1 0 237.1 1021.0A2.9 1.9 216 1 0 241.8 1024.5M252.2 1017.5A3.0 1.9 260 1 0 251.2 1011.6A3.0 1.9 260 1 0 252.2 1017.5M247.5 1033.8A3.5 2.3 437 1 0 249.1 1040.6A3.5 2.3 437 1 0 247.5 1033.8M241.6 1024.6A4.1 2.6 559 1 0 233.9 1022.0A4.1 2.6 559 1 0 241.6 1024.6M302.0 1032.1A3.0 1.9 88 1 0 302.2 1038.0A3.0 1.9 88 1 0 302.0 1032.1M290.3 1031.7A2.8 1.8 121 1 0 287.3 1036.6A2.8 1.8 121 1 0 290.3 1031.7M306.3 1016.7A2.8 1.8 331 1 0 311.1 1013.9A2.8 1.8 331 1 0 306.3 1016.7M358.9 1022.3A3.8 2.5 339 1 0 365.9 1019.5A3.8 2.5 339 1 0 358.9 1022.3M391.4 1020.0A3.9 2.6 216 1 0 385.0 1015.3A3.9 2.6 216 1 0 391.4 1020.0M406.1 1029.0A4.4 2.9 382 1 0 414.2 1032.3A4.4 2.9 382 1 0 406.1 1029.0M404.2 1037.6A2.8 1.8 439 1 0 405.3 1043.0A2.8 1.8 439 1 0 404.2 1037.6M445.3 1033.7A3.2 2.1 134 1 0 440.8 1038.4A3.2 2.1 134 1 0 445.3 1033.7M439.9 1016.6A3.0 2.0 256 1 0 438.4 1010.8A3.0 2.0 256 1 0 439.9 1016.6M457.3 1026.8A3.7 2.4 389 1 0 463.7 1030.4A3.7 2.4 389 1 0 457.3 1026.8M501.3 1016.0A4.3 2.8 310 1 0 506.8 1009.4A4.3 2.8 310 1 0 501.3 1016.0M502.7 1030.3A4.0 2.6 387 1 0 509.8 1033.9A4.0 2.6 387 1 0 502.7 1030.3M491.7 1033.5A2.8 1.8 492 1 0 487.9 1037.7A2.8 1.8 492 1 0 491.7 1033.5M548.2 1033.6A3.6 2.3 77 1 0 549.8 1040.6A3.6 2.3 77 1 0 548.2 1033.6M548.5 1016.8A3.3 2.2 276 1 0 549.2 1010.2A3.3 2.2 276 1 0 548.5 1016.8M111.8 1071.9A4.0 2.6 349 1 0 119.6 1070.4A4.0 2.6 349 1 0 111.8 1071.9M108.1 1087.8A2.6 1.7 446 1 0 108.4 1093.0A2.6 1.7 446 1 0 108.1 1087.8M154.5 1066.1A2.3 1.5 297 1 0 156.6 1062.0A2.3 1.5 297 1 0 154.5 1066.1M150.8 1082.9A3.6 2.3 440 1 0 152.0 1090.0A3.6 2.3 440 1 0 150.8 1082.9M207.6 1083.2A3.5 2.3 397 1 0 213.2 1087.3A3.5 2.3 397 1 0 207.6 1083.2M304.9 1082.3A3.4 2.2 44 1 0 309.8 1087.0A3.4 2.2 44 1 0 304.9 1082.3M292.0 1078.2A2.4 1.6 183 1 0 287.1 1078.0A2.4 1.6 183 1 0 292.0 1078.2M306.0 1070.2A3.5 2.3 291 1 0 308.5 1063.7A3.5 2.3 291 1 0 306.0 1070.2M356.0 1086.7A3.8 2.5 71 1 0 358.5 1093.9A3.8 2.5 71 1 0 356.0 1086.7M334.9 1081.8A2.9 1.9 142 1 0 330.3 1085.5A2.9 1.9 142 1 0 334.9 1081.8M403.4 1072.1A3.5 2.2 345 1 0 410.0 1070.3A3.5 2.2 345 1 0 403.4 1072.1M434.9 1071.4A2.8 1.8 207 1 0 429.9 1068.9A2.8 1.8 207 1 0 434.9 1071.4M454.0 1075.2A4.1 2.7 380 1 0 461.6 1078.0A4.1 2.7 380 1 0 454.0 1075.2M508.7 1068.9A4.1 2.6 315 1 0 514.5 1063.2A4.1 2.6 315 1 0 508.7 1068.9M493.5 1087.6A2.9 1.9 475 1 0 491.1 1093.0A2.9 1.9 475 1 0 493.5 1087.6M545.3 1061.9A3.9 2.6 263 1 0 544.3 1054.1A3.9 2.6 263 1 0 545.3 1061.9M553.3 1070.6A3.3 2.2 328 1 0 558.9 1067.1A3.3 2.2 328 1 0 553.3 1070.6M113.1 1112.6A2.7 1.8 293 1 0 115.3 1107.5A2.7 1.8 293 1 0 113.1 1112.6M107.6 1133.6A3.9 2.5 417 1 0 111.8 1140.1A3.9 2.5 417 1 0 107.6 1133.6M146.9 1127.4A4.2 2.7 151 1 0 139.6 1131.5A4.2 2.7 151 1 0 146.9 1127.4M144.8 1122.5A3.7 2.4 183 1 0 137.3 1122.1A3.7 2.4 183 1 0 144.8 1122.5M150.1 1111.7A3.8 2.5 262 1 0 149.1 1104.1A3.8 2.5 262 1 0 150.1 1111.7M162.5 1114.4A4.0 2.6 316 1 0 168.3 1108.9A4.0 2.6 316 1 0 162.5 1114.4M196.4 1119.4A3.7 2.4 241 1 0 192.8 1112.9A3.7 2.4 241 1 0 196.4 1119.4M213.1 1116.4A3.1 2.0 317 1 0 217.7 1112.1A3.1 2.0 317 1 0 213.1 1116.4M255.4 1120.4A2.8 1.8 303 1 0 258.4 1115.7A2.8 1.8 303 1 0 255.4 1120.4M257.5 1127.4A2.3 1.5 381 1 0 261.7 1129.0A2.3 1.5 381 1 0 257.5 1127.4M288.7 1129.5A2.6 1.7 183 1 0 283.5 1129.2A2.6 1.7 183 1 0 288.7 1129.5M309.6 1134.1A3.1 2.0 407 1 0 313.8 1138.6A3.1 2.0 407 1 0 309.6 1134.1M351.1 1134.1A4.3 2.8 53 1 0 356.4 1140.9A4.3 2.8 53 1 0 351.1 1134.1M359.6 1132.9A3.9 2.5 376 1 0 367.0 1135.1A3.9 2.5 376 1 0 359.6 1132.9M404.6 1117.7A3.2 2.1 318 1 0 409.3 1113.4A3.2 2.1 318 1 0 404.6 1117.7M395.5 1136.5A4.2 2.7 470 1 0 392.6 1144.4A4.2 2.7 470 1 0 395.5 1136.5M451.2 1116.5A3.4 2.2 300 1 0 454.6 1110.7A3.4 2.2 300 1 0 451.2 1116.5M446.1 1134.0A2.3 1.5 466 1 0 444.9 1138.4A2.3 1.5 466 1 0 446.1 1134.0M441.0 1134.0A3.0 2.0 467 1 0 439.2 1139.8A3.0 2.0 467 1 0 441.0 1134.0M437.4 1126.6A2.7 1.8 489 1 0 434.0 1130.8A2.7 1.8 489 1 0 437.4 1126.6M489.3 1113.8A3.2 2.1 242 1 0 486.2 1108.2A3.2 2.1 242 1 0 489.3 1113.8M498.5 1113.1A4.1 2.7 268 1 0 498.2 1104.9A4.1 2.7 268 1 0 498.5 1113.1M554.1 1117.0A4.0 2.6 353 1 0 562.0 1116.0A4.0 2.6 353 1 0 554.1 1117.0M115.4 1166.7A2.8 1.8 344 1 0 120.8 1165.1A2.8 1.8 344 1 0 115.4 1166.7M110.4 1184.7A4.3 2.8 426 1 0 113.9 1192.5A4.3 2.8 426 1 0 110.4 1184.7M94.9 1177.7A3.7 2.4 520 1 0 88.0 1180.2A3.7 2.4 520 1 0 94.9 1177.7M96.4 1164.4A2.8 1.8 555 1 0 91.0 1162.9A2.8 1.8 555 1 0 96.4 1164.4M111.7 1161.7A4.3 2.8 658 1 0 115.6 1154.1A4.3 2.8 658 1 0 111.7 1161.7M151.4 1161.6A3.0 2.0 268 1 0 151.2 1155.6A3.0 2.0 268 1 0 151.4 1161.6M161.8 1159.2A2.7 1.8 291 1 0 163.7 1154.1A2.7 1.8 291 1 0 161.8 1159.2M154.0 1182.4A3.8 2.5 431 1 0 156.4 1189.7A3.8 2.5 431 1 0 154.0 1182.4M260.7 1170.4A3.4 2.2 352 1 0 267.5 1169.5A3.4 2.2 352 1 0 260.7 1170.4M263.1 1178.2A4.2 2.7 361 1 0 271.5 1178.2A4.2 2.7 361 1 0 263.1 1178.2M252.9 1186.6A2.8 1.9 421 1 0 255.7 1191.6A2.8 1.9 421 1 0 252.9 1186.6M309.1 1181.6A3.4 2.2 41 1 0 314.2 1186.1A3.4 2.2 41 1 0 309.1 1181.6M290.5 1178.5A2.7 1.8 144 1 0 286.1 1181.7A2.7 1.8 144 1 0 290.5 1178.5M297.5 1159.0A2.8 1.8 231 1 0 293.9 1154.7A2.8 1.8 231 1 0 297.5 1159.0M308.0 1170.9A3.2 2.1 352 1 0 314.4 1170.0A3.2 2.1 352 1 0 308.0 1170.9M348.0 1180.7A2.7 1.7 468 1 0 346.4 1185.7A2.7 1.7 468 1 0 348.0 1180.7M405.1 1176.6A3.6 2.3 366 1 0 412.2 1177.3A3.6 2.3 366 1 0 405.1 1176.6M438.0 1173.3A3.5 2.2 174 1 0 431.2 1174.0A3.5 2.2 174 1 0 438.0 1173.3M446.8 1158.6A4.4 2.9 252 1 0 444.2 1150.3A4.4 2.9 252 1 0 446.8 1158.6M451.8 1164.3A2.8 1.8 323 1 0 456.2 1160.9A2.8 1.8 323 1 0 451.8 1164.3M500.1 1180.6A3.9 2.5 409 1 0 505.1 1186.5A3.9 2.5 409 1 0 500.1 1180.6M488.4 1167.1A3.4 2.2 577 1 0 482.9 1163.0A3.4 2.2 577 1 0 488.4 1167.1M492.9 1159.4A4.1 2.7 603 1 0 489.2 1152.0A4.1 2.7 603 1 0 492.9 1159.4M536.7 1163.0A3.1 2.0 244 1 0 534.0 1157.5A3.1 2.0 244 1 0 536.7 1163.0M540.8 1164.3A4.4 2.8 233 1 0 535.6 1157.4A4.4 2.8 233 1 0 540.8 1164.3M553.6 1171.9A3.2 2.1 341 1 0 559.7 1169.8A3.2 2.1 341 1 0 553.6 1171.9M111.8 1220.4A3.5 2.3 373 1 0 118.7 1221.9A3.5 2.3 373 1 0 111.8 1220.4M104.3 1230.3A3.5 2.3 425 1 0 107.4 1236.7A3.5 2.3 425 1 0 104.3 1230.3M95.4 1225.6A3.5 2.3 515 1 0 89.0 1228.6A3.5 2.3 515 1 0 95.4 1225.6M145.5 1223.3A2.4 1.6 208 1 0 141.1 1221.0A2.4 1.6 208 1 0 145.5 1223.3M157.6 1212.5A2.3 1.5 283 1 0 158.7 1207.9A2.3 1.5 283 1 0 157.6 1212.5M197.1 1231.4A3.9 2.5 148 1 0 190.6 1235.6A3.9 2.5 148 1 0 197.1 1231.4M196.3 1224.8A4.3 2.8 129 1 0 190.8 1231.5A4.3 2.8 129 1 0 196.3 1224.8M202.6 1215.5A3.3 2.2 262 1 0 201.7 1208.9A3.3 2.2 262 1 0 202.6 1215.5M212.2 1222.4A3.4 2.2 361 1 0 219.0 1222.6A3.4 2.2 361 1 0 212.2 1222.4M252.0 1231.9A2.7 1.8 454 1 0 251.6 1237.3A2.7 1.8 454 1 0 252.0 1231.9M287.7 1228.8A4.0 2.6 483 1 0 283.4 1235.5A4.0 2.6 483 1 0 287.7 1228.8M304.4 1210.6A2.6 1.7 651 1 0 306.3 1205.6A2.6 1.7 651 1 0 304.4 1210.6M347.7 1213.9A4.3 2.8 270 1 0 347.8 1205.4A4.3 2.8 270 1 0 347.7 1213.9M358.2 1228.3A3.9 2.5 404 1 0 363.8 1233.7A3.9 2.5 404 1 0 358.2 1228.3M386.5 1218.2A3.5 2.3 219 1 0 381.1 1213.8A3.5 2.3 219 1 0 386.5 1218.2M392.4 1211.9A3.6 2.4 227 1 0 387.5 1206.7A3.6 2.4 227 1 0 392.4 1211.9M400.5 1211.6A3.1 2.0 301 1 0 403.7 1206.2A3.1 2.0 301 1 0 400.5 1211.6M406.5 1233.6A3.7 2.4 423 1 0 409.9 1240.3A3.7 2.4 423 1 0 406.5 1233.6M449.6 1210.8A3.0 2.0 271 1 0 449.6 1204.8A3.0 2.0 271 1 0 449.6 1210.8M453.8 1233.2A3.9 2.6 446 1 0 454.3 1241.1A3.9 2.6 446 1 0 453.8 1233.2M505.0 1216.7A3.0 2.0 310 1 0 508.9 1212.0A3.0 2.0 310 1 0 505.0 1216.7M545.9 1211.9A3.6 2.3 284 1 0 547.7 1205.0A3.6 2.3 284 1 0 545.9 1211.9M550.2 1215.7A3.5 2.3 306 1 0 554.4 1209.9A3.5 2.3 306 1 0 550.2 1215.7M552.4 1226.8A3.4 2.2 409 1 0 556.8 1232.0A3.4 2.2 409 1 0 552.4 1226.8M542.0 1230.7A4.2 2.7 431 1 0 544.8 1238.6A4.2 2.7 431 1 0 542.0 1230.7M107.0 1283.5A4.0 2.6 470 1 0 104.2 1290.9A4.0 2.6 470 1 0 107.0 1283.5M214.7 1265.7A4.0 2.6 318 1 0 220.6 1260.4A4.0 2.6 318 1 0 214.7 1265.7M208.4 1278.2A3.1 2.0 396 1 0 213.4 1281.8A3.1 2.0 396 1 0 208.4 1278.2M258.3 1278.9A3.4 2.2 52 1 0 262.4 1284.2A3.4 2.2 52 1 0 258.3 1278.9M243.6 1268.5A4.0 2.6 192 1 0 235.8 1266.8A4.0 2.6 192 1 0 243.6 1268.5M263.2 1270.2A3.5 2.3 347 1 0 270.0 1268.6A3.5 2.3 347 1 0 263.2 1270.2M308.2 1286.1A3.1 2.0 69 1 0 310.4 1291.9A3.1 2.0 69 1 0 308.2 1286.1M289.1 1269.5A3.7 2.4 212 1 0 282.8 1265.6A3.7 2.4 212 1 0 289.1 1269.5M301.8 1261.8A3.8 2.4 284 1 0 303.6 1254.5A3.8 2.4 284 1 0 301.8 1261.8M315.4 1264.4A3.9 2.5 346 1 0 323.0 1262.6A3.9 2.5 346 1 0 315.4 1264.4"/><path stroke-width="3.3" stroke-opacity=".8" d="M106.5 878.8Q102.5 878.2 98.6 877.1M105.7 878.7Q102.7 874.3 101.7 868.8M104.3 880.8Q108.2 882.9 110.7 886.9M107.1 879.7Q105.3 883.4 108.3 887.8M153.8 878.5Q156.7 881.3 160.2 883.3M201.0 878.0Q204.6 883.2 212.2 883.9M200.6 879.0Q194.4 878.4 188.5 876.0M250.4 879.8Q246.9 876.3 244.2 872.2M253.2 879.0Q255.8 873.3 251.9 866.5M251.4 878.0Q255.6 875.3 261.2 879.9M251.8 879.5Q248.7 883.2 245.0 886.4M299.5 876.7Q294.5 873.9 292.9 867.3M298.6 876.4Q296.6 872.8 299.6 868.2M299.9 877.2Q299.2 881.6 300.0 886.2M299.9 877.1Q296.4 878.6 292.4 875.8M396.8 880.1Q399.2 874.6 401.4 869.0M447.3 880.5Q447.8 877.6 451.0 876.0M495.5 881.2Q492.3 885.1 495.2 891.3M495.0 879.0Q498.7 876.7 502.5 874.6M544.7 876.7Q540.5 880.0 534.2 875.3M544.3 876.4Q545.9 882.0 551.8 885.2M103.8 927.5Q106.2 924.8 108.5 921.9M105.0 928.8Q110.0 933.0 113.3 938.9M152.7 928.5Q157.1 924.7 163.8 925.1M154.2 926.4Q152.2 929.9 156.3 934.2M200.3 928.4Q203.8 924.2 205.4 918.8M200.8 928.5Q199.5 932.6 203.9 936.5M201.7 929.3Q199.4 923.8 191.5 923.3M253.1 927.8Q251.8 924.2 251.5 920.2M300.3 926.6Q302.1 931.3 306.6 934.3M301.9 929.4Q304.2 926.4 303.6 922.0M302.4 927.2Q304.8 924.6 309.6 926.9M350.3 927.1Q349.5 923.5 349.5 919.7M348.1 929.3Q352.3 928.5 356.5 930.5M350.6 929.0Q345.4 928.6 340.2 929.8M398.2 929.0Q402.4 933.4 399.6 941.0M398.4 929.8Q395.2 928.1 393.1 924.9M399.4 929.5Q403.6 928.0 408.3 928.0M447.9 928.2Q444.0 929.8 440.3 931.7M496.3 925.4Q498.5 919.8 501.5 914.4M497.0 925.7Q500.6 925.1 504.3 925.5M496.1 926.9Q496.9 932.7 503.5 936.1M495.7 925.6Q491.7 924.5 487.6 927.8M544.5 929.9Q541.8 925.9 536.5 924.6M545.0 929.7Q549.1 929.5 553.1 928.8M104.3 977.6Q101.6 981.9 103.0 987.6M103.4 976.5Q99.2 973.9 94.2 972.9M153.6 975.8Q148.5 974.7 143.2 977.2M154.8 977.3Q152.8 971.7 156.4 965.5M154.2 977.5Q158.0 975.6 162.6 976.2M200.2 977.2Q201.3 973.5 198.5 969.6M201.0 978.4Q200.0 982.8 202.5 987.2M200.1 977.3Q196.0 980.6 190.2 980.6M200.9 976.8Q197.8 975.0 195.6 971.9M252.6 975.7Q250.1 979.1 248.3 982.8M252.5 977.7Q249.8 974.9 253.9 970.0M251.4 977.5Q257.8 975.2 261.2 968.2M301.0 976.4Q301.0 981.4 296.1 985.0M299.3 975.3Q301.9 970.7 304.4 966.0M300.2 975.3Q303.6 979.7 308.3 982.9M348.5 977.0Q353.2 974.5 357.2 970.8M349.2 977.9Q354.0 979.9 352.8 987.6M398.3 976.3Q396.7 982.6 387.3 983.2M397.7 976.2Q398.5 971.5 392.0 968.6M397.6 976.3Q402.3 971.6 409.6 970.4M447.7 975.8Q443.3 971.6 437.5 969.4M497.5 976.2Q497.4 971.5 495.7 967.0M546.7 977.2Q548.9 973.2 552.8 970.4M547.0 977.3Q542.0 974.7 541.3 967.6M203.2 1027.1Q208.4 1031.2 216.0 1030.4M203.4 1026.9Q202.8 1031.9 198.1 1035.4M249.5 1024.9Q249.5 1020.7 252.1 1016.9M249.4 1025.0Q247.0 1029.2 247.7 1034.5M300.0 1024.3Q299.4 1028.6 302.0 1032.7M299.7 1024.8Q294.6 1021.9 292.3 1015.7M301.0 1023.6Q305.2 1021.8 306.8 1016.4M299.8 1025.9Q302.7 1028.7 306.9 1029.9M349.2 1023.4Q354.6 1024.0 359.7 1025.7M350.4 1025.4Q350.6 1018.7 351.3 1012.1M351.9 1025.1Q355.5 1023.0 359.6 1022.0M398.9 1027.2Q393.4 1025.9 390.7 1019.5M445.3 1024.5Q451.3 1022.3 457.9 1027.1M542.8 1025.8Q544.1 1030.7 548.4 1034.3M542.6 1025.8Q544.6 1020.5 548.6 1016.2M105.3 1073.9Q100.0 1071.8 93.9 1074.7M106.8 1074.6Q105.1 1081.3 108.1 1088.3M202.8 1073.8Q207.8 1076.3 208.2 1083.6M202.7 1073.1Q197.0 1074.0 194.6 1081.2M249.3 1074.5Q244.2 1075.2 238.9 1074.5M249.7 1072.9Q250.8 1068.4 245.4 1064.7M347.3 1077.3Q349.4 1083.7 356.2 1087.4M398.2 1075.9Q394.7 1082.1 389.9 1087.4M397.9 1075.2Q393.9 1074.2 390.9 1071.2M445.0 1074.2Q442.4 1069.4 434.4 1071.2M446.1 1073.2Q447.6 1067.7 451.6 1063.2M446.4 1075.0Q450.6 1075.2 454.7 1075.5M446.2 1074.9Q449.1 1081.1 452.7 1086.9M497.7 1075.1Q494.2 1069.3 492.6 1062.6M544.6 1076.3Q540.5 1078.7 535.1 1076.3M543.4 1075.1Q547.4 1069.3 545.2 1061.1M542.8 1073.6Q547.7 1070.6 553.8 1070.3M105.6 1122.6Q109.9 1117.7 113.3 1112.1M105.9 1123.6Q109.3 1127.8 108.1 1134.2M153.6 1123.5Q149.3 1123.9 146.1 1127.8M154.5 1123.9Q150.9 1120.0 144.0 1122.5M154.8 1123.1Q152.1 1117.1 150.0 1110.9M153.4 1124.1Q155.5 1128.7 162.0 1129.6M154.6 1124.3Q160.8 1127.6 160.3 1137.2M203.0 1124.2Q201.2 1120.1 196.1 1118.7M201.2 1123.2Q203.8 1119.0 202.1 1113.3M203.2 1123.6Q204.1 1128.0 202.2 1132.6M249.7 1125.3Q246.6 1122.9 246.1 1118.2M299.5 1125.2Q293.5 1125.4 288.2 1129.5M299.6 1123.7Q298.1 1120.0 297.6 1115.9M349.1 1124.5Q348.0 1129.6 351.7 1134.7M350.4 1123.5Q345.9 1122.0 341.4 1120.7M399.4 1125.5Q399.0 1120.5 405.1 1117.3M397.9 1124.4Q392.6 1127.5 386.3 1128.3M445.1 1124.6Q444.7 1120.1 441.8 1116.3M447.5 1123.2Q451.4 1123.5 454.4 1119.6M445.3 1123.6Q449.5 1127.1 446.0 1134.4M445.8 1123.7Q445.8 1129.7 440.8 1134.6M497.4 1121.9Q502.9 1125.1 506.0 1131.2M495.9 1123.4Q497.4 1117.4 488.9 1113.3M494.7 1122.7Q498.1 1118.9 504.0 1118.4M546.2 1121.2Q539.4 1120.6 532.5 1120.5M103.5 1171.6Q110.1 1170.4 115.9 1166.5M103.6 1171.4Q100.9 1176.5 94.2 1177.9M154.5 1170.3Q149.3 1175.4 146.2 1182.2M153.4 1170.6Q154.7 1165.9 151.4 1161.0M153.2 1170.4Q156.7 1164.0 162.0 1158.7M154.5 1172.1Q157.7 1176.6 154.2 1183.2M202.8 1173.1Q201.5 1177.0 201.2 1181.1M249.7 1172.7Q243.6 1175.9 236.1 1171.0M251.7 1174.4Q255.5 1168.9 256.7 1162.1M249.6 1172.8Q255.7 1172.9 261.4 1170.4M250.6 1174.0Q251.7 1180.6 253.2 1187.1M251.9 1173.6Q249.9 1179.3 240.2 1176.8M299.1 1172.3Q300.7 1179.3 309.6 1182.1M299.7 1173.0Q294.5 1175.2 290.1 1178.8M299.8 1172.2Q295.1 1167.1 297.1 1158.6M299.0 1171.8Q303.8 1172.0 308.6 1170.8M349.7 1174.7Q343.8 1170.4 346.7 1160.4M349.2 1173.2Q354.6 1168.4 354.1 1159.7M349.8 1172.5Q354.0 1175.0 359.5 1173.6M350.5 1173.4Q348.0 1176.6 347.9 1181.2M397.8 1171.3Q402.6 1172.1 405.8 1176.7M446.2 1172.9Q441.9 1171.8 437.4 1173.3M448.3 1172.3Q450.1 1165.2 446.5 1157.8M448.3 1171.7Q448.0 1167.4 452.2 1163.9M448.1 1173.1Q452.0 1178.4 453.9 1184.8M495.2 1172.4Q491.3 1169.9 487.8 1166.7M544.6 1173.2Q545.0 1166.5 536.4 1162.5M544.6 1172.9Q548.3 1169.8 554.2 1171.7M544.5 1174.2Q542.9 1180.7 544.3 1187.6M102.0 1221.5Q106.0 1215.3 115.2 1214.9M104.4 1222.2Q108.1 1224.0 112.5 1220.5M102.8 1220.3Q102.0 1227.6 96.1 1233.3M103.6 1222.6Q101.2 1226.7 94.7 1225.9M152.2 1223.2Q148.6 1223.3 145.0 1223.1M153.2 1223.8Q157.1 1218.9 157.7 1212.0M152.4 1222.7Q157.2 1223.0 162.0 1222.6M203.8 1222.1Q200.0 1224.2 195.8 1225.5M203.5 1221.9Q207.6 1224.2 212.9 1222.5M253.6 1221.0Q251.8 1226.5 251.9 1232.4M252.9 1219.8Q245.9 1220.9 238.9 1221.4M298.5 1222.3Q301.7 1218.3 308.4 1219.9M299.2 1220.4Q292.3 1223.3 287.2 1229.5M298.4 1221.2Q302.6 1216.4 304.6 1210.1M347.5 1222.6Q349.2 1218.2 347.8 1213.1M347.4 1223.1Q342.9 1223.6 341.4 1229.8M348.1 1221.9Q343.0 1220.2 340.7 1214.0M397.5 1223.5Q398.6 1217.1 400.8 1211.0M398.6 1222.0Q405.4 1225.5 413.4 1218.3M398.4 1222.1Q404.2 1226.8 406.9 1234.3M399.1 1221.9Q395.0 1224.3 391.2 1227.2M445.3 1221.6Q440.9 1227.5 437.2 1234.0M446.2 1223.9Q448.0 1217.2 438.9 1212.1M444.9 1222.8Q446.3 1216.3 449.6 1210.2M446.7 1221.2Q452.5 1221.3 458.3 1222.9M495.6 1220.3Q500.0 1217.3 505.4 1216.2M494.9 1219.4Q499.9 1223.0 500.9 1230.1M494.3 1221.0Q490.8 1221.8 490.7 1227.1M544.4 1222.5Q539.9 1219.5 534.0 1219.5M543.0 1221.9Q546.3 1217.4 546.1 1211.2M104.9 1269.6Q103.0 1265.0 102.8 1259.8M104.9 1270.3Q107.9 1263.0 118.8 1263.0M104.7 1269.0Q103.2 1276.5 106.7 1284.2M153.1 1269.5Q156.8 1266.1 160.3 1262.4M152.2 1271.7Q154.6 1277.6 157.8 1283.2M152.5 1270.0Q150.6 1275.6 144.6 1278.7M201.4 1269.7Q208.7 1269.9 215.3 1265.2M200.6 1269.9Q202.7 1275.5 208.9 1278.6M202.2 1270.7Q197.8 1274.1 191.6 1273.7M201.1 1268.4Q196.8 1266.8 194.8 1261.8M251.9 1271.2Q253.5 1276.3 258.7 1279.4M252.4 1270.2Q247.9 1268.2 242.8 1268.3M251.6 1272.0Q257.5 1273.9 263.9 1270.0M302.1 1272.4Q305.1 1279.6 308.4 1286.7M301.3 1270.8Q305.1 1267.8 302.0 1261.1M302.5 1271.4Q309.0 1267.3 316.1 1264.2"/><path stroke-width="4.5" stroke-opacity=".95" d="M104.0 878.5h0M102.8 873.8h0M109.3 886.7h0M108.5 884.9h0M105.6 880.0h0M157.5 881.7h0M154.7 877.8h0M210.3 883.6h0M194.9 877.8h0M201.3 879.2h0M247.6 876.1h0M251.6 872.1h0M254.5 878.3h0M248.2 883.2h0M251.8 879.5h0M296.6 872.7h0M298.5 868.6h0M299.5 884.7h0M297.1 876.0h0M299.5 877.4h0M349.1 879.6h0M399.0 874.5h0M396.8 878.7h0M447.9 878.1h0M446.7 879.0h0M496.0 889.5h0M502.1 876.3h0M496.0 880.0h0M536.6 875.0h0M547.8 881.5h0M543.6 877.7h0M105.7 924.2h0M111.1 934.7h0M104.6 927.8h0M160.3 925.1h0M155.8 929.4h0M153.5 927.8h0M204.8 920.3h0M202.8 932.5h0M196.4 926.0h0M201.2 929.0h0M253.0 922.9h0M251.9 927.2h0M302.6 931.2h0M302.2 926.0h0M307.8 926.6h0M301.1 928.0h0M349.4 923.2h0M354.2 930.0h0M346.8 929.0h0M349.1 928.5h0M398.5 936.4h0M396.3 928.0h0M402.1 929.2h0M397.9 929.0h0M442.5 930.4h0M448.4 928.8h0M501.1 917.9h0M502.2 926.2h0M502.6 933.8h0M490.7 926.8h0M496.6 926.9h0M540.7 926.7h0M553.0 929.6h0M544.2 929.0h0M102.6 983.6h0M100.7 976.0h0M104.0 976.8h0M145.5 976.4h0M156.9 968.5h0M161.0 976.8h0M153.7 976.6h0M199.8 969.9h0M201.5 985.5h0M196.6 978.9h0M198.9 973.6h0M200.9 977.0h0M249.6 980.6h0M253.3 973.4h0M257.1 973.2h0M251.7 977.0h0M298.2 982.2h0M303.7 967.6h0M304.8 980.1h0M300.1 976.5h0M353.5 972.8h0M352.3 985.6h0M348.4 977.5h0M388.9 982.4h0M395.6 973.5h0M404.0 973.0h0M397.0 977.0h0M440.5 970.8h0M448.4 976.3h0M496.4 970.1h0M496.5 976.0h0M551.2 972.8h0M542.8 968.8h0M546.0 975.8h0M103.8 1024.3h0M153.8 1025.6h0M214.0 1029.7h0M199.6 1033.0h0M203.2 1026.9h0M250.2 1022.0h0M247.3 1031.9h0M250.3 1025.6h0M301.0 1029.1h0M294.2 1018.1h0M305.6 1018.5h0M302.6 1027.8h0M300.6 1025.0h0M357.3 1024.7h0M350.5 1019.3h0M358.9 1021.5h0M350.5 1024.3h0M391.8 1021.6h0M397.5 1026.5h0M454.7 1027.2h0M446.6 1025.5h0M496.4 1025.3h0M546.7 1030.8h0M545.0 1022.2h0M543.7 1025.2h0M95.8 1074.1h0M108.4 1085.4h0M105.4 1073.9h0M153.9 1074.0h0M205.6 1080.3h0M197.6 1080.0h0M203.8 1073.7h0M242.4 1074.2h0M246.0 1066.0h0M250.8 1073.6h0M300.5 1074.9h0M354.8 1084.2h0M347.8 1076.0h0M391.9 1084.9h0M395.2 1073.3h0M397.2 1076.0h0M437.2 1073.1h0M449.0 1067.1h0M450.5 1075.9h0M449.8 1083.0h0M446.0 1073.6h0M493.9 1067.6h0M497.2 1075.1h0M537.3 1075.9h0M544.8 1070.0h0M550.7 1071.8h0M544.1 1075.0h0M111.2 1116.9h0M107.8 1131.3h0M105.7 1122.8h0M146.2 1127.0h0M148.6 1123.0h0M151.7 1113.4h0M158.8 1127.7h0M158.9 1133.5h0M153.7 1123.3h0M198.5 1120.6h0M202.7 1117.0h0M203.0 1128.2h0M202.3 1122.8h0M247.5 1121.8h0M250.8 1123.9h0M290.2 1127.6h0M299.1 1119.9h0M300.5 1124.7h0M351.4 1133.2h0M344.3 1121.5h0M349.3 1124.4h0M402.5 1121.2h0M391.7 1125.7h0M399.3 1124.1h0M442.0 1118.3h0M452.4 1121.3h0M446.3 1127.3h0M443.7 1128.0h0M446.4 1124.6h0M502.3 1127.2h0M489.6 1115.8h0M503.3 1118.0h0M496.2 1123.2h0M540.5 1120.0h0M545.8 1122.6h0M112.0 1168.2h0M96.1 1175.4h0M104.9 1171.7h0M150.0 1177.0h0M152.8 1164.7h0M159.0 1163.6h0M154.3 1177.6h0M153.2 1171.2h0M201.8 1177.6h0M202.0 1172.9h0M244.7 1172.1h0M254.7 1166.5h0M255.7 1171.4h0M251.7 1182.3h0M243.4 1175.5h0M250.9 1173.9h0M306.9 1179.8h0M295.9 1174.9h0M298.7 1162.8h0M306.9 1170.6h0M300.2 1172.8h0M348.0 1168.0h0M352.9 1165.5h0M355.5 1172.9h0M349.1 1176.0h0M350.6 1173.8h0M403.9 1175.9h0M398.8 1171.1h0M439.0 1172.9h0M447.5 1163.7h0M450.8 1168.7h0M452.1 1180.2h0M447.3 1173.1h0M489.3 1167.4h0M496.4 1172.0h0M540.0 1168.5h0M550.2 1172.2h0M544.9 1180.6h0M543.4 1173.5h0M108.2 1218.1h0M108.2 1221.6h0M97.4 1232.7h0M98.8 1223.5h0M103.2 1221.2h0M147.7 1223.5h0M154.6 1218.5h0M158.7 1222.2h0M153.6 1222.6h0M200.2 1224.6h0M211.2 1222.0h0M202.3 1222.9h0M252.8 1225.0h0M241.7 1221.4h0M252.8 1220.8h0M302.1 1220.2h0M295.0 1223.2h0M303.5 1213.8h0M298.8 1221.0h0M348.4 1217.7h0M344.8 1226.6h0M343.0 1216.9h0M348.1 1222.3h0M401.1 1214.5h0M412.2 1218.4h0M402.2 1228.7h0M392.0 1227.6h0M398.4 1222.3h0M441.9 1227.5h0M440.7 1215.3h0M447.9 1215.7h0M452.5 1221.2h0M446.3 1222.5h0M502.3 1217.8h0M499.1 1225.8h0M491.4 1225.2h0M494.6 1220.2h0M536.5 1220.2h0M545.9 1213.9h0M544.1 1221.7h0M103.5 1261.9h0M116.6 1264.2h0M106.6 1281.4h0M104.0 1269.8h0M155.1 1266.6h0M156.2 1282.0h0M148.8 1273.0h0M152.8 1270.5h0M208.7 1267.5h0M206.1 1276.8h0M197.0 1272.3h0M197.5 1265.8h0M201.7 1269.4h0M257.1 1278.4h0M249.0 1269.4h0M260.0 1270.9h0M251.8 1271.6h0M306.2 1279.6h0M301.0 1265.3h0M313.4 1265.6h0M301.2 1271.0h0"/></g>
<rect x="78.6" y="1302.3" width="153.4" height="50.0" fill="#8e8e8c"/>
<g><rect x="79.4" y="1303.1" width="50.1" height="48.4" fill="rgb(40,40,40)"/><rect x="130.2" y="1303.1" width="50.1" height="48.4" fill="rgb(36,36,36)"/><rect x="181.0" y="1303.1" width="50.1" height="48.4" fill="rgb(36,36,36)"/></g>
<rect x="78.6" y="1302.3" width="153.4" height="50.0" filter="url(#nz)"/>
<g fill="none" stroke="#fff" stroke-linecap="round" filter="url(#bl)"><path transform="translate(104.4 1327.3)" stroke-width="2" stroke-opacity=".6" d="M-14.6 -16L-2 -1.5M1.4 -2.4a3.6 3.6 0 1 0 7.2 0a3.6 3.6 0 1 0 -7.2 0M-1.6 9.0a3.6 3.6 0 1 0 7.2 0a3.6 3.6 0 1 0 -7.2 0"/><path transform="translate(155.2 1327.3)" stroke-width="2" stroke-opacity=".6" d="M2 1Q10 5 21 0.5"/><path transform="translate(206.1 1327.3)" stroke-width="2" stroke-opacity=".6" d="M-18.6 -3.3Q-8 -4.5 0 0"/><path transform="translate(155.2 1327.3)" stroke-width="3.4" stroke-opacity=".85" d="M-8 -1.5Q-3 -2 3 1.5"/><path transform="translate(206.1 1327.3)" stroke-width="3.4" stroke-opacity=".85" d="M-2 -0.5Q6 1 12.7 4.5"/><path transform="translate(104.4 1327.3)" stroke-width="4.8" stroke-opacity=".97" d="M6.5 -4.5h0M3 11.5h0M-1 3h0"/><path transform="translate(155.2 1327.3)" stroke-width="4.8" stroke-opacity=".97" d="M-7.8 -1.4h0M-3 -0.4h0"/><path transform="translate(206.1 1327.3)" stroke-width="4.8" stroke-opacity=".97" d="M4.9 2.5h0M10.8 4.5h0"/></g>
<rect x="632.7" y="854.2" width="490.1" height="393.2" fill="#bebeba"/>
<rect x="632.7" y="854.2" width="490.1" height="343.5" fill="#d0d0cd"/>
<rect x="632.7" y="1197.0" width="392.4" height="49.5" fill="#d0d0cd"/>
<g><rect x="634.0" y="855.5" width="46.8" height="46.8" fill="rgb(45,45,45)" stroke="rgb(20,20,20)"/><rect x="683.0" y="855.5" width="46.8" height="46.8" fill="rgb(49,49,49)" stroke="rgb(22,22,22)"/><rect x="731.9" y="855.5" width="46.8" height="46.8" fill="rgb(47,47,47)" stroke="rgb(21,21,21)"/><rect x="780.9" y="855.5" width="46.8" height="46.8" fill="rgb(58,58,58)" stroke="rgb(26,26,26)"/><rect x="829.9" y="855.5" width="46.8" height="46.8" fill="rgb(35,35,35)" stroke="rgb(15,15,15)"/><rect x="878.8" y="855.5" width="46.8" height="46.8" fill="rgb(59,59,59)" stroke="rgb(26,26,26)"/><rect x="927.8" y="855.5" width="46.8" height="46.8" fill="rgb(58,58,58)" stroke="rgb(26,26,26)"/><rect x="976.7" y="855.5" width="46.8" height="46.8" fill="rgb(45,45,45)" stroke="rgb(20,20,20)"/><rect x="1025.7" y="855.5" width="46.8" height="46.8" fill="rgb(18,18,18)" stroke="rgb(8,8,8)"/><rect x="1074.6" y="855.5" width="46.8" height="46.8" fill="rgb(50,50,50)" stroke="rgb(22,22,22)"/><rect x="634.0" y="904.5" width="46.8" height="46.8" fill="rgb(49,49,49)" stroke="rgb(22,22,22)"/><rect x="683.0" y="904.5" width="46.8" height="46.8" fill="rgb(45,45,45)" stroke="rgb(20,20,20)"/><rect x="731.9" y="904.5" width="46.8" height="46.8" fill="rgb(60,60,60)" stroke="rgb(27,27,27)"/><rect x="780.9" y="904.5" width="46.8" height="46.8" fill="rgb(48,48,48)" stroke="rgb(21,21,21)"/><rect x="829.9" y="904.5" width="46.8" height="46.8" fill="rgb(48,48,48)" stroke="rgb(21,21,21)"/><rect x="878.8" y="904.5" width="46.8" height="46.8" fill="rgb(37,37,37)" stroke="rgb(16,16,16)"/><rect x="927.8" y="904.5" width="46.8" height="46.8" fill="rgb(50,50,50)" stroke="rgb(22,22,22)"/><rect x="976.7" y="904.5" width="46.8" height="46.8" fill="rgb(63,63,63)" stroke="rgb(28,28,28)"/><rect x="1025.7" y="904.5" width="46.8" height="46.8" fill="rgb(62,62,62)" stroke="rgb(27,27,27)"/><rect x="1074.6" y="904.5" width="46.8" height="46.8" fill="rgb(50,50,50)" stroke="rgb(22,22,22)"/><rect x="634.0" y="953.4" width="46.8" height="46.8" fill="rgb(47,47,47)" stroke="rgb(21,21,21)"/><rect x="683.0" y="953.4" width="46.8" height="46.8" fill="rgb(60,60,60)" stroke="rgb(27,27,27)"/><rect x="731.9" y="953.4" width="46.8" height="46.8" fill="rgb(61,61,61)" stroke="rgb(27,27,27)"/><rect x="780.9" y="953.4" width="46.8" height="46.8" fill="rgb(50,50,50)" stroke="rgb(22,22,22)"/><rect x="829.9" y="953.4" width="46.8" height="46.8" fill="rgb(32,32,32)" stroke="rgb(14,14,14)"/><rect x="878.8" y="953.4" width="46.8" height="46.8" fill="rgb(59,59,59)" stroke="rgb(26,26,26)"/><rect x="927.8" y="953.4" width="46.8" height="46.8" fill="rgb(49,49,49)" stroke="rgb(22,22,22)"/><rect x="976.7" y="953.4" width="46.8" height="46.8" fill="rgb(45,45,45)" stroke="rgb(20,20,20)"/><rect x="1025.7" y="953.4" width="46.8" height="46.8" fill="rgb(62,62,62)" stroke="rgb(27,27,27)"/><rect x="1074.6" y="953.4" width="46.8" height="46.8" fill="rgb(46,46,46)" stroke="rgb(20,20,20)"/><rect x="634.0" y="1002.4" width="46.8" height="46.8" fill="rgb(44,44,44)" stroke="rgb(19,19,19)"/><rect x="683.0" y="1002.4" width="46.8" height="46.8" fill="rgb(49,49,49)" stroke="rgb(22,22,22)"/><rect x="731.9" y="1002.4" width="46.8" height="46.8" fill="rgb(45,45,45)" stroke="rgb(20,20,20)"/><rect x="780.9" y="1002.4" width="46.8" height="46.8" fill="rgb(45,45,45)" stroke="rgb(20,20,20)"/><rect x="829.9" y="1002.4" width="46.8" height="46.8" fill="rgb(49,49,49)" stroke="rgb(22,22,22)"/><rect x="878.8" y="1002.4" width="46.8" height="46.8" fill="rgb(59,59,59)" stroke="rgb(26,26,26)"/><rect x="927.8" y="1002.4" width="46.8" height="46.8" fill="rgb(47,47,47)" stroke="rgb(21,21,21)"/><rect x="976.7" y="1002.4" width="46.8" height="46.8" fill="rgb(48,48,48)" stroke="rgb(21,21,21)"/><rect x="1025.7" y="1002.4" width="46.8" height="46.8" fill="rgb(35,35,35)" stroke="rgb(15,15,15)"/><rect x="1074.6" y="1002.4" width="46.8" height="46.8" fill="rgb(48,48,48)" stroke="rgb(21,21,21)"/><rect x="634.0" y="1051.4" width="46.8" height="46.8" fill="rgb(46,46,46)" stroke="rgb(20,20,20)"/><rect x="683.0" y="1051.4" width="46.8" height="46.8" fill="rgb(47,47,47)" stroke="rgb(21,21,21)"/><rect x="731.9" y="1051.4" width="46.8" height="46.8" fill="rgb(50,50,50)" stroke="rgb(22,22,22)"/><rect x="780.9" y="1051.4" width="46.8" height="46.8" fill="rgb(49,49,49)" stroke="rgb(22,22,22)"/><rect x="829.9" y="1051.4" width="46.8" height="46.8" fill="rgb(50,50,50)" stroke="rgb(22,22,22)"/><rect x="878.8" y="1051.4" width="46.8" height="46.8" fill="rgb(60,60,60)" stroke="rgb(27,27,27)"/><rect x="927.8" y="1051.4" width="46.8" height="46.8" fill="rgb(50,50,50)" stroke="rgb(22,22,22)"/><rect x="976.7" y="1051.4" width="46.8" height="46.8" fill="rgb(45,45,45)" stroke="rgb(20,20,20)"/><rect x="1025.7" y="1051.4" width="46.8" height="46.8" fill="rgb(48,48,48)" stroke="rgb(21,21,21)"/><rect x="1074.6" y="1051.4" width="46.8" height="46.8" fill="rgb(33,33,33)" stroke="rgb(14,14,14)"/><rect x="634.0" y="1100.3" width="46.8" height="46.8" fill="rgb(37,37,37)" stroke="rgb(16,16,16)"/><rect x="683.0" y="1100.3" width="46.8" height="46.8" fill="rgb(37,37,37)" stroke="rgb(16,16,16)"/><rect x="731.9" y="1100.3" width="46.8" height="46.8" fill="rgb(32,32,32)" stroke="rgb(14,14,14)"/><rect x="780.9" y="1100.3" width="46.8" height="46.8" fill="rgb(57,57,57)" stroke="rgb(25,25,25)"/><rect x="829.9" y="1100.3" width="46.8" height="46.8" fill="rgb(58,58,58)" stroke="rgb(26,26,26)"/><rect x="878.8" y="1100.3" width="46.8" height="46.8" fill="rgb(59,59,59)" stroke="rgb(26,26,26)"/><rect x="927.8" y="1100.3" width="46.8" height="46.8" fill="rgb(37,37,37)" stroke="rgb(16,16,16)"/><rect x="976.7" y="1100.3" width="46.8" height="46.8" fill="rgb(44,44,44)" stroke="rgb(19,19,19)"/><rect x="1025.7" y="1100.3" width="46.8" height="46.8" fill="rgb(61,61,61)" stroke="rgb(27,27,27)"/><rect x="1074.6" y="1100.3" width="46.8" height="46.8" fill="rgb(44,44,44)" stroke="rgb(19,19,19)"/><rect x="634.0" y="1149.2" width="46.8" height="46.8" fill="rgb(48,48,48)" stroke="rgb(21,21,21)"/><rect x="683.0" y="1149.2" width="46.8" height="46.8" fill="rgb(44,44,44)" stroke="rgb(19,19,19)"/><rect x="731.9" y="1149.2" width="46.8" height="46.8" fill="rgb(61,61,61)" stroke="rgb(27,27,27)"/><rect x="780.9" y="1149.2" width="46.8" height="46.8" fill="rgb(49,49,49)" stroke="rgb(22,22,22)"/><rect x="829.9" y="1149.2" width="46.8" height="46.8" fill="rgb(49,49,49)" stroke="rgb(22,22,22)"/><rect x="878.8" y="1149.2" width="46.8" height="46.8" fill="rgb(47,47,47)" stroke="rgb(21,21,21)"/><rect x="927.8" y="1149.2" width="46.8" height="46.8" fill="rgb(48,48,48)" stroke="rgb(21,21,21)"/><rect x="976.7" y="1149.2" width="46.8" height="46.8" fill="rgb(48,48,48)" stroke="rgb(21,21,21)"/><rect x="1025.7" y="1149.2" width="46.8" height="46.8" fill="rgb(62,62,62)" stroke="rgb(27,27,27)"/><rect x="1074.6" y="1149.2" width="46.8" height="46.8" fill="rgb(20,20,20)" stroke="rgb(9,9,9)"/><rect x="634.0" y="1198.2" width="46.8" height="46.8" fill="rgb(57,57,57)" stroke="rgb(25,25,25)"/><rect x="683.0" y="1198.2" width="46.8" height="46.8" fill="rgb(46,46,46)" stroke="rgb(20,20,20)"/><rect x="731.9" y="1198.2" width="46.8" height="46.8" fill="rgb(50,50,50)" stroke="rgb(22,22,22)"/><rect x="780.9" y="1198.2" width="46.8" height="46.8" fill="rgb(45,45,45)" stroke="rgb(20,20,20)"/><rect x="829.9" y="1198.2" width="46.8" height="46.8" fill="rgb(44,44,44)" stroke="rgb(19,19,19)"/><rect x="878.8" y="1198.2" width="46.8" height="46.8" fill="rgb(47,47,47)" stroke="rgb(21,21,21)"/><rect x="927.8" y="1198.2" width="46.8" height="46.8" fill="rgb(48,48,48)" stroke="rgb(21,21,21)"/><rect x="976.7" y="1198.2" width="46.8" height="46.8" fill="rgb(61,61,61)" stroke="rgb(27,27,27)"/></g>
<rect x="632.9" y="854.4" width="489.5" height="342.7" filter="url(#nz)"/>
<rect x="632.9" y="1197.0" width="391.6" height="49.0" filter="url(#nz)"/>
<g fill="#fff" filter="url(#bl2)"><circle cx="658.2" cy="878.0" r="14.0" fill-opacity="0.18"/><circle cx="706.5" cy="878.1" r="14.0" fill-opacity="0.20"/><circle cx="755.5" cy="878.1" r="14.0" fill-opacity="0.18"/><circle cx="804.0" cy="878.5" r="14.0" fill-opacity="0.11"/><circle cx="851.7" cy="878.6" r="11.9" fill-opacity="0.14"/><circle cx="901.0" cy="879.5" r="14.0" fill-opacity="0.20"/><circle cx="952.0" cy="880.4" r="14.0" fill-opacity="0.11"/><circle cx="1001.1" cy="879.2" r="14.0" fill-opacity="0.16"/><circle cx="1048.2" cy="880.0" r="8.7" fill-opacity="0.17"/><circle cx="1098.5" cy="878.3" r="14.0" fill-opacity="0.17"/><circle cx="658.2" cy="928.1" r="14.0" fill-opacity="0.20"/><circle cx="706.4" cy="927.6" r="14.0" fill-opacity="0.19"/><circle cx="756.1" cy="928.1" r="14.0" fill-opacity="0.19"/><circle cx="805.3" cy="927.3" r="14.0" fill-opacity="0.17"/><circle cx="853.2" cy="928.8" r="14.0" fill-opacity="0.18"/><circle cx="900.9" cy="927.5" r="11.9" fill-opacity="0.14"/><circle cx="950.1" cy="927.2" r="14.0" fill-opacity="0.15"/><circle cx="999.8" cy="929.2" r="14.0" fill-opacity="0.17"/><circle cx="1047.7" cy="929.1" r="14.0" fill-opacity="0.12"/><circle cx="1097.2" cy="929.3" r="14.0" fill-opacity="0.14"/><circle cx="656.0" cy="976.1" r="14.0" fill-opacity="0.16"/><circle cx="706.3" cy="975.7" r="14.0" fill-opacity="0.14"/><circle cx="756.4" cy="976.3" r="14.0" fill-opacity="0.16"/><circle cx="803.0" cy="977.1" r="14.0" fill-opacity="0.19"/><circle cx="853.5" cy="977.2" r="11.9" fill-opacity="0.15"/><circle cx="902.9" cy="977.4" r="14.0" fill-opacity="0.19"/><circle cx="952.4" cy="975.7" r="14.0" fill-opacity="0.12"/><circle cx="999.3" cy="978.3" r="14.0" fill-opacity="0.16"/><circle cx="1049.2" cy="977.6" r="14.0" fill-opacity="0.12"/><circle cx="1098.0" cy="976.1" r="14.0" fill-opacity="0.18"/><circle cx="658.4" cy="1024.3" r="14.0" fill-opacity="0.15"/><circle cx="706.6" cy="1026.2" r="14.0" fill-opacity="0.12"/><circle cx="754.6" cy="1025.0" r="14.0" fill-opacity="0.11"/><circle cx="804.8" cy="1025.4" r="14.0" fill-opacity="0.13"/><circle cx="853.1" cy="1026.9" r="14.0" fill-opacity="0.10"/><circle cx="901.9" cy="1024.8" r="14.0" fill-opacity="0.19"/><circle cx="950.0" cy="1024.5" r="14.0" fill-opacity="0.12"/><circle cx="1000.0" cy="1027.0" r="14.0" fill-opacity="0.14"/><circle cx="1047.9" cy="1024.7" r="11.9" fill-opacity="0.12"/><circle cx="1099.3" cy="1026.0" r="14.0" fill-opacity="0.10"/><circle cx="656.2" cy="1074.6" r="14.0" fill-opacity="0.18"/><circle cx="706.6" cy="1075.2" r="14.0" fill-opacity="0.20"/><circle cx="753.9" cy="1075.5" r="14.0" fill-opacity="0.15"/><circle cx="803.0" cy="1074.5" r="14.0" fill-opacity="0.14"/><circle cx="854.6" cy="1075.3" r="14.0" fill-opacity="0.18"/><circle cx="901.8" cy="1076.0" r="14.0" fill-opacity="0.16"/><circle cx="951.3" cy="1074.0" r="14.0" fill-opacity="0.15"/><circle cx="1001.5" cy="1074.6" r="14.0" fill-opacity="0.18"/><circle cx="1050.0" cy="1074.2" r="14.0" fill-opacity="0.11"/><circle cx="1099.3" cy="1074.3" r="11.9" fill-opacity="0.13"/><circle cx="657.0" cy="1122.2" r="11.9" fill-opacity="0.12"/><circle cx="705.5" cy="1122.9" r="11.9" fill-opacity="0.10"/><circle cx="755.7" cy="1124.1" r="11.9" fill-opacity="0.14"/><circle cx="805.2" cy="1123.7" r="14.0" fill-opacity="0.17"/><circle cx="852.9" cy="1124.7" r="14.0" fill-opacity="0.12"/><circle cx="902.6" cy="1122.6" r="14.0" fill-opacity="0.11"/><circle cx="951.7" cy="1122.5" r="11.9" fill-opacity="0.20"/><circle cx="1000.8" cy="1124.1" r="14.0" fill-opacity="0.14"/><circle cx="1049.3" cy="1122.5" r="14.0" fill-opacity="0.17"/><circle cx="1097.8" cy="1124.7" r="14.0" fill-opacity="0.19"/><circle cx="657.4" cy="1172.7" r="14.0" fill-opacity="0.12"/><circle cx="706.6" cy="1172.7" r="14.0" fill-opacity="0.12"/><circle cx="755.0" cy="1173.4" r="14.0" fill-opacity="0.20"/><circle cx="803.5" cy="1171.9" r="14.0" fill-opacity="0.14"/><circle cx="852.0" cy="1173.7" r="14.0" fill-opacity="0.13"/><circle cx="902.3" cy="1172.2" r="14.0" fill-opacity="0.17"/><circle cx="951.2" cy="1171.9" r="14.0" fill-opacity="0.19"/><circle cx="999.0" cy="1172.9" r="14.0" fill-opacity="0.14"/><circle cx="1048.5" cy="1174.0" r="14.0" fill-opacity="0.18"/><circle cx="1097.6" cy="1174.1" r="8.7" fill-opacity="0.14"/><circle cx="657.3" cy="1220.8" r="14.0" fill-opacity="0.11"/><circle cx="705.8" cy="1222.2" r="14.0" fill-opacity="0.15"/><circle cx="756.1" cy="1222.7" r="14.0" fill-opacity="0.12"/><circle cx="803.7" cy="1222.5" r="14.0" fill-opacity="0.13"/><circle cx="854.5" cy="1220.7" r="14.0" fill-opacity="0.15"/><circle cx="902.3" cy="1220.5" r="14.0" fill-opacity="0.18"/><circle cx="952.3" cy="1221.1" r="14.0" fill-opacity="0.11"/><circle cx="1000.8" cy="1222.8" r="14.0" fill-opacity="0.19"/></g>
<g fill="none" stroke="#fff" stroke-linecap="round" stroke-linejoin="round" filter="url(#bl)"><path stroke-width="3.9" stroke-opacity=".42" d="M658.1 878.9Q653.5 878.8 649.8 883.0M657.6 877.8Q662.2 879.5 667.5 877.5M707.2 877.2Q711.5 876.9 715.3 874.3M754.3 878.4Q752.2 882.2 753.1 887.0M804.4 877.1Q808.6 874.8 809.0 868.5M803.8 879.1Q807.3 884.3 802.0 891.6M803.2 878.9Q799.2 882.3 793.7 883.5M805.4 879.3Q801.9 877.7 800.2 873.6M900.3 880.1Q894.6 881.7 888.8 876.9M900.6 879.8Q906.5 881.8 910.9 872.7M953.4 879.7Q951.0 884.1 953.3 889.8M952.0 880.4Q946.6 877.6 947.7 869.0M951.2 879.7Q956.2 878.8 955.6 870.5M950.7 879.4Q954.9 877.9 958.9 876.1M952.3 881.8Q955.6 883.0 955.3 888.2M1048.2 881.0Q1047.2 878.8 1047.6 876.2M1047.4 881.4Q1043.8 880.4 1040.1 883.2M1097.2 877.6Q1091.1 879.3 1087.7 886.1M1099.3 878.0Q1096.4 875.5 1094.7 871.8M1099.7 877.2Q1101.0 872.3 1107.6 870.8M1098.2 877.8Q1104.0 877.4 1109.2 874.0M1097.7 876.9Q1098.4 880.5 1099.0 884.1M657.9 929.5Q654.1 927.7 649.9 932.1M707.0 927.6Q707.9 921.7 701.0 917.2M707.8 926.4Q702.0 928.2 695.6 927.6M754.9 927.8Q751.4 933.0 743.4 933.2M805.1 927.5Q810.8 929.0 816.9 927.0M805.3 928.6Q808.0 932.8 813.5 934.1M806.2 928.0Q804.2 924.6 804.0 920.5M854.5 927.6Q853.6 921.3 860.0 916.2M854.2 928.2Q858.8 930.0 863.5 931.6M852.9 927.5Q855.8 933.3 855.1 940.3M901.5 927.1Q897.8 928.9 895.4 932.5M901.2 926.6Q900.1 922.4 898.2 918.4M900.8 927.4Q902.9 924.0 908.1 924.1M950.4 927.1Q949.3 930.7 949.1 934.5M950.3 927.7Q950.4 924.0 950.0 920.4M1001.0 928.6Q1005.5 928.0 1008.7 933.6M999.0 928.9Q994.8 933.5 990.2 937.8M1046.9 930.1Q1043.5 934.2 1037.0 934.2M1098.4 928.4Q1095.8 922.4 1097.5 915.4M1096.3 930.7Q1097.3 934.4 1103.4 933.4M657.0 976.1Q653.2 975.4 650.0 972.8M657.2 977.2Q654.8 971.7 650.0 967.7M656.2 975.9Q659.8 973.1 663.1 969.7M655.8 976.1Q660.1 976.2 664.1 978.5M656.4 974.7Q656.1 979.4 658.6 983.7M704.8 976.0Q699.0 974.8 694.8 982.4M706.6 975.1Q710.2 973.5 713.5 971.4M757.5 975.6Q757.8 980.2 757.8 984.7M803.8 977.5Q798.1 981.0 793.1 985.7M804.0 977.9Q799.2 979.0 795.7 972.6M801.5 978.4Q806.7 976.9 811.6 982.1M853.3 976.1Q850.3 980.5 843.9 981.1M901.9 977.2Q900.1 980.9 897.6 984.1M901.9 977.1Q896.0 976.6 890.2 978.7M952.1 976.9Q958.5 976.8 962.1 984.8M953.6 977.0Q948.9 976.5 945.3 972.5M952.0 974.3Q947.3 969.5 949.6 961.1M951.8 976.5Q955.7 973.2 961.8 974.5M1000.0 978.3Q997.2 981.5 994.6 985.0M1000.7 978.1Q998.4 973.2 991.3 972.6M999.3 977.3Q1003.6 978.3 1007.9 979.3M1047.8 977.5Q1052.4 981.6 1052.7 988.9M1098.4 974.8Q1095.4 978.4 1089.8 978.6M657.1 1025.4Q661.7 1030.8 671.2 1026.8M657.9 1024.3Q653.5 1025.2 649.5 1027.1M656.9 1025.6Q661.6 1021.3 666.8 1017.7M705.1 1026.8Q698.5 1026.8 694.2 1019.2M754.0 1024.4Q749.5 1024.8 747.2 1018.4M753.2 1024.4Q757.0 1023.0 759.5 1019.4M806.2 1024.3Q802.6 1022.7 801.5 1018.2M805.7 1025.6Q807.4 1019.1 811.5 1013.4M806.2 1026.4Q808.5 1032.3 812.2 1037.6M853.1 1026.6Q849.6 1031.6 845.5 1036.1M853.9 1025.9Q856.6 1021.9 853.1 1016.2M901.8 1025.0Q905.2 1023.1 909.4 1026.6M903.4 1023.4Q898.6 1025.5 894.5 1028.9M949.7 1023.2Q947.5 1018.9 940.9 1019.6M950.2 1024.3Q954.6 1024.2 958.4 1021.1M1000.0 1025.7Q995.9 1030.5 989.9 1033.5M999.6 1027.3Q1002.1 1022.7 1003.6 1017.6M999.0 1028.2Q1000.3 1034.4 996.3 1040.6M1046.6 1025.9Q1050.9 1026.0 1054.9 1028.3M1048.4 1024.2Q1051.0 1028.5 1048.7 1034.3M1099.6 1026.7Q1094.2 1030.5 1086.4 1026.3M1099.1 1025.5Q1095.6 1022.3 1096.1 1016.6M1098.6 1025.8Q1099.8 1019.0 1109.6 1017.6M1099.4 1026.4Q1099.8 1031.3 1104.8 1034.6M656.2 1075.3Q661.4 1079.4 666.8 1083.2M655.8 1075.1Q649.5 1077.6 643.9 1081.4M656.6 1073.3Q656.9 1069.0 655.9 1064.8M655.7 1073.3Q660.0 1068.9 667.6 1070.4M707.5 1073.8Q703.6 1076.5 698.8 1078.0M707.1 1075.4Q710.9 1073.5 714.6 1071.5M705.7 1076.6Q711.1 1080.0 718.3 1075.2M753.8 1075.2Q746.9 1074.9 741.0 1080.6M754.4 1076.1Q756.3 1072.3 757.4 1068.1M802.7 1075.9Q806.6 1071.2 814.7 1073.5M801.5 1073.4Q794.5 1072.4 787.9 1077.2M856.0 1076.6Q861.2 1076.7 866.0 1074.0M854.4 1076.8Q850.2 1082.2 844.0 1085.9M902.0 1075.9Q902.4 1070.2 909.7 1067.5M901.1 1075.8Q906.1 1075.7 908.6 1069.1M951.5 1074.7Q950.8 1069.7 951.9 1064.7M950.4 1073.8Q956.1 1072.3 962.0 1071.4M951.5 1074.1Q949.7 1078.7 950.6 1084.0M1002.1 1074.4Q1003.9 1068.0 1012.1 1065.5M1002.1 1075.0Q1006.9 1076.1 1010.8 1070.6M1002.3 1075.2Q1002.0 1079.2 1002.5 1083.2M1050.9 1074.1Q1045.5 1071.9 1041.6 1067.1M1099.2 1075.8Q1098.7 1070.9 1093.8 1067.7M1100.3 1075.2Q1101.0 1080.6 1099.3 1086.2M656.3 1122.2Q659.0 1118.9 655.0 1113.9M657.3 1121.7Q655.4 1127.0 654.8 1132.7M704.2 1121.6Q701.5 1116.2 697.1 1111.8M755.0 1123.4Q759.5 1126.3 765.6 1124.1M755.3 1122.8Q754.2 1128.3 755.9 1133.9M754.3 1124.6Q750.5 1124.2 750.1 1118.1M806.0 1123.1Q800.4 1118.4 796.6 1111.8M805.0 1123.6Q809.8 1121.7 815.2 1122.5M853.7 1124.3Q850.9 1128.5 844.5 1128.6M852.8 1124.8Q849.3 1120.8 846.5 1116.3M902.9 1122.1Q899.3 1123.9 895.0 1124.1M902.6 1123.2Q909.4 1124.7 915.4 1129.0M952.2 1121.8Q947.9 1119.2 951.4 1111.8M952.6 1123.2Q950.3 1128.4 957.8 1133.4M1000.7 1124.9Q994.7 1128.1 988.0 1129.9M1001.4 1124.9Q1003.3 1118.2 1012.6 1116.4M1001.6 1125.1Q1001.1 1132.3 1000.7 1139.6M1050.7 1123.2Q1046.5 1118.1 1048.1 1110.2M1049.3 1123.7Q1045.3 1128.8 1037.3 1128.2M1097.6 1123.3Q1102.9 1125.8 1105.5 1131.8M1096.6 1123.3Q1092.6 1127.7 1085.0 1125.6M1096.6 1124.6Q1097.7 1118.8 1092.9 1113.5M707.1 1172.2Q700.9 1172.0 694.7 1172.2M706.8 1171.7Q708.8 1167.6 712.2 1164.3M707.7 1172.4Q713.5 1175.7 717.0 1182.1M756.2 1172.0Q759.6 1175.9 756.8 1182.4M754.1 1174.2Q749.6 1176.1 744.7 1176.9M756.4 1173.9Q756.4 1169.4 753.7 1165.4M754.6 1172.1Q757.1 1167.4 755.4 1161.4M803.7 1172.3Q808.8 1173.6 814.1 1173.9M803.5 1171.7Q802.1 1178.0 803.1 1184.6M851.3 1174.1Q846.1 1170.1 843.1 1163.7M852.9 1173.5Q858.9 1174.9 861.0 1182.7M902.8 1172.6Q898.0 1173.8 893.4 1175.6M903.7 1172.0Q909.4 1170.7 914.6 1168.0M951.6 1172.3Q956.4 1176.4 956.0 1184.1M952.2 1171.9Q949.1 1177.5 939.9 1175.4M1000.0 1171.9Q996.8 1168.3 999.4 1162.4M1000.2 1172.1Q1004.9 1169.4 1009.8 1167.3M998.3 1174.1Q994.7 1179.7 995.2 1187.2M998.8 1173.5Q993.6 1172.9 988.7 1171.1M1049.0 1174.8Q1044.9 1171.6 1038.7 1174.9M1047.9 1172.9Q1047.5 1168.7 1044.4 1165.1M1049.2 1174.0Q1054.5 1172.1 1057.7 1166.7M1047.6 1174.8Q1053.4 1176.0 1057.3 1181.6M1097.8 1172.7Q1098.6 1168.5 1100.8 1164.8M658.4 1220.0Q663.3 1214.4 667.3 1208.0M707.1 1221.4Q701.7 1226.2 693.5 1226.3M705.5 1223.5Q698.1 1222.8 692.9 1215.8M705.9 1221.4Q711.0 1219.9 712.4 1213.0M706.5 1222.0Q714.1 1221.8 721.7 1223.3M754.8 1221.4Q752.5 1228.2 757.4 1235.6M755.5 1222.4Q756.6 1218.3 752.1 1214.6M755.4 1222.1Q761.6 1219.2 763.1 1210.8M756.7 1223.8Q761.9 1229.0 769.8 1230.3M803.7 1223.6Q809.3 1219.4 817.5 1220.7M804.0 1223.2Q805.8 1227.2 804.4 1231.9M803.8 1221.3Q797.7 1221.8 792.9 1226.8M804.0 1222.3Q799.9 1219.0 793.8 1219.6M854.1 1220.4Q857.8 1224.8 860.9 1229.6M855.1 1221.8Q858.5 1227.4 858.1 1234.7M903.6 1219.1Q902.7 1224.6 907.7 1229.4M901.1 1219.6Q896.3 1221.7 890.6 1218.8M901.9 1221.7Q905.0 1215.6 903.8 1208.2M903.0 1219.3Q909.4 1219.8 915.6 1216.7M951.0 1220.8Q951.8 1216.5 951.4 1212.1M952.6 1221.0Q954.7 1228.0 949.6 1235.3M1002.0 1222.0Q996.9 1223.9 997.1 1231.8"/><path stroke-width="1.7" stroke-opacity=".5" d="M663.0 868.3A3.4 2.2 276 1 0 663.7 861.6A3.4 2.2 276 1 0 663.0 868.3M710.4 886.5A3.8 2.5 424 1 0 713.7 893.3A3.8 2.5 424 1 0 710.4 886.5M765.8 876.6A3.0 2.0 354 1 0 771.9 876.0A3.0 2.0 354 1 0 765.8 876.6M808.9 869.1A3.3 2.1 278 1 0 809.7 862.6A3.3 2.1 278 1 0 808.9 869.1M809.9 885.3A3.7 2.4 389 1 0 816.3 888.8A3.7 2.4 389 1 0 809.9 885.3M794.2 883.3A2.9 1.9 520 1 0 788.7 885.3A2.9 1.9 520 1 0 794.2 883.3M804.8 869.9A3.4 2.2 637 1 0 805.6 863.1A3.4 2.2 637 1 0 804.8 869.9M854.9 884.5A2.8 1.8 428 1 0 856.9 889.6A2.8 1.8 428 1 0 854.9 884.5M889.6 877.1A4.1 2.7 194 1 0 881.6 875.0A4.1 2.7 194 1 0 889.6 877.1M898.9 886.6A3.5 2.3 459 1 0 897.9 893.6A3.5 2.3 459 1 0 898.9 886.6M945.0 883.6A3.9 2.6 163 1 0 937.4 885.9A3.9 2.6 163 1 0 945.0 883.6M1007.8 875.0A3.5 2.3 300 1 0 1011.3 868.8A3.5 2.3 300 1 0 1007.8 875.0M993.7 878.9A4.1 2.6 538 1 0 985.6 879.3A4.1 2.6 538 1 0 993.7 878.9M1049.2 876.5A2.6 1.7 285 1 0 1050.6 871.6A2.6 1.7 285 1 0 1049.2 876.5M1049.7 885.4A1.7 1.1 442 1 0 1050.2 888.7A1.7 1.1 442 1 0 1049.7 885.4M1040.5 883.3A1.8 1.2 553 1 0 1036.9 882.5A1.8 1.2 553 1 0 1040.5 883.3M1094.4 887.3A2.7 1.7 118 1 0 1091.9 892.1A2.7 1.7 118 1 0 1094.4 887.3M1088.1 885.7A2.8 1.8 134 1 0 1084.3 889.7A2.8 1.8 134 1 0 1088.1 885.7M1095.4 872.2A4.0 2.6 209 1 0 1088.5 868.3A4.0 2.6 209 1 0 1095.4 872.2M650.7 932.2A4.0 2.6 186 1 0 642.8 931.4A4.0 2.6 186 1 0 650.7 932.2M654.5 921.1A3.2 2.1 266 1 0 654.0 914.7A3.2 2.1 266 1 0 654.5 921.1M701.0 917.7A2.7 1.8 264 1 0 700.4 912.4A2.7 1.8 264 1 0 701.0 917.7M744.0 932.7A4.0 2.6 136 1 0 738.1 938.2A4.0 2.6 136 1 0 744.0 932.7M747.3 922.1A4.4 2.9 221 1 0 740.6 916.4A4.4 2.9 221 1 0 747.3 922.1M766.3 930.6A3.2 2.1 371 1 0 772.6 931.9A3.2 2.1 371 1 0 766.3 930.6M763.5 933.1A3.8 2.4 422 1 0 767.1 939.7A3.8 2.4 422 1 0 763.5 933.1M813.1 933.5A3.9 2.5 415 1 0 817.6 939.8A3.9 2.5 415 1 0 813.1 933.5M849.7 918.9A3.8 2.5 257 1 0 848.0 911.6A3.8 2.5 257 1 0 849.7 918.9M862.7 931.7A4.2 2.7 352 1 0 871.0 930.6A4.2 2.7 352 1 0 862.7 931.7M854.6 939.6A4.0 2.6 414 1 0 859.4 946.2A4.0 2.6 414 1 0 854.6 939.6M898.3 919.1A3.3 2.1 265 1 0 897.7 912.6A3.3 2.1 265 1 0 898.3 919.1M957.4 932.1A3.3 2.2 50 1 0 961.7 937.2A3.3 2.2 50 1 0 957.4 932.1M1008.1 933.0A4.0 2.6 47 1 0 1013.5 938.9A4.0 2.6 47 1 0 1008.1 933.0M990.5 927.4A3.6 2.3 217 1 0 984.8 923.1A3.6 2.3 217 1 0 990.5 927.4M999.2 920.0A3.7 2.4 247 1 0 996.3 913.2A3.7 2.4 247 1 0 999.2 920.0M1049.9 935.5A3.8 2.5 422 1 0 1053.4 942.2A3.8 2.5 422 1 0 1049.9 935.5M1093.7 941.4A2.8 1.8 77 1 0 1095.0 946.9A2.8 1.8 77 1 0 1093.7 941.4M1102.7 932.8A4.3 2.8 399 1 0 1109.3 938.2A4.3 2.8 399 1 0 1102.7 932.8M650.7 968.1A4.0 2.6 206 1 0 643.5 964.6A4.0 2.6 206 1 0 650.7 968.1M718.1 978.3A4.2 2.7 26 1 0 725.6 982.0A4.2 2.7 26 1 0 718.1 978.3M706.0 967.1A3.1 2.0 296 1 0 708.7 961.4A3.1 2.0 296 1 0 706.0 967.1M712.9 972.0A4.1 2.7 318 1 0 719.0 966.5A4.1 2.7 318 1 0 712.9 972.0M747.9 972.9A4.2 2.7 187 1 0 739.4 971.9A4.2 2.7 187 1 0 747.9 972.9M763.3 970.7A3.8 2.4 309 1 0 768.0 964.9A3.8 2.4 309 1 0 763.3 970.7M802.2 969.5A3.6 2.3 238 1 0 798.4 963.5A3.6 2.3 238 1 0 802.2 969.5M811.5 987.1A4.3 2.8 406 1 0 817.5 993.3A4.3 2.8 406 1 0 811.5 987.1M844.2 980.6A3.1 2.0 127 1 0 840.5 985.7A3.1 2.0 127 1 0 844.2 980.6M861.2 972.5A2.3 1.5 311 1 0 864.2 969.0A2.3 1.5 311 1 0 861.2 972.5M897.9 983.4A4.2 2.7 474 1 0 894.5 991.0A4.2 2.7 474 1 0 897.9 983.4M961.7 984.5A2.7 1.8 37 1 0 966.0 987.7A2.7 1.8 37 1 0 961.7 984.5M950.0 961.9A4.2 2.7 241 1 0 945.9 954.5A4.2 2.7 241 1 0 950.0 961.9M995.3 984.4A4.3 2.8 143 1 0 988.4 989.7A4.3 2.8 143 1 0 995.3 984.4M991.9 973.0A3.5 2.3 214 1 0 986.1 969.1A3.5 2.3 214 1 0 991.9 973.0M1041.5 975.2A3.1 2.0 182 1 0 1035.2 975.0A3.1 2.0 182 1 0 1041.5 975.2M1055.7 968.4A4.1 2.7 307 1 0 1060.7 961.8A4.1 2.7 307 1 0 1055.7 968.4M1100.5 968.0A3.9 2.5 262 1 0 1099.4 960.3A3.9 2.5 262 1 0 1100.5 968.0M670.4 1027.0A4.0 2.6 -20 1 0 677.9 1024.3A4.0 2.6 -20 1 0 670.4 1027.0M650.0 1027.2A2.8 1.8 186 1 0 644.5 1026.6A2.8 1.8 186 1 0 650.0 1027.2M666.0 1018.0A4.3 2.8 336 1 0 673.8 1014.5A4.3 2.8 336 1 0 666.0 1018.0M701.7 1029.7A3.4 2.2 117 1 0 698.7 1035.8A3.4 2.2 117 1 0 701.7 1029.7M752.6 1037.1A3.2 2.1 109 1 0 750.5 1043.1A3.2 2.1 109 1 0 752.6 1037.1M758.9 1019.5A2.9 1.9 349 1 0 764.7 1018.4A2.9 1.9 349 1 0 758.9 1019.5M811.4 1014.2A3.7 2.4 275 1 0 812.1 1006.7A3.7 2.4 275 1 0 811.4 1014.2M812.2 1037.1A2.6 1.7 450 1 0 812.2 1042.3A2.6 1.7 450 1 0 812.2 1037.1M803.6 1031.7A4.2 2.7 490 1 0 798.2 1038.1A4.2 2.7 490 1 0 803.6 1031.7M862.7 1022.8A3.7 2.4 329 1 0 869.1 1018.9A3.7 2.4 329 1 0 862.7 1022.8M845.9 1035.4A4.2 2.8 480 1 0 841.6 1042.7A4.2 2.8 480 1 0 845.9 1035.4M841.2 1027.0A3.3 2.1 527 1 0 834.8 1028.4A3.3 2.1 527 1 0 841.2 1027.0M910.6 1033.3A2.8 1.8 378 1 0 915.9 1035.0A2.8 1.8 378 1 0 910.6 1033.3M895.0 1028.6A3.1 2.0 507 1 0 889.8 1031.9A3.1 2.0 507 1 0 895.0 1028.6M890.8 1017.8A2.7 1.8 547 1 0 885.5 1017.1A2.7 1.8 547 1 0 890.8 1017.8M904.1 1011.6A3.0 2.0 663 1 0 907.4 1006.5A3.0 2.0 663 1 0 904.1 1011.6M957.5 1021.0A4.3 2.8 363 1 0 966.1 1021.4A4.3 2.8 363 1 0 957.5 1021.0M990.3 1033.1A3.2 2.1 132 1 0 986.1 1037.8A3.2 2.1 132 1 0 990.3 1033.1M987.4 1027.0A3.6 2.3 202 1 0 980.7 1024.3A3.6 2.3 202 1 0 987.4 1027.0M999.2 1014.6A3.2 2.1 272 1 0 999.4 1008.3A3.2 2.1 272 1 0 999.2 1014.6M1003.6 1018.3A3.8 2.5 272 1 0 1003.8 1010.8A3.8 2.5 272 1 0 1003.6 1018.3M1011.7 1027.9A2.7 1.7 336 1 0 1016.6 1025.8A2.7 1.7 336 1 0 1011.7 1027.9M1049.0 1016.0A3.1 2.0 295 1 0 1051.7 1010.4A3.1 2.0 295 1 0 1049.0 1016.0M1039.7 1023.1A2.3 1.5 574 1 0 1035.9 1020.5A2.3 1.5 574 1 0 1039.7 1023.1M1096.6 1017.3A4.2 2.7 237 1 0 1092.0 1010.3A4.2 2.7 237 1 0 1096.6 1017.3M1108.6 1035.1A3.4 2.2 381 1 0 1115.0 1037.5A3.4 2.2 381 1 0 1108.6 1035.1M1104.2 1034.1A4.1 2.7 397 1 0 1110.7 1039.1A4.1 2.7 397 1 0 1104.2 1034.1M666.0 1083.0A4.3 2.8 15 1 0 674.3 1085.2A4.3 2.8 15 1 0 666.0 1083.0M644.5 1081.1A3.3 2.2 161 1 0 638.2 1083.3A3.3 2.2 161 1 0 644.5 1081.1M656.1 1065.5A3.6 2.3 251 1 0 653.7 1058.7A3.6 2.3 251 1 0 656.1 1065.5M698.3 1068.8A3.0 1.9 190 1 0 692.4 1067.7A3.0 1.9 190 1 0 698.3 1068.8M744.2 1067.1A4.1 2.6 231 1 0 739.1 1060.8A4.1 2.6 231 1 0 744.2 1067.1M756.9 1068.7A4.0 2.6 312 1 0 762.3 1062.8A4.0 2.6 312 1 0 756.9 1068.7M754.7 1089.6A3.3 2.2 454 1 0 754.2 1096.2A3.3 2.2 454 1 0 754.7 1089.6M814.2 1073.8A2.7 1.8 323 1 0 818.5 1070.6A2.7 1.8 323 1 0 814.2 1073.8M865.3 1074.1A3.5 2.3 345 1 0 872.1 1072.3A3.5 2.3 345 1 0 865.3 1074.1M895.6 1067.5A3.6 2.4 204 1 0 889.0 1064.5A3.6 2.4 204 1 0 895.6 1067.5M909.2 1068.2A4.4 2.8 306 1 0 914.3 1061.1A4.4 2.8 306 1 0 909.2 1068.2M909.9 1080.6A4.1 2.7 426 1 0 913.2 1088.1A4.1 2.7 426 1 0 909.9 1080.6M944.3 1079.7A2.7 1.7 171 1 0 939.0 1080.5A2.7 1.7 171 1 0 944.3 1079.7M961.5 1071.3A2.7 1.8 374 1 0 966.8 1072.6A2.7 1.8 374 1 0 961.5 1071.3M950.9 1083.2A4.2 2.7 467 1 0 948.4 1091.2A4.2 2.7 467 1 0 950.9 1083.2M1011.7 1066.1A3.7 2.4 303 1 0 1015.7 1060.0A3.7 2.4 303 1 0 1011.7 1066.1M1010.1 1070.6A3.6 2.4 362 1 0 1017.3 1070.9A3.6 2.4 362 1 0 1010.1 1070.6M1042.1 1067.7A4.3 2.8 231 1 0 1036.8 1061.0A4.3 2.8 231 1 0 1042.1 1067.7M1094.1 1068.3A3.4 2.2 244 1 0 1091.1 1062.3A3.4 2.2 244 1 0 1094.1 1068.3M1105.9 1067.0A2.8 1.8 299 1 0 1108.7 1062.1A2.8 1.8 299 1 0 1105.9 1067.0M1099.7 1085.6A3.3 2.2 482 1 0 1096.1 1091.2A3.3 2.2 482 1 0 1099.7 1085.6M1094.7 1079.9A2.5 1.7 502 1 0 1090.7 1083.0A2.5 1.7 502 1 0 1094.7 1079.9M659.2 1129.0A3.5 2.3 412 1 0 663.4 1134.4A3.5 2.3 412 1 0 659.2 1129.0M697.2 1112.3A2.3 1.5 258 1 0 696.3 1107.8A2.3 1.5 258 1 0 697.2 1112.3M765.1 1124.2A2.5 1.6 353 1 0 770.1 1123.5A2.5 1.6 353 1 0 765.1 1124.2M755.7 1133.3A3.5 2.3 432 1 0 757.9 1139.9A3.5 2.3 432 1 0 755.7 1133.3M750.6 1118.4A3.1 2.0 569 1 0 745.2 1115.4A3.1 2.0 569 1 0 750.6 1118.4M757.8 1111.9A2.4 1.6 606 1 0 755.9 1107.5A2.4 1.6 606 1 0 757.8 1111.9M812.3 1130.8A3.6 2.3 64 1 0 815.4 1137.3A3.6 2.3 64 1 0 812.3 1130.8M794.5 1133.4A3.3 2.2 152 1 0 788.7 1136.6A3.3 2.2 152 1 0 794.5 1133.4M849.6 1131.8A3.1 2.0 107 1 0 847.8 1137.9A3.1 2.0 107 1 0 849.6 1131.8M846.7 1116.8A2.7 1.7 257 1 0 845.4 1111.7A2.7 1.7 257 1 0 846.7 1116.8M862.7 1119.3A3.0 1.9 312 1 0 866.7 1114.8A3.0 1.9 312 1 0 862.7 1119.3M895.6 1124.2A2.9 1.9 189 1 0 889.9 1123.2A2.9 1.9 189 1 0 895.6 1124.2M951.2 1112.4A3.1 2.0 282 1 0 952.5 1106.4A3.1 2.0 282 1 0 951.2 1112.4M962.9 1125.8A3.2 2.1 363 1 0 969.3 1126.2A3.2 2.1 363 1 0 962.9 1125.8M957.7 1132.8A2.7 1.8 437 1 0 958.9 1138.2A2.7 1.8 437 1 0 957.7 1132.8M944.6 1125.0A2.5 1.6 506 1 0 940.5 1127.8A2.5 1.6 506 1 0 944.6 1125.0M988.7 1129.7A3.8 2.5 161 1 0 981.6 1132.2A3.8 2.5 161 1 0 988.7 1129.7M1001.0 1139.0A3.2 2.1 476 1 0 998.1 1144.8A3.2 2.1 476 1 0 1001.0 1139.0M1048.4 1110.9A3.7 2.4 245 1 0 1045.3 1104.2A3.7 2.4 245 1 0 1048.4 1110.9M1093.4 1114.0A3.3 2.2 223 1 0 1088.5 1109.4A3.3 2.2 223 1 0 1093.4 1114.0M695.4 1171.9A3.7 2.4 163 1 0 688.4 1174.1A3.7 2.4 163 1 0 695.4 1171.9M704.8 1160.9A3.0 1.9 273 1 0 705.1 1154.9A3.0 1.9 273 1 0 704.8 1160.9M711.6 1164.7A3.7 2.4 320 1 0 717.3 1160.0A3.7 2.4 320 1 0 711.6 1164.7M767.1 1173.1A3.1 2.0 24 1 0 772.8 1175.6A3.1 2.0 24 1 0 767.1 1173.1M756.4 1181.6A4.1 2.7 67 1 0 759.6 1189.2A4.1 2.7 67 1 0 756.4 1181.6M745.5 1176.9A3.7 2.4 181 1 0 738.1 1176.7A3.7 2.4 181 1 0 745.5 1176.9M755.5 1162.2A3.8 2.5 260 1 0 754.1 1154.7A3.8 2.5 260 1 0 755.5 1162.2M803.0 1184.0A3.0 2.0 434 1 0 804.6 1189.9A3.0 2.0 434 1 0 803.0 1184.0M791.8 1172.3A3.5 2.3 508 1 0 785.9 1176.1A3.5 2.3 508 1 0 791.8 1172.3M840.1 1175.5A3.0 2.0 191 1 0 834.2 1174.3A3.0 2.0 191 1 0 840.1 1175.5M843.4 1164.2A2.8 1.8 237 1 0 840.4 1159.5A2.8 1.8 237 1 0 843.4 1164.2M894.1 1175.5A3.6 2.3 172 1 0 887.0 1176.5A3.6 2.3 172 1 0 894.1 1175.5M914.0 1168.0A3.2 2.1 353 1 0 920.4 1167.3A3.2 2.1 353 1 0 914.0 1168.0M959.8 1163.6A2.7 1.8 302 1 0 962.7 1159.0A2.7 1.8 302 1 0 959.8 1163.6M999.3 1163.2A4.0 2.6 273 1 0 999.7 1155.2A4.0 2.6 273 1 0 999.3 1163.2M989.4 1171.4A3.7 2.4 560 1 0 982.4 1168.9A3.7 2.4 560 1 0 989.4 1171.4M1039.1 1180.3A3.1 2.0 132 1 0 1034.9 1184.9A3.1 2.0 132 1 0 1039.1 1180.3M1044.8 1165.7A3.4 2.2 237 1 0 1041.0 1160.0A3.4 2.2 237 1 0 1044.8 1165.7M1056.9 1181.0A3.6 2.3 417 1 0 1060.8 1187.0A3.6 2.3 417 1 0 1056.9 1181.0M1091.7 1177.7A2.5 1.6 496 1 0 1088.1 1181.2A2.5 1.6 496 1 0 1091.7 1177.7M1091.2 1174.7A2.4 1.6 536 1 0 1086.4 1175.1A2.4 1.6 536 1 0 1091.2 1174.7M666.9 1208.4A2.7 1.8 318 1 0 670.9 1204.7A2.7 1.8 318 1 0 666.9 1208.4M660.3 1231.2A3.8 2.5 404 1 0 665.7 1236.5A3.8 2.5 404 1 0 660.3 1231.2M693.3 1216.1A2.6 1.7 218 1 0 689.2 1212.9A2.6 1.7 218 1 0 693.3 1216.1M721.0 1223.0A3.6 2.3 377 1 0 727.9 1225.2A3.6 2.3 377 1 0 721.0 1223.0M760.8 1231.0A3.5 2.3 67 1 0 763.5 1237.4A3.5 2.3 67 1 0 760.8 1231.0M757.3 1234.8A3.7 2.4 85 1 0 758.0 1242.2A3.7 2.4 85 1 0 757.3 1234.8M746.0 1220.6A4.3 2.8 167 1 0 737.6 1222.6A4.3 2.8 167 1 0 746.0 1220.6M752.1 1215.3A3.5 2.3 263 1 0 751.3 1208.3A3.5 2.3 263 1 0 752.1 1215.3M769.3 1230.0A3.0 2.0 381 1 0 774.9 1232.2A3.0 2.0 381 1 0 769.3 1230.0M804.2 1231.3A3.0 1.9 427 1 0 806.5 1236.8A3.0 1.9 427 1 0 804.2 1231.3M794.4 1219.6A3.1 2.0 541 1 0 788.2 1219.5A3.1 2.0 541 1 0 794.4 1219.6M864.3 1212.5A3.0 1.9 343 1 0 870.1 1210.8A3.0 1.9 343 1 0 864.3 1212.5M907.7 1228.8A2.9 1.9 87 1 0 908.0 1234.6A2.9 1.9 87 1 0 907.7 1228.8M891.4 1218.8A4.1 2.7 178 1 0 883.3 1219.1A4.1 2.7 178 1 0 891.4 1218.8M938.5 1216.6A3.5 2.3 208 1 0 932.3 1213.3A3.5 2.3 208 1 0 938.5 1216.6M961.1 1213.8A3.4 2.2 301 1 0 964.6 1207.9A3.4 2.2 301 1 0 961.1 1213.8M949.7 1234.7A3.2 2.1 454 1 0 949.2 1241.0A3.2 2.1 454 1 0 949.7 1234.7M989.5 1216.5A4.1 2.7 565 1 0 982.1 1213.0A4.1 2.7 565 1 0 989.5 1216.5"/><path stroke-width="3.3" stroke-opacity=".8" d="M658.5 877.6Q657.7 884.0 660.4 890.3M658.0 876.9Q653.5 873.4 649.2 869.7M658.0 877.9Q660.0 872.5 663.1 867.6M706.6 877.5Q703.8 880.8 699.2 882.0M707.4 877.2Q703.2 876.5 698.8 876.3M706.5 877.5Q704.7 872.7 709.3 867.7M707.3 877.7Q707.5 882.7 710.7 887.2M705.9 876.7Q702.6 881.6 700.6 887.2M755.1 877.4Q752.8 874.1 750.4 871.0M756.2 878.4Q761.2 877.0 766.4 876.5M804.6 878.7Q808.2 881.5 810.5 885.6M803.9 877.7Q807.0 874.7 804.9 869.2M851.2 879.3Q850.2 875.2 855.3 872.0M852.7 879.5Q855.4 877.8 859.0 877.9M851.7 877.1Q854.9 879.9 855.1 885.0M851.3 878.6Q848.2 878.7 845.4 880.4M901.5 879.9Q902.5 883.7 898.8 887.3M951.1 881.5Q947.9 883.1 944.2 883.8M1000.3 879.8Q1001.9 875.3 1008.1 874.4M1000.0 879.3Q1002.9 884.1 999.3 890.5M1001.8 878.8Q997.4 879.1 992.9 879.0M999.9 879.1Q998.5 875.1 999.3 870.6M1046.7 879.5Q1047.7 877.6 1049.4 876.0M1048.8 880.7Q1050.7 882.5 1049.8 885.7M1099.8 879.3Q1097.1 883.6 1094.1 887.8M657.0 928.1Q659.4 932.2 664.9 933.4M657.4 927.7Q658.9 924.1 654.5 920.5M705.6 926.6Q708.7 929.6 713.3 930.5M756.5 927.7Q752.7 933.0 755.5 940.8M756.4 928.6Q750.5 927.4 746.6 921.6M755.5 927.5Q757.8 923.0 758.0 917.7M755.3 928.2Q760.9 930.1 766.9 930.8M757.6 929.4Q761.4 928.7 763.9 933.8M803.8 926.8Q801.6 932.9 796.1 937.1M853.8 929.7Q850.5 924.6 849.5 918.2M851.7 928.4Q848.9 931.7 851.7 937.0M853.1 928.5Q847.2 927.6 841.7 932.1M950.2 926.2Q954.8 928.2 957.9 932.6M950.8 926.3Q945.4 925.5 939.9 927.2M949.4 928.5Q953.7 926.5 956.3 922.0M998.5 930.0Q993.9 929.8 990.0 927.0M998.4 929.3Q1000.7 924.9 998.9 919.3M1047.0 930.5Q1043.0 928.5 1043.9 922.1M1046.4 927.8Q1049.7 924.6 1054.5 923.7M1047.9 928.1Q1050.5 931.4 1050.3 936.2M1095.7 930.5Q1091.5 934.5 1093.8 942.0M707.4 974.7Q711.9 978.8 718.8 978.6M707.6 974.3Q706.8 979.7 701.5 983.5M706.6 976.5Q705.7 971.6 706.2 966.5M756.3 975.6Q751.7 973.9 747.0 972.8M755.8 977.6Q757.9 972.6 763.7 970.1M804.1 978.0Q806.6 974.1 801.8 968.9M803.8 977.3Q809.7 980.4 812.1 987.7M854.0 977.1Q853.2 971.4 847.4 967.6M852.9 977.7Q856.7 974.2 861.5 972.1M852.1 978.7Q856.4 979.0 859.8 982.4M903.0 976.7Q905.8 973.2 904.9 967.9M903.6 977.8Q909.1 974.8 913.7 970.4M903.4 978.5Q904.8 983.5 911.3 985.2M952.0 976.7Q948.0 980.0 947.0 985.7M998.7 977.6Q998.6 981.3 1000.4 984.9M999.9 978.3Q1001.6 972.2 994.9 966.6M998.1 977.9Q1000.3 974.6 1003.4 972.1M1050.1 978.1Q1045.4 979.4 1040.9 975.2M1047.9 976.2Q1053.6 974.7 1056.2 967.8M1098.2 977.5Q1098.3 982.4 1099.5 987.3M1098.1 975.2Q1093.4 976.1 1088.5 975.1M1097.1 976.6Q1099.5 972.3 1100.4 967.2M1098.3 977.3Q1101.6 974.0 1102.0 968.8M1097.6 975.8Q1101.1 978.7 1106.3 978.3M659.1 1023.4Q661.9 1028.2 660.0 1034.4M659.9 1025.0Q655.3 1021.0 648.6 1020.4M707.6 1025.8Q704.5 1028.1 701.4 1030.3M708.0 1025.4Q713.7 1029.4 721.4 1029.6M753.5 1024.2Q757.2 1025.1 758.9 1029.7M754.1 1026.5Q756.0 1031.8 752.4 1037.7M804.6 1024.6Q804.4 1028.5 803.1 1032.3M804.7 1025.4Q801.6 1022.3 796.3 1022.5M852.0 1026.1Q857.9 1025.1 863.4 1022.4M853.9 1025.6Q854.0 1031.3 862.2 1033.5M853.6 1028.4Q848.3 1024.5 840.6 1027.1M900.9 1024.0Q906.2 1028.5 911.1 1033.4M900.6 1024.2Q895.4 1021.0 890.3 1017.7M902.2 1024.8Q905.3 1018.6 904.4 1011.1M949.7 1023.3Q946.7 1027.0 946.0 1032.2M951.1 1024.2Q956.2 1026.5 959.2 1031.8M1000.2 1026.6Q993.5 1027.8 986.7 1026.7M1000.0 1027.4Q997.2 1021.3 999.2 1014.0M1001.0 1028.2Q1006.6 1027.5 1012.2 1027.7M1046.6 1024.6Q1049.2 1020.6 1049.3 1015.5M1049.4 1024.4Q1044.6 1022.5 1039.3 1022.8M1099.1 1027.3Q1102.1 1033.0 1109.2 1035.3M657.3 1073.2Q656.0 1077.8 652.9 1081.6M706.1 1076.4Q704.7 1081.9 711.4 1086.5M707.2 1073.9Q702.0 1072.3 697.7 1068.6M753.1 1074.8Q748.6 1070.4 743.7 1066.5M754.9 1076.5Q759.6 1078.8 765.3 1076.9M753.0 1076.4Q748.7 1081.9 754.6 1090.2M803.2 1074.5Q801.8 1070.1 798.0 1066.8M803.3 1073.2Q806.0 1078.1 811.2 1081.0M855.5 1076.1Q855.5 1070.6 854.3 1065.1M855.7 1076.7Q860.3 1081.9 863.3 1088.4M854.6 1075.7Q853.1 1072.0 847.9 1071.2M902.0 1077.1Q896.8 1074.0 890.5 1073.3M903.3 1074.7Q902.1 1069.2 895.0 1067.2M902.8 1075.3Q903.4 1080.0 910.2 1081.4M902.8 1075.7Q900.6 1079.4 901.9 1084.2M950.5 1074.8Q946.9 1076.9 943.8 1079.8M1002.0 1074.0Q996.8 1071.4 991.9 1068.2M1002.7 1073.8Q995.7 1075.0 988.6 1075.0M1050.4 1072.9Q1044.4 1077.0 1039.5 1082.4M1050.3 1074.1Q1056.7 1077.5 1064.7 1075.5M1098.4 1075.4Q1102.5 1071.1 1106.2 1066.5M1099.3 1073.3Q1104.0 1074.0 1107.7 1077.6M1098.7 1074.0Q1098.9 1077.8 1094.3 1080.2M1100.0 1073.6Q1096.2 1070.6 1091.5 1068.9M658.1 1122.6Q654.1 1125.8 648.3 1125.6M657.6 1123.4Q660.4 1118.4 666.0 1115.7M657.0 1121.7Q657.3 1125.8 659.6 1129.5M704.6 1124.3Q709.1 1124.1 713.0 1121.5M705.8 1122.2Q704.7 1127.2 702.3 1131.8M757.0 1123.2Q760.6 1118.9 767.0 1118.1M755.9 1123.6Q753.7 1126.7 750.0 1128.5M756.7 1123.2Q754.2 1117.9 757.6 1111.5M804.2 1123.1Q809.3 1126.2 812.6 1131.4M805.4 1125.0Q798.3 1124.2 794.0 1133.7M852.3 1123.4Q851.9 1128.1 849.4 1132.4M852.0 1125.5Q858.4 1126.3 863.1 1118.9M903.4 1123.4Q904.0 1117.0 895.2 1113.5M951.8 1121.5Q957.1 1124.8 963.6 1125.9M951.0 1121.5Q947.4 1122.9 944.2 1125.3M1048.4 1123.2Q1051.4 1119.5 1056.4 1117.9M1050.5 1121.3Q1052.2 1126.9 1051.5 1133.1M658.7 1172.6Q660.7 1165.2 652.9 1158.4M656.2 1171.5Q662.1 1176.3 666.1 1183.0M658.9 1173.0Q653.8 1177.9 653.7 1186.0M706.2 1173.8Q704.4 1167.2 704.8 1160.3M753.7 1174.3Q759.9 1177.6 767.7 1173.3M804.0 1170.9Q799.6 1169.4 799.3 1162.9M803.4 1170.8Q797.7 1168.4 791.2 1172.7M851.7 1172.3Q848.8 1177.9 839.5 1175.4M850.7 1172.8Q854.4 1169.1 858.8 1166.1M901.4 1172.2Q904.6 1178.9 900.1 1187.0M903.1 1173.0Q901.4 1165.6 904.6 1157.9M950.0 1172.9Q953.2 1166.6 960.1 1163.1M1049.8 1174.2Q1046.6 1179.8 1038.6 1180.8M1096.3 1174.2Q1100.0 1177.1 1101.4 1182.1M1096.7 1173.0Q1093.2 1174.1 1091.4 1178.0M1099.1 1174.6Q1095.3 1176.5 1090.7 1174.8M656.0 1221.6Q659.5 1226.0 660.8 1231.8M656.4 1220.3Q649.0 1219.1 641.8 1216.3M755.4 1222.3Q758.1 1227.0 761.1 1231.6M756.9 1221.5Q751.0 1221.4 745.2 1220.8M802.6 1223.9Q805.9 1220.2 802.1 1214.0M804.8 1221.6Q806.1 1216.3 801.9 1211.0M855.9 1220.2Q858.8 1213.7 858.6 1206.3M853.3 1221.9Q857.0 1215.3 864.9 1212.3M855.9 1221.0Q848.6 1223.2 848.7 1234.5M855.5 1219.6Q852.7 1216.1 852.1 1211.4M952.0 1221.7Q944.8 1219.3 937.9 1216.2M953.7 1221.9Q959.5 1221.2 961.5 1213.2M952.6 1220.4Q957.0 1220.2 959.7 1225.9M1001.6 1223.9Q1000.0 1217.2 998.3 1210.6M1000.3 1221.4Q1004.0 1219.3 1008.0 1217.8M1000.8 1221.9Q998.2 1215.7 988.7 1216.1"/><path stroke-width="4.5" stroke-opacity=".95" d="M660.3 886.4h0M654.0 873.3h0M660.3 872.9h0M658.2 878.0h0M701.3 881.7h0M701.4 875.7h0M707.7 873.0h0M708.9 883.6h0M701.1 884.5h0M706.5 878.1h0M752.7 874.9h0M759.6 877.6h0M755.5 878.1h0M809.0 884.9h0M804.8 871.9h0M804.0 878.5h0M854.1 875.9h0M854.9 878.7h0M855.1 884.4h0M849.3 879.4h0M851.7 878.6h0M899.7 881.8h0M901.0 879.5h0M946.8 883.0h0M952.0 880.4h0M1003.8 877.1h0M999.6 885.1h0M997.6 879.6h0M999.2 874.2h0M1001.1 879.2h0M1048.3 876.3h0M1050.6 885.4h0M1048.2 880.0h0M1094.5 886.0h0M1098.5 878.3h0M660.3 930.5h0M657.0 924.5h0M658.2 928.1h0M711.8 929.3h0M706.4 927.6h0M755.5 934.9h0M752.0 924.5h0M756.5 919.6h0M761.8 929.1h0M761.2 930.4h0M756.1 928.1h0M800.5 932.2h0M805.3 927.3h0M850.8 919.6h0M852.4 934.9h0M846.0 930.7h0M853.2 928.8h0M900.9 927.5h0M955.8 930.7h0M943.0 927.6h0M952.2 926.8h0M950.1 927.2h0M993.4 927.9h0M999.2 922.8h0M999.8 929.2h0M1046.0 925.1h0M1053.1 924.7h0M1050.1 934.1h0M1047.7 929.1h0M1093.9 937.6h0M1097.2 929.3h0M656.0 976.1h0M715.1 977.9h0M704.0 979.6h0M706.8 968.2h0M706.3 975.7h0M750.2 974.4h0M759.6 975.1h0M756.4 976.3h0M803.5 974.1h0M808.3 981.6h0M803.0 977.1h0M850.2 973.3h0M859.2 973.1h0M858.0 981.2h0M853.5 977.2h0M904.1 969.0h0M911.8 971.8h0M909.8 983.6h0M902.9 977.4h0M949.1 981.6h0M952.4 975.7h0M1000.7 983.8h0M998.7 974.5h0M1000.3 973.8h0M999.3 978.3h0M1041.8 975.8h0M1050.7 972.2h0M1049.2 977.6h0M1098.4 981.0h0M1094.4 975.1h0M1099.6 970.0h0M1101.8 972.3h0M1101.3 976.2h0M1098.0 976.1h0M660.1 1032.5h0M652.4 1022.8h0M658.4 1024.3h0M702.4 1029.7h0M717.0 1029.4h0M706.6 1026.2h0M757.6 1028.9h0M752.9 1031.9h0M754.6 1025.0h0M803.7 1027.7h0M797.6 1023.8h0M804.8 1025.4h0M860.0 1023.8h0M859.2 1032.1h0M845.4 1028.0h0M853.1 1026.9h0M906.1 1028.3h0M894.1 1019.4h0M903.5 1013.6h0M901.9 1024.8h0M948.1 1029.8h0M955.7 1028.5h0M950.0 1024.5h0M990.7 1026.3h0M1000.5 1021.3h0M1004.2 1028.1h0M1000.0 1027.0h0M1049.2 1018.4h0M1043.3 1022.9h0M1047.9 1024.7h0M1106.0 1032.3h0M1099.3 1026.0h0M655.3 1077.1h0M656.2 1074.6h0M710.0 1084.3h0M703.0 1072.2h0M706.6 1075.2h0M743.8 1066.9h0M764.2 1076.2h0M754.4 1084.5h0M753.9 1075.5h0M801.4 1072.1h0M808.7 1078.4h0M803.0 1074.5h0M854.7 1068.4h0M860.7 1084.4h0M850.5 1072.4h0M854.6 1075.3h0M894.3 1074.6h0M898.2 1071.0h0M908.2 1080.4h0M901.3 1081.7h0M901.8 1076.0h0M947.0 1077.4h0M951.3 1074.0h0M997.8 1072.0h0M998.0 1074.1h0M1001.5 1074.6h0M1044.1 1079.4h0M1058.2 1075.6h0M1050.0 1074.2h0M1104.3 1067.1h0M1104.3 1075.6h0M1097.2 1076.3h0M1094.5 1070.2h0M1099.3 1074.3h0M649.6 1124.9h0M662.1 1118.7h0M659.4 1126.6h0M657.0 1122.2h0M711.2 1122.4h0M702.8 1128.2h0M705.5 1122.9h0M763.0 1120.2h0M753.5 1125.4h0M758.4 1114.9h0M755.7 1124.1h0M812.6 1130.4h0M795.2 1133.2h0M805.2 1123.7h0M849.9 1131.0h0M858.0 1121.5h0M852.9 1124.7h0M895.7 1115.0h0M902.6 1122.6h0M962.6 1125.8h0M948.1 1122.7h0M951.7 1122.5h0M1000.8 1124.1h0M1054.2 1119.5h0M1051.3 1125.7h0M1049.3 1122.5h0M1097.8 1124.7h0M654.5 1162.2h0M662.7 1177.8h0M657.0 1178.2h0M657.4 1172.7h0M704.9 1164.6h0M706.6 1172.7h0M764.6 1172.9h0M755.0 1173.4h0M799.3 1164.8h0M796.3 1172.7h0M803.5 1171.9h0M844.5 1173.5h0M854.1 1169.7h0M852.0 1173.7h0M901.6 1178.4h0M903.6 1162.5h0M902.3 1172.2h0M956.8 1166.3h0M951.2 1171.9h0M999.0 1172.9h0M1044.1 1176.2h0M1048.5 1174.0h0M1098.5 1177.7h0M1092.8 1175.5h0M1092.0 1174.9h0M1097.6 1174.1h0M659.3 1227.5h0M646.5 1217.2h0M657.3 1220.8h0M705.8 1222.2h0M757.6 1227.1h0M749.4 1221.3h0M756.1 1222.7h0M802.2 1217.3h0M803.6 1214.4h0M803.7 1222.5h0M857.2 1210.2h0M862.6 1214.9h0M852.9 1226.0h0M854.6 1215.8h0M854.5 1220.7h0M902.3 1220.5h0M945.1 1219.0h0M957.5 1216.0h0M957.8 1225.2h0M952.3 1221.1h0M999.3 1219.3h0M1005.5 1219.6h0M992.2 1217.8h0M1000.8 1222.8h0"/></g>
<rect x="632.9" y="1255.4" width="49.0" height="47.2" fill="#8e8e8c"/>
<g><rect x="633.7" y="1256.2" width="47.3" height="45.6" fill="rgb(36,36,36)"/></g>
<rect x="632.9" y="1255.4" width="49.0" height="47.2" filter="url(#nz)"/>
<g fill="none" stroke="#fff" stroke-linecap="round" filter="url(#bl)"><path transform="translate(657.3 1279.0)" stroke-width="2" stroke-opacity=".6" d="M0 0L10 -2.5M0 0L-7 -5M-5.2 5.0a3.2 3.2 0 1 0 6.4 0a3.2 3.2 0 1 0 -6.4 0"/><path transform="translate(657.3 1279.0)" stroke-width="3.4" stroke-opacity=".85" d="M-6 -4.5L0 0L3 6"/><path transform="translate(657.3 1279.0)" stroke-width="4.8" stroke-opacity=".97" d="M0 0h0M-1 8h0"/></g>
<rect x="86.0" y="1501.2" width="741.2" height="370.8" fill="#bebeba"/>
<rect x="86.0" y="1501.2" width="741.2" height="317.3" fill="#d0d0cd"/>
<rect x="86.0" y="1817.9" width="212.4" height="53.2" fill="#d0d0cd"/>
<g><rect x="87.4" y="1502.6" width="50.7" height="50.5" fill="rgb(52,52,52)" stroke="rgb(23,23,23)"/><rect x="140.2" y="1502.6" width="50.7" height="50.5" fill="rgb(54,54,54)" stroke="rgb(24,24,24)"/><rect x="193.2" y="1502.6" width="50.7" height="50.5" fill="rgb(74,74,74)" stroke="rgb(33,33,33)"/><rect x="246.0" y="1502.6" width="50.7" height="50.5" fill="rgb(54,54,54)" stroke="rgb(24,24,24)"/><rect x="298.9" y="1502.6" width="50.7" height="50.5" fill="rgb(53,53,53)" stroke="rgb(23,23,23)"/><rect x="351.8" y="1502.6" width="50.7" height="50.5" fill="rgb(77,77,77)" stroke="rgb(34,34,34)"/><rect x="404.7" y="1502.6" width="50.7" height="50.5" fill="rgb(74,74,74)" stroke="rgb(33,33,33)"/><rect x="457.6" y="1502.6" width="50.7" height="50.5" fill="rgb(43,43,43)" stroke="rgb(19,19,19)"/><rect x="510.5" y="1502.6" width="50.7" height="50.5" fill="rgb(56,56,56)" stroke="rgb(25,25,25)"/><rect x="563.4" y="1502.6" width="50.7" height="50.5" fill="rgb(54,54,54)" stroke="rgb(24,24,24)"/><rect x="616.4" y="1502.6" width="50.7" height="50.5" fill="rgb(39,39,39)" stroke="rgb(17,17,17)"/><rect x="669.2" y="1502.6" width="50.7" height="50.5" fill="rgb(77,77,77)" stroke="rgb(34,34,34)"/><rect x="722.1" y="1502.6" width="50.7" height="50.5" fill="rgb(58,58,58)" stroke="rgb(26,26,26)"/><rect x="775.0" y="1502.6" width="50.7" height="50.5" fill="rgb(53,53,53)" stroke="rgb(23,23,23)"/><rect x="87.4" y="1555.3" width="50.7" height="50.5" fill="rgb(79,79,79)" stroke="rgb(35,35,35)"/><rect x="140.2" y="1555.3" width="50.7" height="50.5" fill="rgb(58,58,58)" stroke="rgb(26,26,26)"/><rect x="193.2" y="1555.3" width="50.7" height="50.5" fill="rgb(53,53,53)" stroke="rgb(23,23,23)"/><rect x="246.0" y="1555.3" width="50.7" height="50.5" fill="rgb(43,43,43)" stroke="rgb(19,19,19)"/><rect x="298.9" y="1555.3" width="50.7" height="50.5" fill="rgb(53,53,53)" stroke="rgb(23,23,23)"/><rect x="351.8" y="1555.3" width="50.7" height="50.5" fill="rgb(54,54,54)" stroke="rgb(24,24,24)"/><rect x="404.7" y="1555.3" width="50.7" height="50.5" fill="rgb(77,77,77)" stroke="rgb(34,34,34)"/><rect x="457.6" y="1555.3" width="50.7" height="50.5" fill="rgb(55,55,55)" stroke="rgb(24,24,24)"/><rect x="510.5" y="1555.3" width="50.7" height="50.5" fill="rgb(52,52,52)" stroke="rgb(23,23,23)"/><rect x="563.4" y="1555.3" width="50.7" height="50.5" fill="rgb(54,54,54)" stroke="rgb(24,24,24)"/><rect x="616.4" y="1555.3" width="50.7" height="50.5" fill="rgb(52,52,52)" stroke="rgb(23,23,23)"/><rect x="669.2" y="1555.3" width="50.7" height="50.5" fill="rgb(77,77,77)" stroke="rgb(34,34,34)"/><rect x="722.1" y="1555.3" width="50.7" height="50.5" fill="rgb(38,38,38)" stroke="rgb(17,17,17)"/><rect x="775.0" y="1555.3" width="50.7" height="50.5" fill="rgb(53,53,53)" stroke="rgb(23,23,23)"/><rect x="87.4" y="1608.1" width="50.7" height="50.5" fill="rgb(57,57,57)" stroke="rgb(25,25,25)"/><rect x="140.2" y="1608.1" width="50.7" height="50.5" fill="rgb(53,53,53)" stroke="rgb(23,23,23)"/><rect x="193.2" y="1608.1" width="50.7" height="50.5" fill="rgb(42,42,42)" stroke="rgb(18,18,18)"/><rect x="246.0" y="1608.1" width="50.7" height="50.5" fill="rgb(57,57,57)" stroke="rgb(25,25,25)"/><rect x="298.9" y="1608.1" width="50.7" height="50.5" fill="rgb(58,58,58)" stroke="rgb(26,26,26)"/><rect x="351.8" y="1608.1" width="50.7" height="50.5" fill="rgb(56,56,56)" stroke="rgb(25,25,25)"/><rect x="404.7" y="1608.1" width="50.7" height="50.5" fill="rgb(41,41,41)" stroke="rgb(18,18,18)"/><rect x="457.6" y="1608.1" width="50.7" height="50.5" fill="rgb(77,77,77)" stroke="rgb(34,34,34)"/><rect x="510.5" y="1608.1" width="50.7" height="50.5" fill="rgb(57,57,57)" stroke="rgb(25,25,25)"/><rect x="563.4" y="1608.1" width="50.7" height="50.5" fill="rgb(54,54,54)" stroke="rgb(24,24,24)"/><rect x="616.4" y="1608.1" width="50.7" height="50.5" fill="rgb(57,57,57)" stroke="rgb(25,25,25)"/><rect x="669.2" y="1608.1" width="50.7" height="50.5" fill="rgb(57,57,57)" stroke="rgb(25,25,25)"/><rect x="722.1" y="1608.1" width="50.7" height="50.5" fill="rgb(52,52,52)" stroke="rgb(23,23,23)"/><rect x="775.0" y="1608.1" width="50.7" height="50.5" fill="rgb(57,57,57)" stroke="rgb(25,25,25)"/><rect x="87.4" y="1660.8" width="50.7" height="50.5" fill="rgb(58,58,58)" stroke="rgb(26,26,26)"/><rect x="140.2" y="1660.8" width="50.7" height="50.5" fill="rgb(56,56,56)" stroke="rgb(25,25,25)"/><rect x="193.2" y="1660.8" width="50.7" height="50.5" fill="rgb(52,52,52)" stroke="rgb(23,23,23)"/><rect x="246.0" y="1660.8" width="50.7" height="50.5" fill="rgb(55,55,55)" stroke="rgb(24,24,24)"/><rect x="298.9" y="1660.8" width="50.7" height="50.5" fill="rgb(53,53,53)" stroke="rgb(23,23,23)"/><rect x="351.8" y="1660.8" width="50.7" height="50.5" fill="rgb(53,53,53)" stroke="rgb(23,23,23)"/><rect x="404.7" y="1660.8" width="50.7" height="50.5" fill="rgb(55,55,55)" stroke="rgb(24,24,24)"/><rect x="457.6" y="1660.8" width="50.7" height="50.5" fill="rgb(38,38,38)" stroke="rgb(17,17,17)"/><rect x="510.5" y="1660.8" width="50.7" height="50.5" fill="rgb(80,80,80)" stroke="rgb(36,36,36)"/><rect x="563.4" y="1660.8" width="50.7" height="50.5" fill="rgb(56,56,56)" stroke="rgb(25,25,25)"/><rect x="616.4" y="1660.8" width="50.7" height="50.5" fill="rgb(58,58,58)" stroke="rgb(26,26,26)"/><rect x="669.2" y="1660.8" width="50.7" height="50.5" fill="rgb(57,57,57)" stroke="rgb(25,25,25)"/><rect x="722.1" y="1660.8" width="50.7" height="50.5" fill="rgb(56,56,56)" stroke="rgb(25,25,25)"/><rect x="775.0" y="1660.8" width="50.7" height="50.5" fill="rgb(58,58,58)" stroke="rgb(26,26,26)"/><rect x="87.4" y="1713.6" width="50.7" height="50.5" fill="rgb(55,55,55)" stroke="rgb(24,24,24)"/><rect x="140.2" y="1713.6" width="50.7" height="50.5" fill="rgb(52,52,52)" stroke="rgb(23,23,23)"/><rect x="193.2" y="1713.6" width="50.7" height="50.5" fill="rgb(52,52,52)" stroke="rgb(23,23,23)"/><rect x="246.0" y="1713.6" width="50.7" height="50.5" fill="rgb(39,39,39)" stroke="rgb(17,17,17)"/><rect x="298.9" y="1713.6" width="50.7" height="50.5" fill="rgb(54,54,54)" stroke="rgb(24,24,24)"/><rect x="351.8" y="1713.6" width="50.7" height="50.5" fill="rgb(55,55,55)" stroke="rgb(24,24,24)"/><rect x="404.7" y="1713.6" width="50.7" height="50.5" fill="rgb(57,57,57)" stroke="rgb(25,25,25)"/><rect x="457.6" y="1713.6" width="50.7" height="50.5" fill="rgb(55,55,55)" stroke="rgb(24,24,24)"/><rect x="510.5" y="1713.6" width="50.7" height="50.5" fill="rgb(57,57,57)" stroke="rgb(25,25,25)"/><rect x="563.4" y="1713.6" width="50.7" height="50.5" fill="rgb(57,57,57)" stroke="rgb(25,25,25)"/><rect x="616.4" y="1713.6" width="50.7" height="50.5" fill="rgb(38,38,38)" stroke="rgb(17,17,17)"/><rect x="669.2" y="1713.6" width="50.7" height="50.5" fill="rgb(56,56,56)" stroke="rgb(25,25,25)"/><rect x="722.1" y="1713.6" width="50.7" height="50.5" fill="rgb(55,55,55)" stroke="rgb(24,24,24)"/><rect x="775.0" y="1713.6" width="50.7" height="50.5" fill="rgb(56,56,56)" stroke="rgb(25,25,25)"/><rect x="87.4" y="1766.3" width="50.7" height="50.5" fill="rgb(54,54,54)" stroke="rgb(24,24,24)"/><rect x="140.2" y="1766.3" width="50.7" height="50.5" fill="rgb(79,79,79)" stroke="rgb(35,35,35)"/><rect x="193.2" y="1766.3" width="50.7" height="50.5" fill="rgb(53,53,53)" stroke="rgb(23,23,23)"/><rect x="246.0" y="1766.3" width="50.7" height="50.5" fill="rgb(52,52,52)" stroke="rgb(23,23,23)"/><rect x="298.9" y="1766.3" width="50.7" height="50.5" fill="rgb(40,40,40)" stroke="rgb(18,18,18)"/><rect x="351.8" y="1766.3" width="50.7" height="50.5" fill="rgb(58,58,58)" stroke="rgb(26,26,26)"/><rect x="404.7" y="1766.3" width="50.7" height="50.5" fill="rgb(56,56,56)" stroke="rgb(25,25,25)"/><rect x="457.6" y="1766.3" width="50.7" height="50.5" fill="rgb(42,42,42)" stroke="rgb(18,18,18)"/><rect x="510.5" y="1766.3" width="50.7" height="50.5" fill="rgb(53,53,53)" stroke="rgb(23,23,23)"/><rect x="563.4" y="1766.3" width="50.7" height="50.5" fill="rgb(58,58,58)" stroke="rgb(26,26,26)"/><rect x="616.4" y="1766.3" width="50.7" height="50.5" fill="rgb(56,56,56)" stroke="rgb(25,25,25)"/><rect x="669.2" y="1766.3" width="50.7" height="50.5" fill="rgb(57,57,57)" stroke="rgb(25,25,25)"/><rect x="722.1" y="1766.3" width="50.7" height="50.5" fill="rgb(52,52,52)" stroke="rgb(23,23,23)"/><rect x="775.0" y="1766.3" width="50.7" height="50.5" fill="rgb(57,57,57)" stroke="rgb(25,25,25)"/><rect x="87.4" y="1819.1" width="50.7" height="50.5" fill="rgb(79,79,79)" stroke="rgb(35,35,35)"/><rect x="140.2" y="1819.1" width="50.7" height="50.5" fill="rgb(55,55,55)" stroke="rgb(24,24,24)"/><rect x="193.2" y="1819.1" width="50.7" height="50.5" fill="rgb(58,58,58)" stroke="rgb(26,26,26)"/><rect x="246.0" y="1819.1" width="50.7" height="50.5" fill="rgb(53,53,53)" stroke="rgb(23,23,23)"/></g>
<rect x="86.2" y="1501.4" width="740.6" height="316.5" filter="url(#nz)"/>
<rect x="86.2" y="1817.9" width="211.6" height="52.8" filter="url(#nz)"/>
<g fill="#fff" filter="url(#bl2)"><circle cx="113.4" cy="1528.2" r="12.3" fill-opacity="0.18"/><circle cx="165.6" cy="1529.2" r="12.3" fill-opacity="0.12"/><circle cx="219.5" cy="1529.3" r="12.3" fill-opacity="0.15"/><circle cx="270.2" cy="1528.3" r="12.3" fill-opacity="0.15"/><circle cx="324.5" cy="1527.7" r="12.3" fill-opacity="0.15"/><circle cx="378.6" cy="1529.1" r="12.3" fill-opacity="0.19"/><circle cx="429.2" cy="1527.7" r="12.3" fill-opacity="0.12"/><circle cx="484.5" cy="1528.8" r="10.5" fill-opacity="0.17"/><circle cx="536.3" cy="1529.3" r="12.3" fill-opacity="0.18"/><circle cx="590.0" cy="1527.4" r="12.3" fill-opacity="0.12"/><circle cx="643.1" cy="1526.5" r="10.5" fill-opacity="0.17"/><circle cx="694.8" cy="1527.9" r="12.3" fill-opacity="0.11"/><circle cx="747.8" cy="1528.8" r="12.3" fill-opacity="0.16"/><circle cx="799.8" cy="1527.8" r="12.3" fill-opacity="0.16"/><circle cx="111.4" cy="1581.2" r="12.3" fill-opacity="0.15"/><circle cx="164.7" cy="1580.8" r="12.3" fill-opacity="0.13"/><circle cx="219.6" cy="1581.3" r="12.3" fill-opacity="0.13"/><circle cx="272.2" cy="1581.4" r="10.5" fill-opacity="0.17"/><circle cx="323.0" cy="1580.1" r="12.3" fill-opacity="0.19"/><circle cx="376.2" cy="1581.3" r="12.3" fill-opacity="0.18"/><circle cx="429.4" cy="1581.4" r="12.3" fill-opacity="0.13"/><circle cx="483.9" cy="1579.2" r="12.3" fill-opacity="0.18"/><circle cx="534.5" cy="1579.9" r="12.3" fill-opacity="0.11"/><circle cx="588.6" cy="1579.7" r="12.3" fill-opacity="0.18"/><circle cx="641.0" cy="1579.6" r="12.3" fill-opacity="0.14"/><circle cx="695.9" cy="1580.2" r="12.3" fill-opacity="0.14"/><circle cx="746.9" cy="1579.5" r="10.5" fill-opacity="0.17"/><circle cx="800.6" cy="1581.0" r="12.3" fill-opacity="0.20"/><circle cx="111.6" cy="1634.2" r="12.3" fill-opacity="0.18"/><circle cx="165.9" cy="1633.2" r="12.3" fill-opacity="0.11"/><circle cx="219.1" cy="1633.3" r="10.5" fill-opacity="0.19"/><circle cx="271.2" cy="1634.2" r="12.3" fill-opacity="0.14"/><circle cx="323.2" cy="1633.7" r="12.3" fill-opacity="0.12"/><circle cx="377.5" cy="1632.8" r="12.3" fill-opacity="0.18"/><circle cx="430.4" cy="1634.7" r="10.5" fill-opacity="0.19"/><circle cx="482.6" cy="1632.9" r="12.3" fill-opacity="0.12"/><circle cx="534.7" cy="1633.8" r="12.3" fill-opacity="0.11"/><circle cx="588.8" cy="1633.6" r="12.3" fill-opacity="0.18"/><circle cx="640.2" cy="1632.0" r="12.3" fill-opacity="0.11"/><circle cx="694.2" cy="1633.5" r="12.3" fill-opacity="0.19"/><circle cx="747.3" cy="1633.8" r="12.3" fill-opacity="0.10"/><circle cx="799.4" cy="1632.2" r="12.3" fill-opacity="0.20"/><circle cx="114.0" cy="1686.7" r="12.3" fill-opacity="0.13"/><circle cx="164.8" cy="1687.5" r="12.3" fill-opacity="0.14"/><circle cx="217.7" cy="1687.2" r="12.3" fill-opacity="0.14"/><circle cx="272.1" cy="1685.1" r="12.3" fill-opacity="0.20"/><circle cx="325.7" cy="1685.4" r="12.3" fill-opacity="0.19"/><circle cx="377.2" cy="1684.7" r="12.3" fill-opacity="0.14"/><circle cx="430.2" cy="1686.2" r="12.3" fill-opacity="0.17"/><circle cx="484.4" cy="1684.9" r="10.5" fill-opacity="0.12"/><circle cx="536.6" cy="1686.3" r="12.3" fill-opacity="0.18"/><circle cx="590.2" cy="1687.0" r="12.3" fill-opacity="0.14"/><circle cx="640.8" cy="1686.8" r="12.3" fill-opacity="0.11"/><circle cx="694.7" cy="1685.2" r="12.3" fill-opacity="0.16"/><circle cx="747.0" cy="1685.9" r="12.3" fill-opacity="0.11"/><circle cx="798.9" cy="1685.7" r="12.3" fill-opacity="0.11"/><circle cx="113.6" cy="1739.7" r="12.3" fill-opacity="0.10"/><circle cx="165.7" cy="1739.2" r="12.3" fill-opacity="0.12"/><circle cx="219.6" cy="1739.4" r="12.3" fill-opacity="0.12"/><circle cx="270.4" cy="1739.8" r="10.5" fill-opacity="0.18"/><circle cx="324.3" cy="1737.8" r="12.3" fill-opacity="0.13"/><circle cx="378.2" cy="1738.6" r="12.3" fill-opacity="0.13"/><circle cx="429.7" cy="1738.5" r="12.3" fill-opacity="0.10"/><circle cx="484.1" cy="1739.0" r="12.3" fill-opacity="0.17"/><circle cx="535.3" cy="1738.8" r="12.3" fill-opacity="0.17"/><circle cx="588.8" cy="1737.6" r="12.3" fill-opacity="0.17"/><circle cx="640.9" cy="1737.9" r="10.5" fill-opacity="0.13"/><circle cx="694.3" cy="1738.4" r="12.3" fill-opacity="0.12"/><circle cx="746.0" cy="1738.4" r="12.3" fill-opacity="0.19"/><circle cx="800.7" cy="1738.5" r="12.3" fill-opacity="0.19"/><circle cx="112.5" cy="1792.2" r="12.3" fill-opacity="0.17"/><circle cx="165.6" cy="1792.7" r="12.3" fill-opacity="0.10"/><circle cx="219.2" cy="1791.5" r="12.3" fill-opacity="0.12"/><circle cx="270.1" cy="1792.2" r="12.3" fill-opacity="0.18"/><circle cx="324.0" cy="1791.1" r="10.5" fill-opacity="0.17"/><circle cx="378.4" cy="1790.8" r="12.3" fill-opacity="0.19"/><circle cx="430.6" cy="1792.8" r="12.3" fill-opacity="0.15"/><circle cx="482.8" cy="1791.8" r="10.5" fill-opacity="0.11"/><circle cx="535.0" cy="1792.1" r="12.3" fill-opacity="0.10"/><circle cx="588.5" cy="1790.2" r="12.3" fill-opacity="0.15"/><circle cx="641.2" cy="1790.7" r="12.3" fill-opacity="0.17"/><circle cx="696.0" cy="1791.5" r="12.3" fill-opacity="0.12"/><circle cx="747.6" cy="1790.9" r="12.3" fill-opacity="0.17"/><circle cx="800.5" cy="1792.6" r="12.3" fill-opacity="0.13"/><circle cx="112.0" cy="1843.2" r="12.3" fill-opacity="0.19"/><circle cx="164.8" cy="1845.8" r="12.3" fill-opacity="0.17"/><circle cx="217.6" cy="1844.8" r="12.3" fill-opacity="0.15"/><circle cx="270.4" cy="1843.9" r="12.3" fill-opacity="0.19"/></g>
<g fill="none" stroke="#fff" stroke-linecap="round" stroke-linejoin="round" filter="url(#bl)"><path stroke-width="4.0" stroke-opacity=".42" d="M112.7 1529.3Q115.0 1527.5 118.6 1530.2M113.2 1526.8Q114.0 1529.5 116.6 1531.4M166.1 1528.5Q161.6 1529.0 158.0 1532.7M219.9 1529.4Q220.5 1524.9 220.8 1520.4M219.0 1529.8Q221.1 1533.5 226.5 1534.1M218.3 1529.0Q214.9 1528.0 211.3 1530.2M271.3 1528.3Q273.8 1529.9 276.7 1530.8M270.2 1527.4Q268.3 1530.3 267.7 1534.0M325.9 1528.3Q321.8 1526.1 316.9 1525.7M324.9 1526.4Q322.9 1530.7 325.5 1535.8M378.0 1528.0Q381.4 1528.4 383.2 1523.7M430.2 1526.4Q430.6 1529.0 431.3 1531.5M536.7 1528.0Q532.7 1527.2 532.9 1520.8M535.2 1528.4Q533.0 1530.1 532.1 1532.9M589.2 1526.6Q589.5 1531.3 584.5 1534.8M591.1 1528.1Q587.1 1526.6 582.9 1530.7M589.8 1527.5Q586.6 1528.4 583.4 1529.4M590.3 1526.5Q591.9 1523.9 592.3 1520.6M641.7 1525.1Q639.0 1523.9 636.0 1524.0M696.0 1527.9Q698.2 1526.4 698.5 1523.1M748.7 1527.6Q745.6 1526.7 742.6 1525.3M800.7 1529.0Q799.7 1524.5 792.9 1524.3M800.1 1528.9Q804.0 1528.2 807.5 1525.9M800.9 1528.6Q804.7 1531.3 806.2 1536.2M798.6 1528.6Q795.4 1529.2 792.0 1528.1M112.9 1579.9Q115.8 1577.3 119.9 1576.4M111.3 1582.0Q110.3 1586.1 110.3 1590.4M164.9 1581.8Q165.8 1584.7 169.4 1585.8M163.4 1581.6Q158.8 1582.0 154.1 1582.5M164.0 1580.8Q168.5 1582.3 173.4 1579.1M220.3 1581.1Q220.4 1585.4 222.8 1589.3M219.8 1579.9Q222.0 1576.4 221.7 1571.9M273.0 1580.6Q275.7 1580.3 278.4 1580.6M323.0 1579.7Q320.0 1583.6 322.0 1589.5M322.8 1580.2Q327.0 1577.4 332.2 1576.9M377.4 1581.7Q373.5 1580.0 371.2 1575.9M428.8 1580.3Q428.8 1585.5 429.1 1590.7M430.8 1582.8Q430.1 1579.6 427.6 1577.0M482.8 1580.3Q480.0 1580.6 477.4 1582.4M533.5 1578.8Q530.5 1579.9 527.1 1578.5M588.4 1580.8Q592.8 1580.4 597.1 1579.0M639.9 1578.4Q643.3 1580.9 648.3 1578.2M642.3 1579.0Q638.9 1578.1 635.4 1577.3M745.8 1578.7Q747.8 1582.6 746.3 1587.5M745.9 1580.4Q742.9 1583.7 737.8 1584.3M747.3 1579.8Q750.1 1577.9 749.3 1573.3M800.7 1582.5Q803.8 1580.1 807.7 1578.7M800.2 1580.9Q799.9 1576.9 803.5 1573.7M111.6 1633.0Q116.7 1633.5 120.0 1638.8M112.7 1632.8Q117.1 1630.5 122.1 1629.3M165.0 1633.5Q168.1 1635.5 172.1 1635.5M164.8 1631.8Q161.1 1628.2 155.1 1628.2M220.4 1632.9Q222.3 1635.1 225.4 1635.9M271.4 1635.6Q273.1 1631.8 270.4 1627.4M271.6 1633.4Q269.1 1637.3 268.7 1642.2M323.2 1632.3Q326.5 1635.2 331.7 1634.9M323.2 1633.3Q320.3 1632.2 317.4 1631.1M378.5 1631.8Q382.9 1631.0 384.0 1624.8M430.2 1635.4Q433.8 1635.4 435.3 1630.5M429.7 1634.3Q428.8 1630.5 433.8 1627.7M483.2 1632.8Q486.4 1633.9 487.8 1637.7M483.3 1632.8Q481.0 1636.0 479.1 1639.5M482.1 1633.3Q476.7 1632.4 473.4 1639.8M483.4 1632.5Q488.4 1633.8 493.6 1633.7M534.5 1633.0Q529.0 1632.8 527.7 1624.3M588.4 1635.1Q591.8 1633.7 595.7 1634.7M589.6 1633.4Q588.1 1630.2 589.9 1626.3M639.5 1633.1Q643.9 1636.9 645.7 1642.8M640.8 1632.3Q639.2 1627.3 645.5 1622.9M693.3 1632.2Q689.9 1631.5 686.4 1631.3M693.5 1634.4Q695.9 1630.7 692.8 1625.6M747.7 1635.2Q744.8 1639.1 742.8 1643.5M746.2 1634.6Q741.9 1631.8 739.6 1626.8M799.2 1631.4Q796.0 1635.9 796.9 1642.3M798.8 1632.0Q794.0 1630.5 790.5 1626.3M800.5 1633.3Q801.6 1629.8 801.2 1626.0M115.3 1686.0Q111.4 1684.4 107.7 1682.3M115.4 1687.8Q119.6 1683.8 120.3 1677.4M115.2 1687.8Q119.0 1688.5 121.7 1692.1M165.2 1688.4Q169.5 1691.8 171.0 1697.7M219.1 1686.9Q216.9 1683.3 221.1 1678.7M216.3 1688.2Q218.5 1683.4 225.3 1682.6M216.3 1688.5Q220.0 1685.3 226.0 1688.0M270.8 1685.2Q271.9 1689.8 271.1 1694.7M273.2 1684.6Q268.3 1682.0 267.1 1675.4M271.5 1684.0Q276.1 1681.0 280.5 1677.7M325.4 1686.8Q321.9 1682.2 321.4 1676.0M326.5 1685.0Q329.8 1687.2 334.1 1687.4M325.8 1684.8Q328.7 1687.7 328.2 1692.7M376.0 1685.3Q380.1 1688.0 384.8 1689.4M430.2 1686.4Q436.3 1687.1 442.1 1689.2M484.3 1684.1Q481.2 1685.7 477.3 1685.3M485.8 1685.9Q488.9 1690.1 496.2 1686.9M536.2 1685.1Q535.8 1690.9 535.9 1696.6M537.3 1685.3Q534.2 1689.9 531.2 1694.5M537.5 1686.7Q534.2 1683.5 528.8 1683.7M590.8 1686.2Q593.2 1681.0 590.3 1674.8M591.4 1688.2Q594.8 1690.3 599.1 1689.9M591.0 1687.9Q585.8 1685.3 579.5 1686.0M641.4 1686.7Q645.5 1686.3 648.8 1683.0M640.5 1687.3Q638.3 1690.4 633.5 1690.6M641.4 1686.9Q637.6 1684.7 632.6 1687.4M639.5 1685.7Q636.7 1680.3 642.9 1674.0M696.2 1684.5Q696.3 1680.6 695.7 1676.7M746.7 1686.1Q743.8 1682.5 739.4 1680.3M748.1 1686.4Q746.6 1683.2 747.9 1679.4M748.1 1686.2Q753.6 1686.3 758.9 1684.1M747.0 1684.6Q748.6 1688.9 748.6 1693.5M746.3 1686.4Q742.3 1690.9 741.6 1697.5M798.6 1685.7Q797.3 1690.7 791.4 1693.0M799.1 1684.7Q796.4 1681.4 797.4 1676.4M798.0 1686.4Q803.5 1684.4 807.7 1680.0M114.7 1739.0Q115.6 1743.0 118.8 1746.1M113.1 1740.3Q107.3 1740.9 101.7 1742.9M112.7 1741.2Q115.1 1738.0 114.9 1733.5M165.1 1738.4Q160.0 1741.2 156.4 1746.0M219.2 1740.6Q213.2 1738.1 208.0 1747.1M219.5 1739.8Q221.1 1745.2 229.1 1745.6M269.5 1740.8Q272.6 1742.6 276.6 1741.0M324.8 1736.6Q320.7 1736.5 316.7 1736.3M325.5 1739.2Q319.8 1736.2 314.9 1731.8M323.8 1739.2Q329.6 1741.7 335.9 1742.7M323.2 1736.7Q325.3 1741.2 328.0 1745.3M325.5 1737.3Q324.0 1742.8 322.2 1748.1M379.0 1737.4Q376.0 1739.6 373.1 1741.9M428.9 1737.6Q432.6 1736.8 435.6 1734.0M430.0 1737.3Q435.6 1738.8 441.6 1736.1M485.5 1739.9Q481.4 1735.3 485.7 1727.7M590.2 1738.8Q586.1 1740.9 581.2 1741.2M590.1 1738.1Q590.9 1732.7 584.3 1728.8M640.1 1738.0Q641.8 1741.0 640.2 1744.9M641.2 1739.0Q644.7 1741.8 650.2 1740.3M693.6 1737.9Q697.8 1742.1 702.5 1745.9M695.1 1737.3Q691.6 1742.3 694.6 1749.5M693.6 1739.2Q689.3 1739.1 685.3 1741.7M693.2 1739.7Q690.1 1736.2 686.0 1733.5M694.0 1737.4Q696.3 1731.6 698.3 1725.8M746.3 1738.2Q752.2 1737.9 758.1 1739.3M747.5 1738.7Q751.4 1740.6 753.2 1745.4M746.2 1739.7Q746.7 1735.6 749.6 1732.3M799.5 1739.7Q801.9 1733.7 808.7 1730.7M801.8 1738.5Q806.3 1739.1 808.4 1744.7M799.9 1738.4Q798.2 1742.2 793.2 1743.1M113.5 1791.1Q112.0 1784.2 119.8 1778.6M165.4 1792.1Q170.0 1794.4 174.1 1797.3M166.9 1793.3Q171.7 1790.0 172.9 1783.4M218.0 1792.8Q213.4 1790.9 208.6 1795.9M219.4 1791.1Q215.7 1787.2 210.4 1785.4M219.3 1790.5Q224.5 1787.6 222.6 1779.0M270.4 1792.5Q272.4 1785.8 273.2 1778.7M270.3 1791.9Q275.1 1791.8 279.2 1795.9M323.7 1791.4Q327.5 1792.9 331.9 1790.8M325.3 1790.5Q319.7 1790.4 316.3 1797.1M377.4 1791.0Q383.2 1787.3 387.9 1782.1M377.2 1791.6Q379.3 1794.9 384.0 1795.2M377.2 1789.8Q371.6 1787.8 366.8 1795.2M378.9 1791.7Q377.0 1787.6 372.4 1785.5M429.2 1792.7Q435.6 1793.4 441.1 1797.7M482.5 1792.1Q483.6 1796.9 490.1 1798.5M483.4 1792.1Q479.2 1792.3 475.2 1793.7M483.9 1790.5Q487.6 1788.3 490.7 1785.4M534.5 1791.2Q540.2 1794.5 542.2 1801.8M536.5 1792.9Q530.3 1789.5 523.1 1797.1M535.9 1793.5Q535.0 1788.5 535.7 1783.4M588.3 1788.8Q592.1 1791.6 592.9 1797.0M641.7 1790.2Q639.6 1786.3 642.4 1781.3M639.8 1789.5Q635.3 1794.4 626.5 1790.0M696.7 1790.2Q690.5 1793.7 685.0 1798.1M696.2 1792.4Q696.2 1796.3 698.8 1799.8M747.0 1792.0Q742.8 1790.7 738.2 1791.8M748.2 1792.0Q752.4 1790.8 756.7 1794.3M801.6 1793.2Q802.9 1799.2 804.4 1805.2M801.4 1792.1Q795.8 1791.2 790.1 1791.5M801.6 1793.1Q808.2 1791.4 813.8 1786.8M113.3 1842.1Q111.7 1837.0 113.6 1831.5M110.5 1843.3Q113.5 1849.1 123.5 1845.7M163.4 1845.2Q159.1 1845.0 155.6 1841.3M163.4 1845.3Q161.0 1841.2 163.5 1835.8M165.2 1845.3Q170.3 1850.4 169.2 1859.2M165.8 1845.7Q163.4 1849.4 159.2 1851.6M216.2 1844.7Q217.8 1839.5 211.5 1834.9M270.7 1842.9Q273.2 1847.8 270.5 1853.8M269.3 1843.1Q269.7 1848.8 265.6 1853.9M271.0 1842.7Q264.6 1844.1 258.2 1840.2M271.3 1843.2Q275.5 1837.0 269.9 1828.4M270.8 1844.8Q273.1 1839.2 281.9 1839.9"/><path stroke-width="1.6" stroke-opacity=".5" d="M117.8 1530.3A3.8 2.5 352 1 0 125.3 1529.2A3.8 2.5 352 1 0 117.8 1530.3M109.0 1529.9A3.4 2.2 488 1 0 104.8 1535.2A3.4 2.2 488 1 0 109.0 1529.9M166.7 1539.1A3.8 2.5 102 1 0 165.1 1546.6A3.8 2.5 102 1 0 166.7 1539.1M161.3 1524.6A4.1 2.7 204 1 0 153.7 1521.2A4.1 2.7 204 1 0 161.3 1524.6M217.9 1534.0A3.2 2.1 453 1 0 217.6 1540.3A3.2 2.1 453 1 0 217.9 1534.0M212.0 1530.3A3.7 2.4 542 1 0 204.6 1530.0A3.7 2.4 542 1 0 212.0 1530.3M216.9 1524.6A3.0 2.0 582 1 0 212.4 1520.5A3.0 2.0 582 1 0 216.9 1524.6M269.4 1524.6A3.2 2.1 242 1 0 266.4 1519.1A3.2 2.1 242 1 0 269.4 1524.6M277.1 1523.3A4.0 2.6 311 1 0 282.3 1517.4A4.0 2.6 311 1 0 277.1 1523.3M276.1 1530.8A3.4 2.2 363 1 0 282.8 1531.1A3.4 2.2 363 1 0 276.1 1530.8M267.6 1533.3A3.1 2.0 447 1 0 268.0 1539.5A3.1 2.0 447 1 0 267.6 1533.3M317.7 1526.1A4.1 2.7 206 1 0 310.3 1522.5A4.1 2.7 206 1 0 317.7 1526.1M325.4 1535.2A3.0 2.0 449 1 0 325.5 1541.3A3.0 2.0 449 1 0 325.4 1535.2M385.4 1533.8A3.9 2.5 12 1 0 393.1 1535.4A3.9 2.5 12 1 0 385.4 1533.8M374.5 1536.8A3.0 1.9 121 1 0 371.4 1541.9A3.0 1.9 121 1 0 374.5 1536.8M374.5 1531.2A2.5 1.6 157 1 0 369.8 1533.1A2.5 1.6 157 1 0 374.5 1531.2M377.4 1519.6A3.5 2.3 282 1 0 378.9 1512.7A3.5 2.3 282 1 0 377.4 1519.6M382.9 1524.3A3.5 2.3 295 1 0 385.8 1518.0A3.5 2.3 295 1 0 382.9 1524.3M431.1 1530.8A3.5 2.3 436 1 0 432.8 1537.7A3.5 2.3 436 1 0 431.1 1530.8M480.0 1531.8A3.1 2.0 132 1 0 475.9 1536.5A3.1 2.0 132 1 0 480.0 1531.8M540.7 1523.3A2.9 1.9 312 1 0 544.5 1518.9A2.9 1.9 312 1 0 540.7 1523.3M584.6 1534.2A2.9 1.9 95 1 0 584.1 1540.0A2.9 1.9 95 1 0 584.6 1534.2M583.5 1530.5A3.2 2.1 168 1 0 577.3 1531.9A3.2 2.1 168 1 0 583.5 1530.5M649.3 1524.1A3.3 2.2 -38 1 0 654.6 1520.0A3.3 2.2 -38 1 0 649.3 1524.1M640.7 1530.3A2.8 1.8 88 1 0 641.0 1536.0A2.8 1.8 88 1 0 640.7 1530.3M636.5 1524.3A3.1 2.0 210 1 0 631.1 1521.2A3.1 2.0 210 1 0 636.5 1524.3M646.8 1522.0A2.6 1.7 321 1 0 650.9 1518.7A2.6 1.7 321 1 0 646.8 1522.0M698.3 1523.8A3.4 2.2 288 1 0 700.4 1517.2A3.4 2.2 288 1 0 698.3 1523.8M697.3 1535.2A3.8 2.5 426 1 0 700.4 1542.3A3.8 2.5 426 1 0 697.3 1535.2M743.3 1525.7A4.2 2.7 209 1 0 736.0 1521.7A4.2 2.7 209 1 0 743.3 1525.7M755.5 1530.6A2.9 1.9 347 1 0 761.2 1529.3A2.9 1.9 347 1 0 755.5 1530.6M806.8 1526.3A4.1 2.7 333 1 0 814.0 1522.5A4.1 2.7 333 1 0 806.8 1526.3M805.8 1535.7A3.3 2.2 409 1 0 810.2 1540.7A3.3 2.2 409 1 0 805.8 1535.7M109.2 1585.9A2.7 1.7 80 1 0 110.1 1591.1A2.7 1.7 80 1 0 109.2 1585.9M104.9 1580.1A2.5 1.6 191 1 0 100.0 1579.1A2.5 1.6 191 1 0 104.9 1580.1M167.1 1571.4A3.2 2.1 299 1 0 170.2 1565.8A3.2 2.1 299 1 0 167.1 1571.4M172.7 1579.5A4.0 2.6 328 1 0 179.5 1575.3A4.0 2.6 328 1 0 172.7 1579.5M215.2 1579.3A2.9 1.9 181 1 0 209.5 1579.3A2.9 1.9 181 1 0 215.2 1579.3M221.5 1572.5A3.4 2.2 290 1 0 223.8 1566.2A3.4 2.2 290 1 0 221.5 1572.5M226.7 1585.1A3.9 2.5 404 1 0 232.3 1590.5A3.9 2.5 404 1 0 226.7 1585.1M277.9 1580.8A2.7 1.8 334 1 0 282.9 1578.4A2.7 1.8 334 1 0 277.9 1580.8M269.2 1585.2A3.3 2.2 463 1 0 267.7 1591.7A3.3 2.2 463 1 0 269.2 1585.2M323.9 1573.4A3.6 2.4 306 1 0 328.2 1567.5A3.6 2.4 306 1 0 323.9 1573.4M382.4 1585.0A2.9 1.9 46 1 0 386.4 1589.1A2.9 1.9 46 1 0 382.4 1585.0M370.3 1587.1A2.9 1.9 138 1 0 366.0 1591.0A2.9 1.9 138 1 0 370.3 1587.1M371.4 1576.3A2.6 1.7 246 1 0 369.3 1571.6A2.6 1.7 246 1 0 371.4 1576.3M492.2 1582.5A3.3 2.1 50 1 0 496.4 1587.5A3.3 2.1 50 1 0 492.2 1582.5M478.2 1578.3A4.1 2.7 232 1 0 473.2 1571.7A4.1 2.7 232 1 0 478.2 1578.3M537.8 1573.6A2.7 1.7 268 1 0 537.6 1568.3A2.7 1.7 268 1 0 537.8 1573.6M540.5 1583.5A3.7 2.4 363 1 0 547.9 1583.9A3.7 2.4 363 1 0 540.5 1583.5M531.9 1586.6A2.7 1.8 451 1 0 531.7 1592.0A2.7 1.8 451 1 0 531.9 1586.6M588.9 1570.1A4.1 2.7 287 1 0 591.3 1562.3A4.1 2.7 287 1 0 588.9 1570.1M585.6 1586.9A2.6 1.7 445 1 0 586.0 1592.0A2.6 1.7 445 1 0 585.6 1586.9M584.3 1581.9A3.1 2.0 516 1 0 578.6 1584.4A3.1 2.0 516 1 0 584.3 1581.9M637.9 1585.0A3.8 2.5 122 1 0 633.8 1591.5A3.8 2.5 122 1 0 637.9 1585.0M642.9 1575.4A3.0 2.0 323 1 0 647.8 1571.8A3.0 2.0 323 1 0 642.9 1575.4M702.5 1584.6A3.6 2.3 42 1 0 707.9 1589.3A3.6 2.3 42 1 0 702.5 1584.6M685.6 1580.9A3.9 2.5 196 1 0 678.2 1578.7A3.9 2.5 196 1 0 685.6 1580.9M696.8 1572.1A3.7 2.4 259 1 0 695.3 1564.8A3.7 2.4 259 1 0 696.8 1572.1M738.4 1584.0A3.4 2.2 148 1 0 732.6 1587.5A3.4 2.2 148 1 0 738.4 1584.0M752.7 1583.4A2.8 1.8 355 1 0 758.3 1582.9A2.8 1.8 355 1 0 752.7 1583.4M807.0 1579.0A3.8 2.5 338 1 0 814.1 1576.1A3.8 2.5 338 1 0 807.0 1579.0M804.2 1587.3A3.7 2.4 405 1 0 809.5 1592.6A3.7 2.4 405 1 0 804.2 1587.3M803.0 1574.2A3.6 2.3 673 1 0 807.8 1568.9A3.6 2.3 673 1 0 803.0 1574.2M119.4 1638.6A3.5 2.3 19 1 0 125.9 1640.8A3.5 2.3 19 1 0 119.4 1638.6M121.6 1629.4A2.7 1.8 342 1 0 126.8 1627.7A2.7 1.8 342 1 0 121.6 1629.4M167.8 1625.8A2.8 1.8 301 1 0 170.7 1621.0A2.8 1.8 301 1 0 167.8 1625.8M162.8 1639.5A2.7 1.8 462 1 0 161.7 1644.8A2.7 1.8 462 1 0 162.8 1639.5M211.4 1637.3A2.5 1.6 115 1 0 209.3 1641.9A2.5 1.6 115 1 0 211.4 1637.3M213.8 1627.2A3.1 2.0 200 1 0 208.0 1625.1A3.1 2.0 200 1 0 213.8 1627.2M222.3 1627.2A2.5 1.6 286 1 0 223.7 1622.4A2.5 1.6 286 1 0 222.3 1627.2M276.2 1630.8A2.8 1.8 328 1 0 281.0 1627.7A2.8 1.8 328 1 0 276.2 1630.8M331.2 1634.7A2.5 1.6 23 1 0 335.9 1636.6A2.5 1.6 23 1 0 331.2 1634.7M317.8 1631.4A2.7 1.8 217 1 0 313.4 1628.1A2.7 1.8 217 1 0 317.8 1631.4M370.4 1627.5A3.6 2.4 219 1 0 364.7 1622.9A3.6 2.4 219 1 0 370.4 1627.5M434.8 1630.7A2.6 1.7 335 1 0 439.6 1628.4A2.6 1.7 335 1 0 434.8 1630.7M424.4 1631.8A3.4 2.2 547 1 0 417.7 1631.0A3.4 2.2 547 1 0 424.4 1631.8M433.4 1627.9A2.6 1.7 686 1 0 437.7 1625.1A2.6 1.7 686 1 0 433.4 1627.9M487.2 1637.4A3.4 2.2 22 1 0 493.4 1639.9A3.4 2.2 22 1 0 487.2 1637.4M473.6 1628.8A2.7 1.8 229 1 0 470.0 1624.7A2.7 1.8 229 1 0 473.6 1628.8M493.0 1633.8A3.2 2.1 352 1 0 499.3 1632.9A3.2 2.1 352 1 0 493.0 1633.8M530.0 1639.1A2.5 1.7 494 1 0 526.4 1642.7A2.5 1.7 494 1 0 530.0 1639.1M528.0 1624.7A2.8 1.8 589 1 0 524.3 1620.5A2.8 1.8 589 1 0 528.0 1624.7M595.1 1634.8A2.9 1.9 -9 1 0 600.8 1633.9A2.9 1.9 -9 1 0 595.1 1634.8M587.7 1642.2A3.2 2.1 79 1 0 589.0 1648.5A3.2 2.1 79 1 0 587.7 1642.2M578.6 1634.2A3.7 2.4 152 1 0 572.0 1637.7A3.7 2.4 152 1 0 578.6 1634.2M589.9 1627.0A3.5 2.3 276 1 0 590.6 1620.0A3.5 2.3 276 1 0 589.9 1627.0M645.2 1642.3A3.5 2.3 41 1 0 650.4 1646.9A3.5 2.3 41 1 0 645.2 1642.3M644.9 1623.4A3.8 2.5 321 1 0 650.9 1618.6A3.8 2.5 321 1 0 644.9 1623.4M692.9 1641.0A3.9 2.5 87 1 0 693.3 1648.7A3.9 2.5 87 1 0 692.9 1641.0M687.2 1631.5A4.1 2.7 197 1 0 679.4 1629.1A4.1 2.7 197 1 0 687.2 1631.5M693.2 1626.3A4.0 2.6 240 1 0 689.1 1619.5A4.0 2.6 240 1 0 693.2 1626.3M701.4 1627.5A4.1 2.7 347 1 0 709.4 1625.6A4.1 2.7 347 1 0 701.4 1627.5M699.1 1640.4A3.6 2.3 417 1 0 703.0 1646.4A3.6 2.3 417 1 0 699.1 1640.4M739.8 1627.4A3.2 2.1 610 1 0 737.6 1621.3A3.2 2.1 610 1 0 739.8 1627.4M807.7 1636.7A3.1 2.0 23 1 0 813.4 1639.1A3.1 2.0 23 1 0 807.7 1636.7M792.1 1635.6A3.4 2.2 138 1 0 787.0 1640.2A3.4 2.2 138 1 0 792.1 1635.6M791.0 1626.7A3.4 2.2 214 1 0 785.4 1622.8A3.4 2.2 214 1 0 791.0 1626.7M120.0 1677.9A2.5 1.6 301 1 0 122.6 1673.5A2.5 1.6 301 1 0 120.0 1677.9M171.5 1677.4A3.2 2.1 311 1 0 175.7 1672.7A3.2 2.1 311 1 0 171.5 1677.4M170.5 1697.1A4.0 2.6 418 1 0 174.7 1703.8A4.0 2.6 418 1 0 170.5 1697.1M163.4 1698.1A2.5 1.6 473 1 0 161.5 1702.7A2.5 1.6 473 1 0 163.4 1698.1M224.6 1682.8A3.3 2.1 345 1 0 230.9 1681.1A3.3 2.1 345 1 0 224.6 1682.8M225.2 1688.3A4.2 2.7 341 1 0 233.1 1685.5A4.2 2.7 341 1 0 225.2 1688.3M212.3 1695.8A3.2 2.1 469 1 0 210.2 1701.8A3.2 2.1 469 1 0 212.3 1695.8M262.8 1688.7A3.3 2.1 164 1 0 256.5 1690.5A3.3 2.1 164 1 0 262.8 1688.7M267.5 1675.9A3.5 2.3 228 1 0 262.8 1670.6A3.5 2.3 228 1 0 267.5 1675.9M279.8 1678.2A4.1 2.7 322 1 0 286.2 1673.2A4.1 2.7 322 1 0 279.8 1678.2M321.7 1676.5A3.0 2.0 233 1 0 318.1 1671.6A3.0 2.0 233 1 0 321.7 1676.5M327.8 1692.0A3.9 2.6 422 1 0 331.5 1698.9A3.9 2.6 422 1 0 327.8 1692.0M384.0 1689.3A4.1 2.7 7 1 0 392.1 1690.3A4.1 2.7 7 1 0 384.0 1689.3M386.2 1675.5A3.0 1.9 313 1 0 390.2 1671.2A3.0 1.9 313 1 0 386.2 1675.5M441.4 1688.9A4.0 2.6 21 1 0 448.8 1691.8A4.0 2.6 21 1 0 441.4 1688.9M424.3 1682.6A4.1 2.7 182 1 0 416.2 1682.3A4.1 2.7 182 1 0 424.3 1682.6M432.7 1676.5A2.5 1.6 288 1 0 434.2 1671.7A2.5 1.6 288 1 0 432.7 1676.5M484.5 1675.6A3.1 2.0 286 1 0 486.2 1669.7A3.1 2.0 286 1 0 484.5 1675.6M495.5 1686.9A3.2 2.1 354 1 0 501.9 1686.2A3.2 2.1 354 1 0 495.5 1686.9M482.3 1691.6A3.3 2.2 450 1 0 482.3 1698.2A3.3 2.2 450 1 0 482.3 1691.6M531.4 1694.0A2.7 1.7 112 1 0 529.4 1699.0A2.7 1.7 112 1 0 531.4 1694.0M529.2 1684.1A3.0 2.0 227 1 0 525.1 1679.7A3.0 2.0 227 1 0 529.2 1684.1M532.6 1675.3A3.4 2.2 217 1 0 527.3 1671.2A3.4 2.2 217 1 0 532.6 1675.3M544.6 1678.2A3.3 2.1 299 1 0 547.8 1672.5A3.3 2.1 299 1 0 544.6 1678.2M580.3 1686.0A4.1 2.7 543 1 0 572.1 1685.7A4.1 2.7 543 1 0 580.3 1686.0M650.7 1685.8A2.9 1.9 319 1 0 655.1 1682.0A2.9 1.9 319 1 0 650.7 1685.8M634.1 1690.6A2.7 1.8 539 1 0 628.6 1690.7A2.7 1.8 539 1 0 634.1 1690.6M633.3 1687.2A3.8 2.5 523 1 0 626.0 1689.4A3.8 2.5 523 1 0 633.3 1687.2M695.9 1677.3A3.3 2.2 253 1 0 694.0 1670.9A3.3 2.2 253 1 0 695.9 1677.3M694.3 1692.5A3.1 2.0 449 1 0 694.5 1698.7A3.1 2.0 449 1 0 694.3 1692.5M739.7 1680.9A3.8 2.5 240 1 0 735.9 1674.4A3.8 2.5 240 1 0 739.7 1680.9M758.2 1684.1A3.6 2.4 360 1 0 765.5 1684.2A3.6 2.4 360 1 0 758.2 1684.1M748.7 1692.8A3.6 2.3 453 1 0 748.2 1699.9A3.6 2.3 453 1 0 748.7 1692.8M742.0 1697.1A2.7 1.7 497 1 0 738.1 1700.7A2.7 1.7 497 1 0 742.0 1697.1M803.2 1697.0A2.9 1.9 87 1 0 803.5 1702.7A2.9 1.9 87 1 0 803.2 1697.0M791.7 1692.3A3.8 2.5 112 1 0 788.8 1699.4A3.8 2.5 112 1 0 791.7 1692.3M118.6 1745.5A3.5 2.3 433 1 0 120.7 1752.2A3.5 2.3 433 1 0 118.6 1745.5M102.4 1742.8A3.4 2.2 537 1 0 95.6 1743.2A3.4 2.2 537 1 0 102.4 1742.8M169.4 1745.9A3.7 2.4 65 1 0 172.5 1752.5A3.7 2.4 65 1 0 169.4 1745.9M208.8 1747.0A4.0 2.6 174 1 0 200.9 1747.8A4.0 2.6 174 1 0 208.8 1747.0M212.6 1731.4A3.2 2.0 251 1 0 210.6 1725.4A3.2 2.0 251 1 0 212.6 1731.4M221.4 1731.1A3.9 2.5 250 1 0 218.8 1723.9A3.9 2.5 250 1 0 221.4 1731.1M227.6 1739.5A3.1 2.0 326 1 0 232.9 1736.0A3.1 2.0 326 1 0 227.6 1739.5M228.6 1745.3A3.1 2.0 388 1 0 234.1 1748.2A3.1 2.0 388 1 0 228.6 1745.3M269.0 1730.7A2.1 1.4 282 1 0 269.9 1726.6A2.1 1.4 282 1 0 269.0 1730.7M275.7 1749.2A3.5 2.3 387 1 0 282.0 1752.5A3.5 2.3 387 1 0 275.7 1749.2M260.5 1742.0A3.0 2.0 510 1 0 255.2 1745.0A3.0 2.0 510 1 0 260.5 1742.0M315.6 1732.0A3.6 2.3 191 1 0 308.5 1730.6A3.6 2.3 191 1 0 315.6 1732.0M335.5 1742.4A2.6 1.7 399 1 0 339.5 1745.6A2.6 1.7 399 1 0 335.5 1742.4M327.8 1744.6A3.4 2.2 430 1 0 330.0 1751.0A3.4 2.2 430 1 0 327.8 1744.6M322.5 1747.7A2.8 1.8 487 1 0 319.1 1752.2A2.8 1.8 487 1 0 322.5 1747.7M385.9 1741.8A2.9 1.9 -6 1 0 391.8 1741.2A2.9 1.9 -6 1 0 385.9 1741.8M476.7 1732.6A2.9 1.9 546 1 0 470.9 1732.0A2.9 1.9 546 1 0 476.7 1732.6M485.4 1728.2A2.8 1.8 657 1 0 487.9 1723.1A2.8 1.8 657 1 0 485.4 1728.2M540.3 1732.5A3.6 2.3 285 1 0 542.1 1725.6A3.6 2.3 285 1 0 540.3 1732.5M525.4 1742.2A3.7 2.4 539 1 0 518.0 1742.3A3.7 2.4 539 1 0 525.4 1742.2M584.5 1729.3A2.7 1.8 248 1 0 582.5 1724.2A2.7 1.8 248 1 0 584.5 1729.3M702.1 1745.2A4.0 2.6 61 1 0 706.0 1752.2A4.0 2.6 61 1 0 702.1 1745.2M694.8 1748.8A3.6 2.3 107 1 0 692.8 1755.6A3.6 2.3 107 1 0 694.8 1748.8M686.1 1741.5A3.8 2.5 168 1 0 678.6 1743.1A3.8 2.5 168 1 0 686.1 1741.5M757.6 1739.2A2.7 1.8 366 1 0 763.0 1739.8A2.7 1.8 366 1 0 757.6 1739.2M739.4 1739.9A2.7 1.7 545 1 0 734.1 1739.4A2.7 1.7 545 1 0 739.4 1739.9M749.4 1733.0A3.5 2.3 648 1 0 751.6 1726.3A3.5 2.3 648 1 0 749.4 1733.0M808.2 1731.3A3.5 2.3 308 1 0 812.5 1725.8A3.5 2.3 308 1 0 808.2 1731.3M793.9 1743.0A3.9 2.6 532 1 0 786.1 1744.1A3.9 2.6 532 1 0 793.9 1743.0M119.8 1779.2A3.4 2.2 270 1 0 119.7 1772.4A3.4 2.2 270 1 0 119.8 1779.2M173.6 1797.2A2.5 1.6 10 1 0 178.6 1798.1A2.5 1.6 10 1 0 173.6 1797.2M159.3 1800.7A2.6 1.7 134 1 0 155.6 1804.5A2.6 1.7 134 1 0 159.3 1800.7M172.5 1783.8A2.8 1.8 313 1 0 176.4 1779.7A2.8 1.8 313 1 0 172.5 1783.8M209.1 1795.7A2.8 1.8 156 1 0 204.1 1798.0A2.8 1.8 156 1 0 209.1 1795.7M210.9 1785.6A2.9 1.9 208 1 0 205.8 1782.8A2.9 1.9 208 1 0 210.9 1785.6M226.6 1790.7A3.7 2.4 338 1 0 233.5 1787.9A3.7 2.4 338 1 0 226.6 1790.7M220.7 1801.1A3.6 2.4 465 1 0 218.8 1808.2A3.6 2.4 465 1 0 220.7 1801.1M214.4 1798.6A3.9 2.6 460 1 0 213.1 1806.3A3.9 2.6 460 1 0 214.4 1798.6M264.0 1787.7A2.7 1.7 208 1 0 259.3 1785.1A2.7 1.7 208 1 0 264.0 1787.7M331.3 1790.7A2.9 1.9 364 1 0 337.1 1791.1A2.9 1.9 364 1 0 331.3 1790.7M383.7 1794.8A2.7 1.8 411 1 0 387.0 1799.1A2.7 1.8 411 1 0 383.7 1794.8M373.1 1785.8A3.9 2.5 569 1 0 366.3 1782.1A3.9 2.5 569 1 0 373.1 1785.8M436.6 1780.2A3.6 2.3 313 1 0 441.5 1774.9A3.6 2.3 313 1 0 436.6 1780.2M542.0 1801.1A3.9 2.5 441 1 0 543.3 1808.7A3.9 2.5 441 1 0 542.0 1801.1M534.6 1798.2A2.8 1.8 429 1 0 536.6 1803.5A2.8 1.8 429 1 0 534.6 1798.2M523.6 1796.7A3.4 2.2 496 1 0 518.7 1801.3A3.4 2.2 496 1 0 523.6 1796.7M594.6 1785.0A3.3 2.2 310 1 0 598.9 1779.9A3.3 2.2 310 1 0 594.6 1785.0M642.4 1781.8A2.6 1.7 276 1 0 642.9 1776.8A2.6 1.7 276 1 0 642.4 1781.8M695.0 1780.9A2.6 1.7 249 1 0 693.2 1776.1A2.6 1.7 249 1 0 695.0 1780.9M744.8 1797.3A2.7 1.8 91 1 0 744.7 1802.7A2.7 1.8 91 1 0 744.8 1797.3M738.9 1792.1A4.1 2.7 203 1 0 731.4 1788.9A4.1 2.7 203 1 0 738.9 1792.1M751.9 1783.7A3.9 2.5 290 1 0 754.5 1776.4A3.9 2.5 290 1 0 751.9 1783.7M813.2 1787.3A3.5 2.3 319 1 0 818.5 1782.8A3.5 2.3 319 1 0 813.2 1787.3M113.7 1832.1A2.8 1.8 256 1 0 112.3 1826.6A2.8 1.8 256 1 0 113.7 1832.1M123.0 1845.5A2.8 1.9 382 1 0 128.3 1847.6A2.8 1.9 382 1 0 123.0 1845.5M117.8 1851.0A3.9 2.5 434 1 0 120.0 1858.4A3.9 2.5 434 1 0 117.8 1851.0M168.8 1858.7A3.6 2.4 408 1 0 173.6 1864.1A3.6 2.4 408 1 0 168.8 1858.7M214.1 1856.0A3.4 2.2 77 1 0 215.6 1862.6A3.4 2.2 77 1 0 214.1 1856.0M270.7 1853.3A2.6 1.7 102 1 0 269.5 1858.5A2.6 1.7 102 1 0 270.7 1853.3M258.8 1840.3A3.0 1.9 199 1 0 253.1 1838.5A3.0 1.9 199 1 0 258.8 1840.3M270.2 1829.1A3.7 2.4 246 1 0 267.2 1822.3A3.7 2.4 246 1 0 270.2 1829.1"/><path stroke-width="3.4" stroke-opacity=".8" d="M113.6 1526.8Q110.6 1527.5 108.6 1530.4M112.7 1528.8Q110.4 1527.1 108.1 1525.5M164.3 1530.5Q162.7 1535.0 166.5 1539.8M166.1 1530.5Q162.0 1529.8 160.5 1524.2M164.2 1530.0Q165.7 1527.6 169.0 1526.9M164.3 1529.1Q168.6 1529.3 171.5 1534.0M220.2 1529.2Q218.4 1531.5 217.9 1534.6M220.0 1528.0Q217.9 1526.4 216.5 1524.2M270.9 1529.4Q270.6 1526.6 269.1 1524.1M270.1 1527.9Q271.7 1523.6 277.6 1522.7M270.5 1529.1Q268.5 1532.2 263.4 1531.4M323.5 1526.4Q327.8 1526.0 329.9 1520.7M377.9 1529.5Q382.6 1529.2 386.2 1533.9M377.8 1528.7Q379.0 1533.2 374.2 1537.3M379.6 1529.3Q377.3 1531.2 374.0 1531.4M378.3 1528.2Q379.9 1523.8 377.5 1518.9M429.2 1528.6Q425.7 1527.8 422.8 1531.6M428.3 1527.3Q426.7 1524.8 425.3 1522.2M430.4 1529.1Q433.4 1527.1 433.3 1522.5M484.5 1528.4Q483.1 1531.2 479.6 1532.3M485.0 1528.4Q483.2 1526.3 480.5 1525.2M485.3 1527.6Q486.0 1524.9 485.1 1522.1M484.2 1527.6Q487.8 1528.6 491.6 1528.8M484.6 1528.7Q487.0 1530.3 487.9 1533.4M536.0 1528.6Q535.8 1524.8 541.1 1522.8M537.4 1530.0Q539.2 1533.8 544.6 1534.1M589.4 1526.9Q592.0 1525.3 594.6 1523.7M591.2 1528.4Q594.6 1526.8 598.2 1531.0M643.0 1527.5Q646.6 1529.0 649.9 1523.7M642.4 1526.0Q640.2 1527.4 640.8 1530.9M643.0 1527.6Q642.1 1524.1 647.2 1521.7M694.7 1528.9Q694.6 1532.7 697.6 1536.0M694.4 1527.0Q693.4 1524.1 690.7 1522.2M748.1 1527.5Q748.0 1530.2 743.9 1530.9M747.3 1530.1Q751.7 1529.7 756.1 1530.5M110.3 1579.8Q111.6 1582.9 109.3 1586.4M111.9 1580.6Q108.6 1578.8 104.4 1580.0M111.0 1580.7Q108.2 1579.6 105.9 1577.3M112.7 1581.1Q114.6 1583.6 118.9 1581.8M166.2 1580.3Q165.7 1583.4 164.8 1586.4M164.7 1580.8Q163.6 1575.8 167.4 1570.8M220.7 1580.5Q217.7 1580.0 214.6 1579.3M220.3 1580.9Q224.0 1582.9 227.3 1585.7M272.6 1580.4Q270.9 1576.8 270.5 1572.7M271.1 1581.4Q270.2 1583.7 269.0 1585.9M271.6 1580.2Q268.4 1581.0 265.0 1579.8M321.7 1579.8Q318.9 1577.2 317.4 1573.4M323.4 1579.5Q323.4 1576.1 324.3 1572.8M322.9 1580.0Q322.9 1584.5 327.4 1587.8M377.0 1582.3Q380.3 1582.5 382.8 1585.4M375.6 1581.8Q371.6 1581.9 369.9 1587.5M376.3 1581.1Q378.5 1579.1 377.8 1575.3M428.0 1581.2Q429.8 1577.3 436.4 1579.3M429.8 1582.2Q425.5 1584.8 420.9 1587.0M483.5 1578.8Q488.4 1579.9 492.6 1583.0M482.7 1580.5Q480.0 1579.5 477.7 1577.6M483.6 1579.6Q487.2 1578.8 488.6 1574.1M535.5 1578.7Q538.3 1577.6 537.7 1573.1M535.4 1580.8Q538.6 1580.7 541.3 1583.5M535.6 1579.7Q537.4 1583.4 531.9 1587.2M588.2 1580.4Q583.0 1580.5 577.8 1580.9M588.0 1579.5Q586.1 1574.8 589.1 1569.3M588.1 1578.6Q586.6 1582.9 585.6 1587.4M590.1 1580.2Q587.0 1581.5 583.7 1582.1M640.2 1580.5Q640.7 1583.4 637.5 1585.6M639.5 1580.4Q641.9 1578.2 643.4 1575.0M696.9 1578.9Q698.8 1582.8 703.0 1585.1M694.6 1579.5Q689.8 1578.8 684.9 1580.7M695.3 1581.5Q694.0 1576.6 696.6 1571.4M746.4 1578.5Q746.3 1574.5 743.6 1571.0M747.2 1580.9Q748.8 1583.8 753.3 1583.3M802.1 1580.1Q805.1 1582.9 804.8 1587.8M802.0 1582.3Q798.6 1581.9 795.6 1579.9M111.4 1633.0Q111.8 1636.5 107.4 1638.8M110.2 1635.2Q110.1 1631.2 108.2 1627.6M167.3 1633.5Q166.5 1629.5 168.1 1625.3M165.7 1632.0Q166.1 1636.3 162.6 1640.0M217.8 1632.0Q214.0 1634.1 211.2 1637.8M218.6 1631.9Q215.6 1629.8 213.2 1627.0M218.7 1633.9Q222.3 1632.1 222.5 1626.8M270.9 1633.2Q274.1 1633.6 276.7 1630.5M321.7 1633.0Q319.3 1635.2 317.9 1638.2M322.1 1633.5Q323.5 1629.6 321.2 1625.3M376.9 1631.4Q378.6 1636.2 381.1 1640.7M376.4 1631.9Q372.1 1631.1 368.4 1635.7M376.5 1633.8Q372.2 1631.8 369.8 1627.0M378.2 1631.6Q382.0 1630.7 385.7 1629.4M429.0 1635.5Q431.9 1637.2 432.6 1641.2M429.7 1634.5Q427.6 1636.5 427.9 1640.0M429.0 1635.4Q425.9 1634.9 423.7 1631.7M482.9 1633.4Q477.5 1633.1 473.2 1628.4M483.6 1632.5Q483.5 1628.1 482.1 1623.9M534.1 1632.4Q539.5 1632.9 544.7 1629.4M535.1 1632.4Q538.0 1633.9 540.2 1636.6M535.6 1634.6Q533.9 1638.1 529.6 1639.5M588.6 1632.8Q588.7 1637.8 587.9 1642.9M589.0 1633.9Q583.5 1633.4 577.9 1634.5M587.8 1635.0Q593.1 1634.1 597.9 1631.4M640.0 1633.0Q636.4 1630.2 631.4 1630.1M694.6 1634.8Q694.5 1638.4 693.0 1641.8M694.0 1633.8Q695.3 1628.7 702.2 1627.3M694.9 1634.5Q697.1 1637.8 699.5 1641.0M748.2 1634.6Q751.8 1632.3 755.4 1630.0M747.6 1634.0Q750.5 1636.3 752.7 1639.5M800.3 1633.0Q804.1 1635.4 808.3 1637.0M798.7 1631.9Q796.9 1635.6 791.6 1636.1M798.9 1633.4Q801.5 1628.8 804.3 1624.4M114.5 1687.6Q112.5 1690.7 111.0 1694.1M165.9 1686.6Q167.9 1681.3 171.9 1677.0M164.9 1687.7Q160.9 1691.5 163.2 1698.5M165.7 1686.0Q160.4 1686.4 155.1 1687.0M165.2 1686.1Q160.4 1684.5 159.3 1677.8M217.4 1687.4Q214.3 1689.2 210.2 1686.8M218.9 1687.9Q219.0 1693.1 215.8 1697.8M218.1 1688.1Q217.4 1693.2 212.1 1696.4M271.7 1686.1Q267.5 1688.8 262.1 1688.9M272.3 1685.7Q275.0 1688.2 278.5 1689.6M327.0 1684.3Q320.8 1684.2 314.7 1684.1M376.3 1685.8Q371.9 1685.9 368.1 1689.1M377.5 1683.3Q378.2 1677.2 386.6 1675.1M431.3 1685.6Q428.1 1687.6 426.2 1691.1M430.7 1685.2Q428.2 1682.3 423.5 1682.5M430.3 1686.6Q433.7 1682.4 432.8 1676.0M483.2 1683.8Q481.1 1679.9 484.7 1675.1M484.3 1686.3Q483.3 1689.3 482.3 1692.2M537.4 1686.0Q534.2 1680.7 532.1 1674.9M536.1 1685.7Q542.1 1685.3 545.0 1677.6M589.3 1688.0Q588.3 1693.1 582.1 1695.5M640.3 1687.8Q645.8 1688.3 651.2 1685.4M641.8 1688.3Q640.6 1693.8 642.1 1699.6M693.9 1686.4Q689.5 1687.3 684.9 1685.9M693.8 1684.5Q696.7 1679.7 700.3 1675.4M694.8 1685.5Q695.1 1689.3 694.3 1693.1M798.5 1686.3Q802.9 1690.5 803.2 1697.5M800.0 1684.7Q794.5 1686.5 788.6 1684.6M114.2 1740.8Q117.6 1739.4 120.1 1736.4M112.5 1740.1Q108.6 1741.7 106.3 1745.8M164.9 1738.6Q168.2 1741.9 169.7 1746.5M166.5 1739.9Q164.6 1736.8 163.8 1733.1M164.4 1739.9Q164.6 1733.7 168.7 1728.3M220.8 1739.1Q215.4 1736.9 212.4 1730.8M220.1 1740.3Q219.3 1735.4 221.2 1730.4M219.7 1740.9Q223.8 1742.3 228.1 1739.1M270.8 1739.2Q270.5 1734.7 269.1 1730.3M269.9 1740.9Q271.4 1746.1 276.3 1749.5M269.2 1740.5Q264.5 1740.6 260.0 1742.3M323.7 1738.3Q322.4 1732.7 327.4 1727.5M378.7 1739.0Q382.8 1739.4 386.5 1741.7M379.0 1738.9Q378.0 1744.1 383.2 1748.7M377.2 1739.3Q377.0 1733.0 373.8 1727.1M378.8 1737.3Q380.6 1733.9 381.4 1730.0M430.9 1737.9Q425.9 1736.9 420.7 1736.5M431.1 1739.9Q430.7 1735.4 426.3 1732.1M428.7 1739.6Q429.9 1743.7 429.1 1748.0M484.8 1738.4Q488.5 1733.3 496.9 1735.0M484.7 1739.9Q482.1 1745.6 485.5 1752.5M485.3 1738.1Q480.2 1740.5 483.1 1749.2M484.2 1737.9Q479.5 1739.0 476.1 1732.6M534.9 1739.1Q529.8 1736.7 528.0 1730.3M535.3 1739.5Q535.8 1734.9 540.5 1731.8M536.5 1738.8Q540.4 1743.4 539.5 1750.4M536.8 1738.0Q530.4 1738.9 524.6 1742.2M589.2 1738.5Q594.5 1737.4 599.9 1736.5M587.6 1737.8Q591.0 1740.6 590.3 1746.2M640.3 1738.1Q636.9 1740.0 632.8 1739.7M641.7 1739.2Q643.7 1736.0 643.8 1732.0M695.2 1737.9Q699.6 1734.1 706.8 1738.1M747.4 1738.5Q743.6 1740.4 738.9 1739.9M744.6 1738.8Q741.3 1733.4 734.5 1731.4M802.0 1738.0Q798.7 1736.1 797.8 1731.8M113.3 1793.0Q115.7 1796.0 118.8 1798.5M113.1 1790.8Q108.3 1786.9 101.0 1788.6M165.7 1793.4Q162.1 1797.0 158.9 1801.1M218.4 1792.6Q221.9 1789.6 227.3 1790.4M217.9 1790.3Q217.6 1796.2 220.5 1801.8M218.8 1790.2Q217.1 1795.0 214.3 1799.4M271.3 1791.4Q267.9 1788.6 263.5 1787.4M269.6 1791.3Q269.4 1795.6 266.1 1799.3M323.1 1791.3Q322.7 1796.0 326.2 1800.2M324.1 1790.4Q323.9 1787.0 324.8 1783.7M379.0 1791.4Q377.2 1797.9 373.6 1803.8M430.3 1794.2Q429.0 1798.8 428.0 1803.4M431.6 1793.6Q429.0 1789.6 423.3 1789.1M430.9 1791.9Q435.8 1787.1 437.1 1779.6M483.8 1793.2Q486.3 1796.1 484.1 1800.9M484.3 1790.6Q481.8 1786.5 475.6 1786.7M482.4 1793.2Q482.4 1789.6 479.2 1786.8M534.2 1792.5Q537.9 1787.0 538.3 1779.9M534.8 1790.7Q534.0 1794.7 534.8 1798.7M589.8 1790.6Q592.5 1787.7 595.0 1784.5M587.2 1789.5Q580.4 1788.0 573.3 1788.7M640.2 1790.0Q645.1 1792.5 650.4 1786.0M642.3 1791.0Q648.0 1795.1 647.1 1804.1M641.2 1791.7Q640.5 1796.1 640.0 1800.5M695.8 1790.8Q695.3 1785.6 694.8 1780.4M695.5 1791.3Q698.6 1789.1 702.6 1788.4M748.9 1789.8Q749.5 1794.3 744.8 1797.8M748.2 1791.1Q749.9 1786.9 752.2 1783.0M801.7 1791.6Q801.1 1787.0 800.6 1782.3M111.7 1843.3Q115.1 1847.3 118.0 1851.7M112.0 1843.3Q105.4 1846.6 100.2 1852.1M163.6 1844.7Q169.8 1844.3 172.2 1835.7M216.9 1845.3Q212.7 1849.3 214.2 1856.7M218.3 1845.4Q219.5 1850.1 227.2 1849.2M271.6 1842.5Q278.2 1839.9 285.5 1839.5"/><path stroke-width="4.6" stroke-opacity=".95" d="M111.3 1528.4h0M110.4 1526.6h0M113.4 1528.2h0M165.0 1534.7h0M164.1 1527.8h0M168.2 1527.0h0M169.6 1532.7h0M165.6 1529.2h0M219.2 1531.1h0M216.5 1525.3h0M219.5 1529.3h0M270.1 1526.4h0M273.8 1525.2h0M265.2 1531.1h0M270.2 1528.3h0M325.8 1524.8h0M324.5 1527.7h0M380.4 1531.2h0M374.5 1536.3h0M376.9 1530.4h0M376.8 1521.0h0M378.6 1529.1h0M424.6 1531.2h0M425.3 1524.7h0M432.8 1525.2h0M429.2 1527.7h0M481.2 1530.6h0M483.9 1526.0h0M485.4 1525.0h0M488.0 1527.3h0M486.4 1531.3h0M484.5 1528.8h0M538.2 1524.8h0M543.1 1532.1h0M536.3 1529.3h0M593.1 1524.4h0M595.6 1530.1h0M590.0 1527.4h0M649.3 1524.4h0M640.6 1529.2h0M646.0 1522.7h0M643.1 1526.5h0M695.8 1531.3h0M692.3 1524.9h0M694.8 1527.9h0M747.3 1527.9h0M755.1 1529.6h0M747.8 1528.8h0M799.8 1527.8h0M109.3 1581.7h0M107.4 1581.3h0M106.8 1578.9h0M116.3 1581.2h0M111.4 1581.2h0M164.8 1583.8h0M165.5 1577.1h0M164.7 1580.8h0M216.8 1580.4h0M225.2 1584.2h0M219.6 1581.3h0M270.8 1574.5h0M270.5 1584.1h0M266.7 1580.7h0M272.2 1581.4h0M320.5 1577.1h0M323.4 1575.1h0M325.5 1585.1h0M323.0 1580.1h0M380.7 1584.5h0M372.1 1584.6h0M376.4 1578.0h0M376.2 1581.3h0M433.0 1579.3h0M425.0 1585.1h0M429.4 1581.4h0M487.5 1581.4h0M477.3 1577.9h0M486.8 1575.3h0M483.9 1579.2h0M536.9 1575.4h0M538.1 1582.6h0M533.2 1583.6h0M534.5 1579.9h0M583.3 1579.7h0M588.0 1571.8h0M585.8 1585.0h0M585.6 1581.6h0M588.6 1579.7h0M639.7 1582.6h0M642.6 1577.6h0M641.0 1579.6h0M701.0 1583.1h0M690.4 1580.1h0M695.7 1576.8h0M695.9 1580.2h0M744.9 1572.6h0M748.8 1581.1h0M746.9 1579.5h0M803.8 1583.8h0M798.7 1580.6h0M800.6 1581.0h0M108.4 1638.7h0M109.1 1633.1h0M111.6 1634.2h0M167.7 1627.7h0M163.1 1639.5h0M165.9 1633.2h0M211.9 1637.3h0M214.8 1627.7h0M221.2 1629.6h0M219.1 1633.3h0M274.1 1632.0h0M271.2 1634.2h0M319.3 1635.8h0M320.5 1627.5h0M323.2 1633.7h0M380.1 1636.4h0M371.8 1633.2h0M372.3 1630.4h0M382.0 1631.0h0M377.5 1632.8h0M431.9 1639.6h0M428.7 1638.9h0M426.7 1632.7h0M430.4 1634.7h0M479.2 1632.1h0M482.2 1627.6h0M482.6 1632.9h0M537.5 1631.2h0M538.2 1635.3h0M532.2 1637.2h0M534.7 1633.8h0M588.1 1637.2h0M582.4 1633.8h0M593.0 1632.3h0M588.8 1633.6h0M633.0 1629.7h0M640.2 1632.0h0M694.1 1640.3h0M699.5 1629.8h0M698.2 1638.6h0M694.2 1633.5h0M752.4 1631.8h0M750.1 1638.4h0M747.3 1633.8h0M807.0 1636.9h0M795.6 1633.2h0M803.7 1626.5h0M799.4 1632.2h0M111.5 1693.7h0M114.0 1686.7h0M169.8 1679.0h0M164.9 1691.5h0M160.3 1685.6h0M162.3 1680.5h0M164.8 1687.5h0M212.9 1687.6h0M218.4 1691.8h0M213.5 1693.0h0M217.7 1687.2h0M267.6 1688.4h0M277.6 1689.5h0M272.1 1685.1h0M316.7 1683.7h0M325.7 1685.4h0M369.7 1689.0h0M380.5 1679.4h0M377.2 1684.7h0M427.6 1689.5h0M425.2 1684.0h0M433.0 1678.1h0M430.2 1686.2h0M484.6 1675.7h0M483.8 1690.4h0M484.4 1684.9h0M534.0 1679.3h0M541.6 1682.2h0M536.6 1686.3h0M583.6 1695.1h0M590.2 1687.0h0M645.1 1686.0h0M642.3 1695.2h0M640.8 1686.8h0M689.6 1686.7h0M697.8 1678.2h0M693.7 1692.1h0M694.7 1685.2h0M747.0 1685.9h0M802.0 1694.0h0M795.8 1685.1h0M798.9 1685.7h0M116.2 1739.8h0M109.3 1744.5h0M113.6 1739.7h0M169.8 1745.6h0M166.1 1736.8h0M166.1 1735.6h0M165.7 1739.2h0M214.7 1732.5h0M220.2 1736.2h0M226.3 1739.6h0M219.6 1739.4h0M270.3 1730.8h0M273.2 1746.4h0M265.0 1740.3h0M270.4 1739.8h0M326.9 1728.7h0M324.3 1737.8h0M382.0 1740.8h0M381.0 1743.5h0M375.0 1731.3h0M381.7 1731.0h0M378.2 1738.6h0M422.4 1736.4h0M426.6 1733.2h0M428.1 1742.6h0M429.7 1738.5h0M494.4 1735.4h0M484.3 1746.6h0M483.9 1747.2h0M477.1 1734.5h0M484.1 1739.0h0M531.3 1732.3h0M538.5 1736.0h0M538.3 1744.6h0M526.7 1740.9h0M535.3 1738.8h0M595.6 1738.0h0M587.7 1740.6h0M588.8 1737.6h0M634.6 1739.6h0M643.8 1732.3h0M640.9 1737.9h0M699.6 1738.8h0M694.3 1738.4h0M741.2 1738.8h0M739.1 1734.2h0M746.0 1738.4h0M800.5 1735.5h0M800.7 1738.5h0M116.0 1796.4h0M106.9 1790.2h0M112.5 1792.2h0M162.0 1797.6h0M165.6 1792.7h0M226.7 1790.8h0M218.1 1796.4h0M216.1 1795.7h0M219.2 1791.5h0M266.1 1788.6h0M267.2 1796.7h0M270.1 1792.2h0M325.8 1798.1h0M324.8 1785.7h0M324.0 1791.1h0M375.7 1798.8h0M378.4 1790.8h0M428.9 1797.8h0M428.6 1791.5h0M435.3 1781.9h0M430.6 1792.8h0M483.0 1796.9h0M480.1 1788.6h0M481.5 1790.7h0M482.8 1791.8h0M537.0 1787.6h0M534.8 1794.5h0M535.0 1792.1h0M593.0 1785.7h0M579.3 1789.8h0M588.5 1790.2h0M649.3 1785.8h0M645.0 1795.0h0M639.6 1795.9h0M641.2 1790.7h0M694.8 1787.3h0M700.5 1788.3h0M696.0 1791.5h0M747.1 1795.5h0M749.4 1788.0h0M747.6 1790.9h0M800.1 1783.4h0M800.5 1792.6h0M115.7 1849.6h0M102.2 1849.7h0M112.0 1843.2h0M167.5 1840.4h0M164.8 1845.8h0M215.4 1848.7h0M222.3 1847.2h0M217.6 1844.8h0M282.9 1840.1h0M270.4 1843.9h0"/></g>
<rect x="878.4" y="1501.2" width="796.4" height="371.2" fill="#bebeba"/>
<rect x="878.4" y="1501.2" width="796.4" height="318.5" fill="#d0d0cd"/>
<rect x="878.4" y="1819.1" width="425.2" height="53.5" fill="#d0d0cd"/>
<g><rect x="879.8" y="1502.6" width="50.8" height="50.8" fill="rgb(56,56,56)" stroke="rgb(25,25,25)"/><rect x="932.8" y="1502.6" width="50.8" height="50.8" fill="rgb(58,58,58)" stroke="rgb(26,26,26)"/><rect x="985.9" y="1502.6" width="50.8" height="50.8" fill="rgb(56,56,56)" stroke="rgb(25,25,25)"/><rect x="1038.9" y="1502.6" width="50.8" height="50.8" fill="rgb(55,55,55)" stroke="rgb(24,24,24)"/><rect x="1092.0" y="1502.6" width="50.8" height="50.8" fill="rgb(55,55,55)" stroke="rgb(24,24,24)"/><rect x="1145.0" y="1502.6" width="50.8" height="50.8" fill="rgb(74,74,74)" stroke="rgb(33,33,33)"/><rect x="1198.1" y="1502.6" width="50.8" height="50.8" fill="rgb(54,54,54)" stroke="rgb(24,24,24)"/><rect x="1251.1" y="1502.6" width="50.8" height="50.8" fill="rgb(80,80,80)" stroke="rgb(36,36,36)"/><rect x="1304.2" y="1502.6" width="50.8" height="50.8" fill="rgb(58,58,58)" stroke="rgb(26,26,26)"/><rect x="1357.2" y="1502.6" width="50.8" height="50.8" fill="rgb(53,53,53)" stroke="rgb(23,23,23)"/><rect x="1410.2" y="1502.6" width="50.8" height="50.8" fill="rgb(58,58,58)" stroke="rgb(26,26,26)"/><rect x="1463.3" y="1502.6" width="50.8" height="50.8" fill="rgb(54,54,54)" stroke="rgb(24,24,24)"/><rect x="1516.3" y="1502.6" width="50.8" height="50.8" fill="rgb(55,55,55)" stroke="rgb(24,24,24)"/><rect x="1569.4" y="1502.6" width="50.8" height="50.8" fill="rgb(58,58,58)" stroke="rgb(26,26,26)"/><rect x="1622.5" y="1502.6" width="50.8" height="50.8" fill="rgb(56,56,56)" stroke="rgb(25,25,25)"/><rect x="879.8" y="1555.5" width="50.8" height="50.8" fill="rgb(53,53,53)" stroke="rgb(23,23,23)"/><rect x="932.8" y="1555.5" width="50.8" height="50.8" fill="rgb(75,75,75)" stroke="rgb(33,33,33)"/><rect x="985.9" y="1555.5" width="50.8" height="50.8" fill="rgb(55,55,55)" stroke="rgb(24,24,24)"/><rect x="1038.9" y="1555.5" width="50.8" height="50.8" fill="rgb(53,53,53)" stroke="rgb(23,23,23)"/><rect x="1092.0" y="1555.5" width="50.8" height="50.8" fill="rgb(78,78,78)" stroke="rgb(35,35,35)"/><rect x="1145.0" y="1555.5" width="50.8" height="50.8" fill="rgb(54,54,54)" stroke="rgb(24,24,24)"/><rect x="1198.1" y="1555.5" width="50.8" height="50.8" fill="rgb(52,52,52)" stroke="rgb(23,23,23)"/><rect x="1251.1" y="1555.5" width="50.8" height="50.8" fill="rgb(53,53,53)" stroke="rgb(23,23,23)"/><rect x="1304.2" y="1555.5" width="50.8" height="50.8" fill="rgb(52,52,52)" stroke="rgb(23,23,23)"/><rect x="1357.2" y="1555.5" width="50.8" height="50.8" fill="rgb(52,52,52)" stroke="rgb(23,23,23)"/><rect x="1410.2" y="1555.5" width="50.8" height="50.8" fill="rgb(53,53,53)" stroke="rgb(23,23,23)"/><rect x="1463.3" y="1555.5" width="50.8" height="50.8" fill="rgb(80,80,80)" stroke="rgb(36,36,36)"/><rect x="1516.3" y="1555.5" width="50.8" height="50.8" fill="rgb(52,52,52)" stroke="rgb(23,23,23)"/><rect x="1569.4" y="1555.5" width="50.8" height="50.8" fill="rgb(54,54,54)" stroke="rgb(24,24,24)"/><rect x="1622.5" y="1555.5" width="50.8" height="50.8" fill="rgb(57,57,57)" stroke="rgb(25,25,25)"/><rect x="879.8" y="1608.5" width="50.8" height="50.8" fill="rgb(79,79,79)" stroke="rgb(35,35,35)"/><rect x="932.8" y="1608.5" width="50.8" height="50.8" fill="rgb(55,55,55)" stroke="rgb(24,24,24)"/><rect x="985.9" y="1608.5" width="50.8" height="50.8" fill="rgb(57,57,57)" stroke="rgb(25,25,25)"/><rect x="1038.9" y="1608.5" width="50.8" height="50.8" fill="rgb(55,55,55)" stroke="rgb(24,24,24)"/><rect x="1092.0" y="1608.5" width="50.8" height="50.8" fill="rgb(54,54,54)" stroke="rgb(24,24,24)"/><rect x="1145.0" y="1608.5" width="50.8" height="50.8" fill="rgb(37,37,37)" stroke="rgb(16,16,16)"/><rect x="1198.1" y="1608.5" width="50.8" height="50.8" fill="rgb(54,54,54)" stroke="rgb(24,24,24)"/><rect x="1251.1" y="1608.5" width="50.8" height="50.8" fill="rgb(38,38,38)" stroke="rgb(17,17,17)"/><rect x="1304.2" y="1608.5" width="50.8" height="50.8" fill="rgb(55,55,55)" stroke="rgb(24,24,24)"/><rect x="1357.2" y="1608.5" width="50.8" height="50.8" fill="rgb(57,57,57)" stroke="rgb(25,25,25)"/><rect x="1410.2" y="1608.5" width="50.8" height="50.8" fill="rgb(53,53,53)" stroke="rgb(23,23,23)"/><rect x="1463.3" y="1608.5" width="50.8" height="50.8" fill="rgb(54,54,54)" stroke="rgb(24,24,24)"/><rect x="1516.3" y="1608.5" width="50.8" height="50.8" fill="rgb(78,78,78)" stroke="rgb(35,35,35)"/><rect x="1569.4" y="1608.5" width="50.8" height="50.8" fill="rgb(79,79,79)" stroke="rgb(35,35,35)"/><rect x="1622.5" y="1608.5" width="50.8" height="50.8" fill="rgb(76,76,76)" stroke="rgb(34,34,34)"/><rect x="879.8" y="1661.4" width="50.8" height="50.8" fill="rgb(40,40,40)" stroke="rgb(18,18,18)"/><rect x="932.8" y="1661.4" width="50.8" height="50.8" fill="rgb(57,57,57)" stroke="rgb(25,25,25)"/><rect x="985.9" y="1661.4" width="50.8" height="50.8" fill="rgb(57,57,57)" stroke="rgb(25,25,25)"/><rect x="1038.9" y="1661.4" width="50.8" height="50.8" fill="rgb(77,77,77)" stroke="rgb(34,34,34)"/><rect x="1092.0" y="1661.4" width="50.8" height="50.8" fill="rgb(38,38,38)" stroke="rgb(17,17,17)"/><rect x="1145.0" y="1661.4" width="50.8" height="50.8" fill="rgb(52,52,52)" stroke="rgb(23,23,23)"/><rect x="1198.1" y="1661.4" width="50.8" height="50.8" fill="rgb(52,52,52)" stroke="rgb(23,23,23)"/><rect x="1251.1" y="1661.4" width="50.8" height="50.8" fill="rgb(78,78,78)" stroke="rgb(35,35,35)"/><rect x="1304.2" y="1661.4" width="50.8" height="50.8" fill="rgb(55,55,55)" stroke="rgb(24,24,24)"/><rect x="1357.2" y="1661.4" width="50.8" height="50.8" fill="rgb(56,56,56)" stroke="rgb(25,25,25)"/><rect x="1410.2" y="1661.4" width="50.8" height="50.8" fill="rgb(57,57,57)" stroke="rgb(25,25,25)"/><rect x="1463.3" y="1661.4" width="50.8" height="50.8" fill="rgb(58,58,58)" stroke="rgb(26,26,26)"/><rect x="1516.3" y="1661.4" width="50.8" height="50.8" fill="rgb(56,56,56)" stroke="rgb(25,25,25)"/><rect x="1569.4" y="1661.4" width="50.8" height="50.8" fill="rgb(58,58,58)" stroke="rgb(26,26,26)"/><rect x="1622.5" y="1661.4" width="50.8" height="50.8" fill="rgb(55,55,55)" stroke="rgb(24,24,24)"/><rect x="879.8" y="1714.4" width="50.8" height="50.8" fill="rgb(78,78,78)" stroke="rgb(35,35,35)"/><rect x="932.8" y="1714.4" width="50.8" height="50.8" fill="rgb(78,78,78)" stroke="rgb(35,35,35)"/><rect x="985.9" y="1714.4" width="50.8" height="50.8" fill="rgb(41,41,41)" stroke="rgb(18,18,18)"/><rect x="1038.9" y="1714.4" width="50.8" height="50.8" fill="rgb(56,56,56)" stroke="rgb(25,25,25)"/><rect x="1092.0" y="1714.4" width="50.8" height="50.8" fill="rgb(40,40,40)" stroke="rgb(18,18,18)"/><rect x="1145.0" y="1714.4" width="50.8" height="50.8" fill="rgb(75,75,75)" stroke="rgb(33,33,33)"/><rect x="1198.1" y="1714.4" width="50.8" height="50.8" fill="rgb(39,39,39)" stroke="rgb(17,17,17)"/><rect x="1251.1" y="1714.4" width="50.8" height="50.8" fill="rgb(58,58,58)" stroke="rgb(26,26,26)"/><rect x="1304.2" y="1714.4" width="50.8" height="50.8" fill="rgb(75,75,75)" stroke="rgb(33,33,33)"/><rect x="1357.2" y="1714.4" width="50.8" height="50.8" fill="rgb(76,76,76)" stroke="rgb(34,34,34)"/><rect x="1410.2" y="1714.4" width="50.8" height="50.8" fill="rgb(42,42,42)" stroke="rgb(18,18,18)"/><rect x="1463.3" y="1714.4" width="50.8" height="50.8" fill="rgb(37,37,37)" stroke="rgb(16,16,16)"/><rect x="1516.3" y="1714.4" width="50.8" height="50.8" fill="rgb(37,37,37)" stroke="rgb(16,16,16)"/><rect x="1569.4" y="1714.4" width="50.8" height="50.8" fill="rgb(55,55,55)" stroke="rgb(24,24,24)"/><rect x="1622.5" y="1714.4" width="50.8" height="50.8" fill="rgb(53,53,53)" stroke="rgb(23,23,23)"/><rect x="879.8" y="1767.3" width="50.8" height="50.8" fill="rgb(37,37,37)" stroke="rgb(16,16,16)"/><rect x="932.8" y="1767.3" width="50.8" height="50.8" fill="rgb(79,79,79)" stroke="rgb(35,35,35)"/><rect x="985.9" y="1767.3" width="50.8" height="50.8" fill="rgb(57,57,57)" stroke="rgb(25,25,25)"/><rect x="1038.9" y="1767.3" width="50.8" height="50.8" fill="rgb(55,55,55)" stroke="rgb(24,24,24)"/><rect x="1092.0" y="1767.3" width="50.8" height="50.8" fill="rgb(53,53,53)" stroke="rgb(23,23,23)"/><rect x="1145.0" y="1767.3" width="50.8" height="50.8" fill="rgb(56,56,56)" stroke="rgb(25,25,25)"/><rect x="1198.1" y="1767.3" width="50.8" height="50.8" fill="rgb(80,80,80)" stroke="rgb(36,36,36)"/><rect x="1251.1" y="1767.3" width="50.8" height="50.8" fill="rgb(38,38,38)" stroke="rgb(17,17,17)"/><rect x="1304.2" y="1767.3" width="50.8" height="50.8" fill="rgb(52,52,52)" stroke="rgb(23,23,23)"/><rect x="1357.2" y="1767.3" width="50.8" height="50.8" fill="rgb(42,42,42)" stroke="rgb(18,18,18)"/><rect x="1410.2" y="1767.3" width="50.8" height="50.8" fill="rgb(52,52,52)" stroke="rgb(23,23,23)"/><rect x="1463.3" y="1767.3" width="50.8" height="50.8" fill="rgb(40,40,40)" stroke="rgb(18,18,18)"/><rect x="1516.3" y="1767.3" width="50.8" height="50.8" fill="rgb(53,53,53)" stroke="rgb(23,23,23)"/><rect x="1569.4" y="1767.3" width="50.8" height="50.8" fill="rgb(54,54,54)" stroke="rgb(24,24,24)"/><rect x="1622.5" y="1767.3" width="50.8" height="50.8" fill="rgb(42,42,42)" stroke="rgb(18,18,18)"/><rect x="879.8" y="1820.3" width="50.8" height="50.8" fill="rgb(39,39,39)" stroke="rgb(17,17,17)"/><rect x="932.8" y="1820.3" width="50.8" height="50.8" fill="rgb(58,58,58)" stroke="rgb(26,26,26)"/><rect x="985.9" y="1820.3" width="50.8" height="50.8" fill="rgb(56,56,56)" stroke="rgb(25,25,25)"/><rect x="1038.9" y="1820.3" width="50.8" height="50.8" fill="rgb(53,53,53)" stroke="rgb(23,23,23)"/><rect x="1092.0" y="1820.3" width="50.8" height="50.8" fill="rgb(77,77,77)" stroke="rgb(34,34,34)"/><rect x="1145.0" y="1820.3" width="50.8" height="50.8" fill="rgb(75,75,75)" stroke="rgb(33,33,33)"/><rect x="1198.1" y="1820.3" width="50.8" height="50.8" fill="rgb(55,55,55)" stroke="rgb(24,24,24)"/><rect x="1251.1" y="1820.3" width="50.8" height="50.8" fill="rgb(38,38,38)" stroke="rgb(17,17,17)"/></g>
<rect x="878.6" y="1501.4" width="795.8" height="317.7" filter="url(#nz)"/>
<rect x="878.6" y="1819.1" width="424.4" height="53.0" filter="url(#nz)"/>
<g fill="#fff" filter="url(#bl2)"><circle cx="906.1" cy="1528.6" r="12.3" fill-opacity="0.13"/><circle cx="957.0" cy="1529.1" r="12.3" fill-opacity="0.19"/><circle cx="1010.0" cy="1528.0" r="12.3" fill-opacity="0.17"/><circle cx="1063.3" cy="1526.8" r="12.3" fill-opacity="0.10"/><circle cx="1117.4" cy="1527.3" r="12.3" fill-opacity="0.16"/><circle cx="1170.4" cy="1526.5" r="12.3" fill-opacity="0.18"/><circle cx="1224.8" cy="1529.3" r="12.3" fill-opacity="0.12"/><circle cx="1277.6" cy="1528.9" r="12.3" fill-opacity="0.10"/><circle cx="1329.1" cy="1526.6" r="12.3" fill-opacity="0.18"/><circle cx="1382.7" cy="1529.0" r="12.3" fill-opacity="0.19"/><circle cx="1436.4" cy="1526.5" r="12.3" fill-opacity="0.18"/><circle cx="1487.3" cy="1528.8" r="12.3" fill-opacity="0.20"/><circle cx="1542.9" cy="1527.6" r="12.3" fill-opacity="0.17"/><circle cx="1594.5" cy="1528.2" r="12.3" fill-opacity="0.15"/><circle cx="1649.2" cy="1527.9" r="12.3" fill-opacity="0.17"/><circle cx="906.4" cy="1580.1" r="12.3" fill-opacity="0.17"/><circle cx="958.2" cy="1580.1" r="12.3" fill-opacity="0.16"/><circle cx="1010.7" cy="1581.0" r="12.3" fill-opacity="0.15"/><circle cx="1065.3" cy="1580.6" r="12.3" fill-opacity="0.12"/><circle cx="1118.3" cy="1582.1" r="12.3" fill-opacity="0.11"/><circle cx="1169.9" cy="1579.9" r="12.3" fill-opacity="0.12"/><circle cx="1222.1" cy="1581.8" r="12.3" fill-opacity="0.16"/><circle cx="1276.2" cy="1579.9" r="12.3" fill-opacity="0.14"/><circle cx="1329.0" cy="1579.9" r="12.3" fill-opacity="0.15"/><circle cx="1383.6" cy="1581.9" r="12.3" fill-opacity="0.18"/><circle cx="1435.2" cy="1579.7" r="12.3" fill-opacity="0.11"/><circle cx="1490.0" cy="1581.2" r="12.3" fill-opacity="0.18"/><circle cx="1541.0" cy="1579.7" r="12.3" fill-opacity="0.11"/><circle cx="1593.4" cy="1580.2" r="12.3" fill-opacity="0.14"/><circle cx="1649.2" cy="1581.1" r="12.3" fill-opacity="0.20"/><circle cx="906.4" cy="1633.2" r="12.3" fill-opacity="0.12"/><circle cx="958.8" cy="1634.8" r="12.3" fill-opacity="0.11"/><circle cx="1012.7" cy="1635.3" r="12.3" fill-opacity="0.12"/><circle cx="1065.3" cy="1634.0" r="12.3" fill-opacity="0.18"/><circle cx="1116.3" cy="1632.7" r="12.3" fill-opacity="0.15"/><circle cx="1171.8" cy="1633.7" r="10.5" fill-opacity="0.13"/><circle cx="1224.5" cy="1634.7" r="12.3" fill-opacity="0.13"/><circle cx="1275.5" cy="1633.2" r="10.5" fill-opacity="0.11"/><circle cx="1330.5" cy="1634.0" r="12.3" fill-opacity="0.19"/><circle cx="1382.1" cy="1632.6" r="12.3" fill-opacity="0.17"/><circle cx="1434.7" cy="1633.1" r="12.3" fill-opacity="0.12"/><circle cx="1489.2" cy="1633.1" r="12.3" fill-opacity="0.14"/><circle cx="1541.5" cy="1632.8" r="12.3" fill-opacity="0.17"/><circle cx="1596.1" cy="1632.6" r="12.3" fill-opacity="0.18"/><circle cx="1648.7" cy="1632.9" r="12.3" fill-opacity="0.14"/><circle cx="904.4" cy="1685.7" r="10.5" fill-opacity="0.12"/><circle cx="958.7" cy="1686.2" r="12.3" fill-opacity="0.14"/><circle cx="1011.5" cy="1688.1" r="12.3" fill-opacity="0.14"/><circle cx="1064.1" cy="1686.2" r="12.3" fill-opacity="0.13"/><circle cx="1117.7" cy="1687.9" r="10.5" fill-opacity="0.14"/><circle cx="1171.6" cy="1687.5" r="12.3" fill-opacity="0.11"/><circle cx="1224.1" cy="1685.5" r="12.3" fill-opacity="0.11"/><circle cx="1276.2" cy="1685.6" r="12.3" fill-opacity="0.18"/><circle cx="1329.3" cy="1686.9" r="12.3" fill-opacity="0.17"/><circle cx="1381.4" cy="1687.7" r="12.3" fill-opacity="0.20"/><circle cx="1436.2" cy="1686.8" r="12.3" fill-opacity="0.16"/><circle cx="1488.7" cy="1687.1" r="12.3" fill-opacity="0.20"/><circle cx="1541.9" cy="1687.1" r="12.3" fill-opacity="0.11"/><circle cx="1594.0" cy="1687.6" r="12.3" fill-opacity="0.13"/><circle cx="1649.2" cy="1687.0" r="12.3" fill-opacity="0.12"/><circle cx="905.8" cy="1739.8" r="12.3" fill-opacity="0.20"/><circle cx="958.6" cy="1740.2" r="12.3" fill-opacity="0.17"/><circle cx="1011.1" cy="1739.8" r="10.5" fill-opacity="0.15"/><circle cx="1064.8" cy="1739.9" r="12.3" fill-opacity="0.16"/><circle cx="1118.0" cy="1740.7" r="10.5" fill-opacity="0.12"/><circle cx="1171.5" cy="1738.9" r="12.3" fill-opacity="0.10"/><circle cx="1222.9" cy="1739.0" r="10.5" fill-opacity="0.15"/><circle cx="1276.2" cy="1739.3" r="12.3" fill-opacity="0.16"/><circle cx="1330.2" cy="1740.8" r="12.3" fill-opacity="0.20"/><circle cx="1382.2" cy="1740.8" r="12.3" fill-opacity="0.13"/><circle cx="1436.9" cy="1739.8" r="10.5" fill-opacity="0.17"/><circle cx="1487.8" cy="1740.0" r="10.5" fill-opacity="0.19"/><circle cx="1541.2" cy="1740.9" r="10.5" fill-opacity="0.12"/><circle cx="1593.4" cy="1738.4" r="12.3" fill-opacity="0.17"/><circle cx="1648.1" cy="1740.7" r="12.3" fill-opacity="0.19"/><circle cx="904.8" cy="1792.3" r="10.5" fill-opacity="0.12"/><circle cx="957.0" cy="1793.0" r="12.3" fill-opacity="0.11"/><circle cx="1010.6" cy="1792.3" r="12.3" fill-opacity="0.15"/><circle cx="1065.8" cy="1794.0" r="12.3" fill-opacity="0.16"/><circle cx="1117.9" cy="1793.0" r="12.3" fill-opacity="0.13"/><circle cx="1170.4" cy="1793.3" r="12.3" fill-opacity="0.14"/><circle cx="1223.8" cy="1792.5" r="12.3" fill-opacity="0.12"/><circle cx="1275.5" cy="1791.4" r="10.5" fill-opacity="0.10"/><circle cx="1328.7" cy="1791.9" r="12.3" fill-opacity="0.13"/><circle cx="1383.8" cy="1793.4" r="10.5" fill-opacity="0.18"/><circle cx="1436.4" cy="1794.0" r="12.3" fill-opacity="0.12"/><circle cx="1488.5" cy="1793.9" r="10.5" fill-opacity="0.12"/><circle cx="1541.5" cy="1791.4" r="12.3" fill-opacity="0.19"/><circle cx="1593.9" cy="1793.3" r="12.3" fill-opacity="0.18"/><circle cx="1647.0" cy="1792.7" r="10.5" fill-opacity="0.16"/><circle cx="904.5" cy="1846.5" r="10.5" fill-opacity="0.15"/><circle cx="958.3" cy="1845.6" r="12.3" fill-opacity="0.12"/><circle cx="1011.9" cy="1846.1" r="12.3" fill-opacity="0.12"/><circle cx="1063.4" cy="1844.5" r="12.3" fill-opacity="0.16"/><circle cx="1116.0" cy="1844.2" r="12.3" fill-opacity="0.10"/><circle cx="1169.5" cy="1846.1" r="12.3" fill-opacity="0.15"/><circle cx="1225.0" cy="1844.8" r="12.3" fill-opacity="0.18"/><circle cx="1275.5" cy="1844.2" r="10.5" fill-opacity="0.12"/></g>
<g fill="none" stroke="#fff" stroke-linecap="round" stroke-linejoin="round" filter="url(#bl)"><path stroke-width="4.0" stroke-opacity=".42" d="M905.2 1530.0Q906.4 1532.6 908.6 1534.6M904.7 1527.3Q901.8 1528.4 898.6 1526.3M906.0 1528.7Q909.5 1528.4 912.9 1530.4M956.3 1530.2Q958.2 1533.5 959.4 1537.2M958.3 1528.2Q954.4 1528.7 950.5 1528.1M957.2 1527.7Q953.8 1525.6 953.3 1520.6M1008.7 1527.1Q1006.4 1524.6 1007.6 1520.5M1008.8 1526.6Q1009.3 1523.3 1013.4 1521.6M1009.2 1528.4Q1011.8 1530.7 1015.9 1530.4M1063.8 1525.6Q1064.4 1528.7 1067.9 1530.5M1062.7 1526.3Q1062.4 1523.0 1059.6 1520.4M1117.6 1527.6Q1118.4 1525.1 1119.9 1522.9M1116.7 1528.8Q1118.3 1530.9 1118.1 1534.0M1170.4 1526.2Q1170.1 1529.9 1174.1 1532.5M1225.7 1529.2Q1227.7 1527.2 1225.7 1523.5M1225.3 1528.0Q1223.0 1529.5 1220.0 1528.9M1277.4 1528.3Q1280.6 1524.9 1285.4 1523.3M1328.0 1526.0Q1324.1 1524.8 1322.6 1519.9M1328.5 1526.3Q1333.0 1525.0 1336.6 1521.8M1328.7 1527.2Q1330.6 1529.0 1333.5 1529.2M1382.8 1527.6Q1380.1 1530.2 1377.4 1532.7M1383.1 1529.6Q1387.2 1531.6 1392.1 1528.1M1382.5 1528.4Q1382.2 1532.0 1383.6 1535.5M1436.7 1526.3Q1437.7 1522.6 1441.6 1520.3M1435.1 1526.7Q1431.6 1526.6 1429.1 1523.1M1486.5 1528.5Q1487.5 1524.1 1491.2 1520.8M1488.8 1530.2Q1493.1 1532.1 1494.1 1537.9M1542.2 1526.7Q1541.2 1524.0 1536.7 1525.2M1542.9 1528.9Q1543.9 1526.0 1545.5 1523.3M1542.7 1528.9Q1543.1 1525.5 1545.8 1522.9M1594.1 1529.0Q1589.7 1530.9 1584.9 1531.6M1593.8 1528.1Q1590.3 1525.1 1593.2 1519.0M1593.9 1528.7Q1596.9 1528.4 1599.6 1526.8M1595.6 1528.5Q1596.1 1532.4 1596.2 1536.4M1648.6 1527.3Q1645.6 1530.9 1640.2 1531.7M1648.3 1527.5Q1651.0 1526.9 1653.7 1526.2M907.2 1581.1Q908.9 1584.1 910.6 1587.0M905.7 1578.6Q903.4 1581.6 904.1 1586.1M906.8 1581.3Q902.3 1580.3 897.5 1581.8M907.6 1579.6Q906.1 1577.1 904.8 1574.5M906.0 1581.4Q908.5 1579.3 910.7 1576.9M959.0 1580.9Q963.0 1581.1 966.4 1584.1M956.9 1578.6Q959.8 1575.3 963.4 1572.6M1010.8 1582.5Q1011.5 1586.7 1013.7 1590.4M1010.1 1581.4Q1007.8 1583.9 1003.7 1583.8M1009.5 1580.1Q1009.8 1575.0 1007.6 1570.1M1011.3 1581.5Q1014.9 1582.1 1018.5 1580.5M1065.7 1581.5Q1067.3 1577.3 1071.0 1574.3M1065.0 1579.3Q1065.9 1582.5 1070.1 1583.5M1118.2 1580.9Q1117.1 1584.8 1121.3 1588.4M1117.1 1580.9Q1120.1 1578.7 1118.0 1573.4M1171.3 1578.6Q1172.1 1575.1 1173.7 1571.8M1170.7 1579.1Q1167.2 1578.9 1163.8 1580.1M1169.7 1579.3Q1167.2 1576.7 1165.9 1573.2M1221.6 1581.7Q1224.2 1579.0 1228.8 1579.9M1275.4 1580.3Q1275.6 1583.4 1272.9 1586.0M1274.7 1581.4Q1279.7 1583.1 1284.9 1578.9M1328.8 1579.0Q1329.8 1582.4 1326.6 1585.8M1328.0 1580.0Q1331.1 1578.8 1333.0 1575.6M1382.3 1582.0Q1380.7 1577.1 1386.9 1572.9M1384.6 1582.4Q1389.3 1584.7 1391.2 1590.6M1434.0 1580.9Q1435.6 1576.3 1437.7 1571.8M1491.1 1582.5Q1491.8 1586.4 1489.4 1590.3M1490.4 1582.5Q1489.2 1586.6 1482.5 1585.8M1489.0 1580.0Q1485.8 1577.9 1485.9 1573.0M1541.9 1578.7Q1545.2 1581.7 1546.1 1586.6M1540.4 1578.4Q1535.7 1580.4 1535.1 1587.1M1594.9 1579.6Q1592.5 1575.7 1586.2 1577.2M1594.2 1581.4Q1597.4 1577.8 1596.2 1572.0M1594.1 1579.2Q1591.9 1581.8 1592.6 1585.8M1648.6 1582.0Q1645.1 1582.1 1644.0 1587.4M1649.1 1581.0Q1647.9 1578.2 1644.5 1577.0M906.5 1634.3Q910.4 1631.8 915.7 1634.6M906.9 1634.5Q904.9 1637.7 903.3 1641.1M907.9 1632.4Q904.4 1632.2 901.0 1631.3M1012.4 1634.1Q1012.6 1637.6 1011.1 1641.0M1012.6 1635.8Q1011.8 1638.9 1008.6 1640.9M1012.5 1635.1Q1016.4 1633.8 1020.5 1636.4M1117.3 1633.2Q1119.0 1628.9 1114.9 1624.3M1117.6 1632.3Q1122.3 1630.7 1127.1 1635.1M1117.0 1631.9Q1112.1 1630.4 1107.0 1629.3M1173.0 1632.4Q1170.8 1628.9 1167.4 1626.4M1170.9 1632.6Q1173.7 1629.8 1175.9 1626.5M1276.8 1633.3Q1273.3 1634.2 1270.8 1637.2M1274.6 1634.6Q1271.6 1632.2 1268.1 1630.5M1276.6 1633.4Q1276.7 1629.7 1278.2 1626.3M1276.5 1633.2Q1280.2 1634.7 1284.4 1632.5M1329.9 1633.4Q1330.7 1629.3 1330.4 1625.0M1381.5 1632.4Q1378.5 1630.1 1374.5 1629.6M1380.9 1632.2Q1383.9 1631.7 1386.9 1633.2M1381.6 1634.0Q1381.1 1638.5 1378.6 1642.6M1434.5 1634.6Q1434.6 1630.7 1436.4 1627.2M1434.6 1633.0Q1437.8 1634.0 1441.3 1632.7M1490.2 1631.8Q1495.3 1633.3 1500.6 1629.4M1541.5 1634.2Q1537.2 1630.5 1530.2 1635.8M1540.0 1631.7Q1539.2 1635.3 1539.3 1639.1M1596.4 1631.7Q1598.1 1628.4 1597.6 1624.4M1595.7 1633.1Q1591.7 1636.8 1586.6 1639.1M1649.5 1632.1Q1645.5 1631.3 1642.8 1627.3M1647.4 1631.7Q1648.0 1627.7 1643.1 1624.8M903.5 1685.7Q907.2 1683.7 911.9 1685.6M903.3 1684.3Q902.3 1689.0 900.7 1693.7M957.7 1686.2Q963.8 1686.8 966.4 1694.9M958.6 1686.0Q954.5 1683.7 955.1 1677.3M1010.1 1689.0Q1011.2 1685.4 1010.6 1681.4M1010.4 1686.8Q1011.2 1681.1 1018.6 1678.6M1012.6 1689.2Q1017.3 1691.8 1016.4 1699.3M1062.9 1685.3Q1064.6 1682.2 1061.3 1678.3M1063.4 1685.4Q1067.4 1686.1 1071.0 1688.0M1062.9 1685.7Q1060.4 1688.0 1058.0 1690.4M1117.9 1689.2Q1122.2 1690.8 1126.1 1684.9M1117.4 1688.5Q1117.9 1691.4 1116.3 1694.2M1117.2 1686.8Q1113.8 1684.7 1114.0 1679.4M1172.5 1686.9Q1167.3 1687.5 1162.3 1684.7M1170.9 1686.5Q1173.2 1683.0 1176.0 1679.9M1225.1 1686.9Q1230.8 1685.4 1231.6 1677.0M1225.5 1687.0Q1229.9 1689.3 1232.9 1693.4M1223.7 1686.4Q1219.1 1687.6 1215.9 1692.0M1275.0 1686.9Q1273.3 1691.5 1274.1 1696.6M1275.8 1685.0Q1271.7 1684.7 1268.4 1681.6M1380.7 1688.4Q1377.5 1693.2 1381.9 1699.9M1381.6 1687.9Q1378.3 1690.7 1373.1 1689.4M1489.0 1688.2Q1487.1 1692.0 1484.0 1695.0M1489.0 1685.8Q1489.1 1680.7 1483.6 1677.2M1488.4 1687.9Q1488.9 1682.7 1489.2 1677.4M1489.7 1686.9Q1491.7 1683.9 1496.4 1684.2M1488.9 1687.4Q1490.9 1690.3 1491.0 1694.2M1542.1 1686.2Q1546.2 1685.2 1550.5 1685.9M1542.3 1688.0Q1545.8 1691.6 1543.9 1697.9M1541.6 1687.7Q1538.2 1689.3 1535.1 1691.8M1594.7 1688.3Q1591.3 1688.7 1590.3 1693.4M1594.4 1688.9Q1592.1 1685.1 1597.0 1680.4M1648.6 1686.2Q1645.1 1682.5 1645.2 1676.7M1649.7 1688.3Q1653.5 1689.4 1657.4 1690.4M905.1 1740.0Q906.6 1743.6 904.5 1747.7M904.4 1740.7Q901.1 1744.7 894.4 1743.8M957.2 1740.1Q958.3 1745.6 956.7 1751.5M957.3 1739.2Q961.0 1743.0 965.5 1745.9M1011.0 1738.8Q1006.9 1741.9 1005.3 1747.4M1010.4 1739.6Q1007.9 1736.1 1002.0 1737.8M1011.1 1740.4Q1014.9 1737.7 1020.1 1738.6M1010.4 1741.2Q1013.6 1742.0 1016.0 1744.5M1064.3 1739.1Q1062.8 1742.9 1062.3 1747.1M1065.6 1739.8Q1067.3 1736.1 1066.7 1731.8M1065.6 1740.6Q1071.2 1738.3 1076.1 1746.4M1119.0 1739.9Q1115.4 1742.6 1110.2 1741.5M1119.0 1742.0Q1121.5 1739.1 1121.6 1734.8M1171.1 1739.0Q1167.3 1737.5 1164.6 1733.9M1223.1 1739.5Q1225.1 1742.4 1224.1 1746.5M1223.8 1738.0Q1224.2 1733.0 1221.5 1728.3M1276.2 1738.1Q1274.9 1742.7 1278.0 1747.6M1276.3 1739.1Q1275.6 1744.1 1271.1 1747.8M1275.7 1740.4Q1279.9 1736.4 1280.6 1729.9M1277.1 1738.4Q1282.1 1740.2 1287.8 1738.6M1329.3 1740.9Q1330.9 1737.6 1331.3 1733.9M1330.3 1740.1Q1326.5 1738.1 1322.9 1735.8M1383.2 1740.5Q1380.7 1743.8 1375.7 1744.2M1383.4 1741.5Q1388.0 1738.4 1387.9 1731.5M1436.1 1738.5Q1440.8 1740.5 1443.6 1745.5M1437.8 1739.7Q1436.5 1742.9 1437.8 1746.6M1437.9 1741.3Q1438.7 1736.2 1440.8 1731.4M1489.0 1741.1Q1491.8 1737.4 1494.5 1733.6M1488.6 1740.2Q1489.7 1744.3 1485.7 1748.1M1487.2 1740.6Q1483.4 1740.4 1479.6 1740.4M1542.4 1740.2Q1539.9 1737.9 1538.7 1734.6M1540.3 1742.0Q1538.5 1747.3 1537.4 1752.8M1541.3 1742.2Q1539.0 1746.8 1537.4 1751.8M1593.1 1738.2Q1596.5 1733.0 1605.0 1734.7M1592.8 1739.3Q1597.3 1742.0 1601.4 1745.3M1647.6 1741.6Q1651.1 1739.0 1656.1 1740.0M904.4 1791.2Q899.4 1789.1 893.5 1790.2M906.0 1793.1Q906.9 1787.5 913.7 1784.7M905.2 1793.6Q909.0 1790.6 912.6 1787.4M958.1 1794.4Q957.5 1790.0 959.6 1785.7M955.9 1792.8Q958.0 1798.4 966.9 1797.4M956.8 1791.8Q950.9 1794.4 946.1 1798.8M1012.0 1792.3Q1009.5 1795.6 1005.3 1797.1M1011.9 1793.7Q1014.8 1788.9 1018.5 1784.8M1067.0 1794.8Q1067.8 1800.8 1070.9 1806.2M1064.9 1794.1Q1061.6 1797.2 1058.3 1800.3M1065.3 1793.6Q1063.2 1788.7 1057.1 1786.9M1066.1 1795.3Q1071.8 1796.6 1077.1 1791.8M1116.4 1792.8Q1120.1 1789.8 1121.8 1785.1M1117.0 1793.4Q1112.7 1795.8 1111.1 1801.2M1170.6 1792.9Q1171.8 1796.7 1170.1 1800.8M1169.3 1792.3Q1164.1 1788.1 1155.9 1793.8M1170.4 1792.0Q1175.8 1791.5 1181.2 1792.5M1169.4 1792.9Q1169.6 1797.6 1177.2 1798.1M1274.9 1791.6Q1273.3 1786.1 1269.6 1781.6M1274.7 1791.9Q1277.1 1788.8 1279.5 1785.7M1275.8 1792.5Q1277.5 1795.9 1280.0 1798.8M1328.5 1790.5Q1327.4 1786.6 1323.0 1784.4M1330.1 1792.8Q1335.8 1793.9 1340.0 1799.0M1329.0 1791.4Q1329.7 1796.4 1323.1 1799.5M1382.7 1794.1Q1377.7 1791.5 1373.8 1787.3M1382.4 1792.9Q1383.7 1787.1 1391.0 1784.9M1435.7 1792.7Q1432.7 1788.7 1431.2 1783.9M1436.0 1794.9Q1439.3 1789.6 1437.7 1782.5M1436.5 1793.4Q1440.7 1799.0 1444.7 1804.8M1489.5 1793.2Q1492.4 1788.1 1498.8 1786.0M1541.8 1790.9Q1545.0 1796.4 1537.3 1802.8M1541.0 1792.5Q1545.2 1787.0 1554.9 1792.3M1593.6 1794.1Q1595.1 1799.2 1597.5 1804.1M1592.8 1792.0Q1588.3 1786.6 1584.0 1781.0M1645.7 1794.1Q1650.7 1796.4 1655.8 1798.5M1648.4 1791.8Q1643.8 1789.9 1638.5 1793.2M1646.4 1792.0Q1646.9 1787.8 1650.8 1784.9M903.7 1846.9Q900.9 1850.8 898.8 1855.2M904.6 1847.0Q905.6 1841.0 904.9 1834.8M958.4 1846.6Q961.7 1843.1 959.2 1837.0M959.2 1844.5Q962.4 1847.2 967.0 1847.5M957.5 1845.0Q963.0 1849.0 966.3 1855.5M957.3 1845.9Q954.7 1851.1 948.6 1853.7M957.4 1845.0Q952.3 1843.4 947.4 1841.3M1011.9 1846.3Q1006.5 1851.3 1002.8 1857.9M1062.6 1845.6Q1066.1 1851.3 1068.8 1857.6M1115.6 1844.9Q1110.9 1844.1 1108.1 1838.8M1117.1 1843.7Q1123.9 1843.7 1129.6 1849.2M1170.4 1846.3Q1163.5 1849.3 1164.7 1860.2M1225.8 1844.6Q1221.0 1845.0 1217.3 1849.0M1275.9 1843.1Q1271.5 1841.7 1266.7 1844.1"/><path stroke-width="1.6" stroke-opacity=".5" d="M908.1 1533.9A4.0 2.6 52 1 0 913.1 1540.2A4.0 2.6 52 1 0 908.1 1533.9M959.1 1536.5A3.8 2.5 432 1 0 961.4 1543.7A3.8 2.5 432 1 0 959.1 1536.5M958.2 1539.0A2.7 1.7 469 1 0 956.5 1544.0A2.7 1.7 469 1 0 958.2 1539.0M951.0 1528.0A2.8 1.8 535 1 0 945.4 1528.5A2.8 1.8 535 1 0 951.0 1528.0M1007.9 1521.2A4.2 2.7 245 1 0 1004.4 1513.7A4.2 2.7 245 1 0 1007.9 1521.2M1012.8 1522.1A3.7 2.4 326 1 0 1018.9 1517.9A3.7 2.4 326 1 0 1012.8 1522.1M1015.3 1530.4A2.8 1.8 366 1 0 1020.8 1530.9A2.8 1.8 366 1 0 1015.3 1530.4M1006.4 1529.9A3.6 2.3 518 1 0 999.8 1532.5A3.6 2.3 518 1 0 1006.4 1529.9M1005.8 1521.8A4.1 2.7 573 1 0 999.0 1517.3A4.1 2.7 573 1 0 1005.8 1521.8M1063.2 1534.4A3.8 2.5 427 1 0 1066.2 1541.4A3.8 2.5 427 1 0 1063.2 1534.4M1059.9 1521.0A3.1 2.0 598 1 0 1056.7 1515.7A3.1 2.0 598 1 0 1059.9 1521.0M1109.8 1526.5A2.6 1.7 191 1 0 1104.7 1525.4A2.6 1.7 191 1 0 1109.8 1526.5M1117.9 1533.4A3.2 2.1 427 1 0 1120.4 1539.3A3.2 2.1 427 1 0 1117.9 1533.4M1174.1 1532.0A2.7 1.8 87 1 0 1174.4 1537.4A2.7 1.8 87 1 0 1174.1 1532.0M1164.2 1528.9A2.5 1.6 175 1 0 1159.2 1529.3A2.5 1.6 175 1 0 1164.2 1528.9M1225.9 1524.3A4.0 2.6 262 1 0 1224.8 1516.5A4.0 2.6 262 1 0 1225.9 1524.3M1229.5 1535.7A3.2 2.1 384 1 0 1235.3 1538.3A3.2 2.1 384 1 0 1229.5 1535.7M1285.0 1523.7A2.7 1.7 316 1 0 1288.8 1520.0A2.7 1.7 316 1 0 1285.0 1523.7M1323.2 1520.1A3.3 2.2 202 1 0 1317.0 1517.6A3.3 2.2 202 1 0 1323.2 1520.1M1332.8 1529.0A3.6 2.3 378 1 0 1339.6 1531.3A3.6 2.3 378 1 0 1332.8 1529.0M1383.7 1524.0A4.0 2.6 280 1 0 1385.1 1516.2A4.0 2.6 280 1 0 1383.7 1524.0M1383.4 1534.9A3.4 2.2 433 1 0 1385.4 1541.3A3.4 2.2 433 1 0 1383.4 1534.9M1441.2 1520.7A3.1 2.0 314 1 0 1445.5 1516.3A3.1 2.0 314 1 0 1441.2 1520.7M1429.9 1523.2A3.8 2.5 553 1 0 1422.5 1521.5A3.8 2.5 553 1 0 1429.9 1523.2M1490.7 1521.2A3.1 2.0 324 1 0 1495.7 1517.6A3.1 2.0 324 1 0 1490.7 1521.2M1494.1 1537.3A3.2 2.1 444 1 0 1494.8 1543.7A3.2 2.1 444 1 0 1494.1 1537.3M1537.3 1525.5A3.3 2.2 208 1 0 1531.5 1522.3A3.3 2.2 208 1 0 1537.3 1525.5M1551.1 1529.1A3.9 2.5 399 1 0 1557.0 1534.0A3.9 2.5 399 1 0 1551.1 1529.1M1585.5 1531.5A2.9 1.9 177 1 0 1579.7 1531.8A2.9 1.9 177 1 0 1585.5 1531.5M1593.0 1519.8A3.9 2.6 287 1 0 1595.2 1512.2A3.9 2.6 287 1 0 1593.0 1519.8M1596.1 1535.6A3.7 2.4 441 1 0 1597.3 1542.9A3.7 2.4 441 1 0 1596.1 1535.6M1647.8 1522.0A3.1 2.0 278 1 0 1648.6 1515.9A3.1 2.0 278 1 0 1647.8 1522.0M1651.9 1522.0A3.8 2.5 284 1 0 1653.7 1514.6A3.8 2.5 284 1 0 1651.9 1522.0M1652.8 1526.3A4.1 2.6 355 1 0 1660.9 1525.6A4.1 2.6 355 1 0 1652.8 1526.3M1655.8 1528.7A3.4 2.2 386 1 0 1661.9 1531.8A3.4 2.2 386 1 0 1655.8 1528.7M898.3 1582.0A3.9 2.6 196 1 0 890.7 1579.9A3.9 2.6 196 1 0 898.3 1582.0M953.3 1582.9A4.0 2.6 180 1 0 945.3 1582.9A4.0 2.6 180 1 0 953.3 1582.9M952.9 1574.5A3.3 2.1 201 1 0 946.8 1572.1A3.3 2.1 201 1 0 952.9 1574.5M1070.5 1574.9A4.0 2.6 311 1 0 1075.7 1568.8A4.0 2.6 311 1 0 1070.5 1574.9M1073.8 1579.4A3.1 2.0 360 1 0 1080.0 1579.4A3.1 2.0 360 1 0 1073.8 1579.4M1069.7 1583.2A2.5 1.7 401 1 0 1073.5 1586.5A2.5 1.7 401 1 0 1069.7 1583.2M1061.3 1575.2A2.8 1.8 569 1 0 1056.4 1572.5A2.8 1.8 569 1 0 1061.3 1575.2M1121.1 1587.8A3.6 2.3 72 1 0 1123.3 1594.5A3.6 2.3 72 1 0 1121.1 1587.8M1125.3 1584.5A2.9 1.9 352 1 0 1131.0 1583.8A2.9 1.9 352 1 0 1125.3 1584.5M1173.5 1572.5A3.6 2.4 284 1 0 1175.2 1565.5A3.6 2.4 284 1 0 1173.5 1572.5M1177.0 1578.6A2.7 1.7 327 1 0 1181.5 1575.7A2.7 1.7 327 1 0 1177.0 1578.6M1169.0 1590.1A3.0 2.0 478 1 0 1166.1 1595.5A3.0 2.0 478 1 0 1169.0 1590.1M1162.4 1584.8A2.6 1.7 525 1 0 1157.4 1586.2A2.6 1.7 525 1 0 1162.4 1584.8M1164.5 1580.1A3.8 2.5 546 1 0 1157.0 1579.3A3.8 2.5 546 1 0 1164.5 1580.1M1216.6 1585.9A2.7 1.8 129 1 0 1213.1 1590.2A2.7 1.8 129 1 0 1216.6 1585.9M1220.4 1574.8A3.9 2.5 237 1 0 1216.2 1568.3A3.9 2.5 237 1 0 1220.4 1574.8M1228.1 1579.8A3.5 2.3 370 1 0 1234.9 1581.1A3.5 2.3 370 1 0 1228.1 1579.8M1273.0 1585.5A2.9 1.9 104 1 0 1271.6 1591.1A2.9 1.9 104 1 0 1273.0 1585.5M1273.1 1572.8A4.1 2.7 251 1 0 1270.4 1565.0A4.1 2.7 251 1 0 1273.1 1572.8M1284.2 1578.8A3.4 2.2 368 1 0 1290.9 1579.8A3.4 2.2 368 1 0 1284.2 1578.8M1326.6 1585.1A3.6 2.3 90 1 0 1326.5 1592.3A3.6 2.3 90 1 0 1326.6 1585.1M1332.7 1576.2A3.2 2.1 300 1 0 1335.9 1570.7A3.2 2.1 300 1 0 1332.7 1576.2M1386.5 1573.3A2.9 1.9 304 1 0 1389.8 1568.5A2.9 1.9 304 1 0 1386.5 1573.3M1388.2 1579.3A3.2 2.1 325 1 0 1393.4 1575.6A3.2 2.1 325 1 0 1388.2 1579.3M1375.4 1580.2A3.5 2.3 571 1 0 1369.5 1576.6A3.5 2.3 571 1 0 1375.4 1580.2M1434.8 1588.5A3.1 2.0 128 1 0 1430.9 1593.5A3.1 2.0 128 1 0 1434.8 1588.5M1425.7 1578.7A3.6 2.3 200 1 0 1419.0 1576.3A3.6 2.3 200 1 0 1425.7 1578.7M1437.3 1572.6A4.1 2.7 295 1 0 1440.8 1565.1A4.1 2.7 295 1 0 1437.3 1572.6M1497.1 1585.2A3.3 2.2 385 1 0 1503.1 1588.0A3.3 2.2 385 1 0 1497.1 1585.2M1545.6 1586.1A3.6 2.4 42 1 0 1551.0 1590.9A3.6 2.4 42 1 0 1545.6 1586.1M1537.7 1575.4A2.6 1.7 245 1 0 1535.5 1570.7A2.6 1.7 245 1 0 1537.7 1575.4M1542.6 1574.2A2.6 1.7 307 1 0 1545.7 1570.1A2.6 1.7 307 1 0 1542.6 1574.2M1587.1 1582.9A3.3 2.2 138 1 0 1582.1 1587.4A3.3 2.2 138 1 0 1587.1 1582.9M1596.3 1572.5A2.5 1.6 261 1 0 1595.5 1567.5A2.5 1.6 261 1 0 1596.3 1572.5M1658.4 1575.8A3.9 2.6 307 1 0 1663.1 1569.5A3.9 2.6 307 1 0 1658.4 1575.8M1644.8 1577.6A3.4 2.2 603 1 0 1641.7 1571.6A3.4 2.2 603 1 0 1644.8 1577.6M915.1 1634.2A3.5 2.3 29 1 0 921.2 1637.6A3.5 2.3 29 1 0 915.1 1634.2M907.2 1640.4A2.7 1.8 69 1 0 909.1 1645.5A2.7 1.8 69 1 0 907.2 1640.4M901.7 1631.5A3.9 2.5 198 1 0 894.3 1629.1A3.9 2.5 198 1 0 901.7 1631.5M951.2 1629.4A3.9 2.5 562 1 0 944.0 1626.6A3.9 2.5 562 1 0 951.2 1629.4M1011.5 1640.3A4.1 2.7 119 1 0 1007.6 1647.4A4.1 2.7 119 1 0 1011.5 1640.3M1009.3 1640.5A3.9 2.5 151 1 0 1002.5 1644.2A3.9 2.5 151 1 0 1009.3 1640.5M1007.3 1631.1A2.9 1.9 239 1 0 1004.3 1626.1A2.9 1.9 239 1 0 1007.3 1631.1M1058.9 1629.7A3.8 2.4 237 1 0 1054.8 1623.3A3.8 2.4 237 1 0 1058.9 1629.7M1114.9 1624.8A2.5 1.6 268 1 0 1114.7 1619.8A2.5 1.6 268 1 0 1114.9 1624.8M1114.7 1639.0A3.2 2.1 484 1 0 1111.1 1644.3A3.2 2.1 484 1 0 1114.7 1639.0M1170.7 1639.1A2.9 1.9 140 1 0 1166.2 1642.7A2.9 1.9 140 1 0 1170.7 1639.1M1163.2 1631.3A2.1 1.4 214 1 0 1159.7 1628.9A2.1 1.4 214 1 0 1163.2 1631.3M1175.4 1626.8A3.0 1.9 327 1 0 1180.4 1623.6A3.0 1.9 327 1 0 1175.4 1626.8M1173.8 1640.7A3.4 2.2 443 1 0 1174.6 1647.4A3.4 2.2 443 1 0 1173.8 1640.7M1223.8 1641.0A3.0 2.0 434 1 0 1225.5 1646.9A3.0 2.0 434 1 0 1223.8 1641.0M1284.0 1632.4A2.2 1.5 375 1 0 1288.3 1633.6A2.2 1.5 375 1 0 1284.0 1632.4M1330.1 1625.7A3.6 2.3 289 1 0 1332.6 1618.9A3.6 2.3 289 1 0 1330.1 1625.7M1375.1 1629.8A3.0 1.9 201 1 0 1369.6 1627.7A3.0 1.9 201 1 0 1375.1 1629.8M1386.1 1633.1A4.1 2.7 364 1 0 1394.3 1633.7A4.1 2.7 364 1 0 1386.1 1633.1M1440.7 1632.7A3.2 2.1 363 1 0 1447.1 1633.0A3.2 2.1 363 1 0 1440.7 1632.7M1484.9 1632.9A3.5 2.3 213 1 0 1479.0 1629.1A3.5 2.3 213 1 0 1484.9 1632.9M1480.9 1626.7A4.1 2.7 193 1 0 1472.9 1624.9A4.1 2.7 193 1 0 1480.9 1626.7M1500.0 1629.5A3.1 2.0 355 1 0 1506.3 1629.0A3.1 2.0 355 1 0 1500.0 1629.5M1530.9 1635.9A3.3 2.1 187 1 0 1524.4 1635.1A3.3 2.1 187 1 0 1530.9 1635.9M1597.7 1625.2A3.7 2.4 266 1 0 1597.2 1617.8A3.7 2.4 266 1 0 1597.7 1625.2M1587.4 1639.0A4.0 2.6 531 1 0 1579.4 1640.2A4.0 2.6 531 1 0 1587.4 1639.0M1643.2 1627.9A3.8 2.4 242 1 0 1639.6 1621.3A3.8 2.4 242 1 0 1643.2 1627.9M1657.4 1632.4A2.8 1.8 380 1 0 1662.7 1634.3A2.8 1.8 380 1 0 1657.4 1632.4M1647.2 1640.6A2.9 1.9 459 1 0 1646.4 1646.4A2.9 1.9 459 1 0 1647.2 1640.6M904.3 1680.8A3.5 2.3 262 1 0 903.4 1673.9A3.5 2.3 262 1 0 904.3 1680.8M909.2 1684.3A2.9 1.9 337 1 0 914.5 1682.1A2.9 1.9 337 1 0 909.2 1684.3M906.7 1692.1A3.2 2.1 435 1 0 908.4 1698.3A3.2 2.1 435 1 0 906.7 1692.1M901.0 1693.3A2.3 1.5 480 1 0 898.7 1697.2A2.3 1.5 480 1 0 901.0 1693.3M953.9 1692.3A3.7 2.4 509 1 0 947.6 1696.1A3.7 2.4 509 1 0 953.9 1692.3M955.1 1678.0A3.2 2.1 632 1 0 955.3 1671.6A3.2 2.1 632 1 0 955.1 1678.0M1010.2 1682.1A4.0 2.6 300 1 0 1014.3 1675.2A4.0 2.6 300 1 0 1010.2 1682.1M1018.3 1679.0A2.7 1.8 312 1 0 1021.9 1675.0A2.7 1.8 312 1 0 1018.3 1679.0M1016.3 1698.4A4.0 2.6 447 1 0 1016.8 1706.5A4.0 2.6 447 1 0 1016.3 1698.4M1070.6 1687.7A2.9 1.9 394 1 0 1075.4 1690.9A2.9 1.9 394 1 0 1070.6 1687.7M1125.5 1685.0A2.7 1.8 351 1 0 1130.9 1684.2A2.7 1.8 351 1 0 1125.5 1685.0M1116.5 1693.6A3.1 2.0 467 1 0 1114.7 1699.6A3.1 2.0 467 1 0 1116.5 1693.6M1114.0 1680.0A3.1 2.0 628 1 0 1113.8 1673.8A3.1 2.0 628 1 0 1114.0 1680.0M1177.0 1693.3A3.0 1.9 21 1 0 1182.6 1695.4A3.0 1.9 21 1 0 1177.0 1693.3M1162.9 1684.5A2.9 1.9 170 1 0 1157.1 1685.6A2.9 1.9 170 1 0 1162.9 1684.5M1175.8 1680.6A3.9 2.5 284 1 0 1177.7 1673.0A3.9 2.5 284 1 0 1175.8 1680.6M1215.1 1681.2A3.9 2.5 203 1 0 1207.9 1678.1A3.9 2.5 203 1 0 1215.1 1681.2M1231.3 1677.6A3.4 2.2 293 1 0 1234.0 1671.4A3.4 2.2 293 1 0 1231.3 1677.6M1232.3 1693.1A3.7 2.4 389 1 0 1238.7 1696.6A3.7 2.4 389 1 0 1232.3 1693.1M1285.7 1686.1A3.5 2.3 371 1 0 1292.6 1687.4A3.5 2.3 371 1 0 1285.7 1686.1M1274.3 1696.1A2.6 1.7 478 1 0 1271.9 1700.7A2.6 1.7 478 1 0 1274.3 1696.1M1268.9 1682.0A3.3 2.1 575 1 0 1263.6 1678.2A3.3 2.1 575 1 0 1268.9 1682.0M1337.2 1681.1A3.7 2.4 311 1 0 1342.1 1675.5A3.7 2.4 311 1 0 1337.2 1681.1M1318.8 1682.6A2.9 1.9 572 1 0 1313.8 1679.5A2.9 1.9 572 1 0 1318.8 1682.6M1329.0 1680.6A3.4 2.2 590 1 0 1324.7 1675.4A3.4 2.2 590 1 0 1329.0 1680.6M1380.2 1680.8A2.7 1.8 248 1 0 1378.2 1675.8A2.7 1.8 248 1 0 1380.2 1680.8M1382.0 1699.3A3.1 2.0 463 1 0 1380.6 1705.3A3.1 2.0 463 1 0 1382.0 1699.3M1439.9 1696.1A3.8 2.5 62 1 0 1443.5 1702.8A3.8 2.5 62 1 0 1439.9 1696.1M1489.4 1678.0A3.0 1.9 258 1 0 1488.1 1672.1A3.0 1.9 258 1 0 1489.4 1678.0M1495.8 1684.2A2.9 1.9 366 1 0 1501.5 1684.8A2.9 1.9 366 1 0 1495.8 1684.2M1549.8 1686.1A3.8 2.5 350 1 0 1557.3 1684.8A3.8 2.5 350 1 0 1549.8 1686.1M1603.1 1682.1A3.4 2.2 359 1 0 1609.9 1681.9A3.4 2.2 359 1 0 1603.1 1682.1M1656.6 1690.2A4.0 2.6 377 1 0 1664.2 1692.5A4.0 2.6 377 1 0 1656.6 1690.2M904.4 1747.2A2.5 1.6 85 1 0 904.9 1752.2A2.5 1.6 85 1 0 904.4 1747.2M904.4 1727.2A3.2 2.1 267 1 0 904.1 1720.8A3.2 2.1 267 1 0 904.4 1727.2M918.3 1738.6A3.4 2.2 325 1 0 923.9 1734.7A3.4 2.2 325 1 0 918.3 1738.6M956.6 1750.9A2.9 1.9 75 1 0 958.1 1756.5A2.9 1.9 75 1 0 956.6 1750.9M950.6 1743.3A4.1 2.6 182 1 0 942.4 1743.0A4.1 2.6 182 1 0 950.6 1743.3M958.5 1730.9A2.5 1.6 292 1 0 960.3 1726.2A2.5 1.6 292 1 0 958.5 1730.9M965.0 1745.4A3.6 2.4 412 1 0 969.5 1751.1A3.6 2.4 412 1 0 965.0 1745.4M1122.0 1746.7A2.7 1.8 385 1 0 1127.0 1749.0A2.7 1.8 385 1 0 1122.0 1746.7M1111.3 1747.7A2.8 1.8 502 1 0 1106.8 1751.2A2.8 1.8 502 1 0 1111.3 1747.7M1110.6 1741.2A2.5 1.6 508 1 0 1106.4 1743.8A2.5 1.6 508 1 0 1110.6 1741.2M1121.5 1735.3A2.6 1.7 646 1 0 1122.9 1730.3A2.6 1.7 646 1 0 1121.5 1735.3M1179.7 1736.3A4.1 2.6 335 1 0 1187.0 1732.9A4.1 2.6 335 1 0 1179.7 1736.3M1227.7 1736.3A3.2 2.1 360 1 0 1234.1 1736.3A3.2 2.1 360 1 0 1227.7 1736.3M1224.2 1746.0A2.6 1.7 458 1 0 1223.4 1751.1A2.6 1.7 458 1 0 1224.2 1746.0M1221.3 1728.9A3.2 2.1 645 1 0 1222.9 1722.8A3.2 2.1 645 1 0 1221.3 1728.9M1265.9 1734.7A3.5 2.3 182 1 0 1258.9 1734.5A3.5 2.3 182 1 0 1265.9 1734.7M1333.7 1749.6A2.7 1.7 452 1 0 1333.5 1754.9A2.7 1.7 452 1 0 1333.7 1749.6M1330.5 1751.9A3.4 2.2 465 1 0 1328.7 1758.4A3.4 2.2 465 1 0 1330.5 1751.9M1387.8 1732.2A3.5 2.3 275 1 0 1388.5 1725.2A3.5 2.3 275 1 0 1387.8 1732.2M1443.3 1745.0A2.5 1.6 59 1 0 1445.9 1749.3A2.5 1.6 59 1 0 1443.3 1745.0M1437.6 1746.0A2.9 1.9 72 1 0 1439.5 1751.6A2.9 1.9 72 1 0 1437.6 1746.0M1440.6 1731.8A2.3 1.5 298 1 0 1442.7 1727.7A2.3 1.5 298 1 0 1440.6 1731.8M1494.3 1734.2A3.4 2.2 285 1 0 1496.0 1727.8A3.4 2.2 285 1 0 1494.3 1734.2M1494.6 1748.9A2.9 1.9 404 1 0 1498.7 1752.9A2.9 1.9 404 1 0 1494.6 1748.9M1485.9 1747.6A2.5 1.6 463 1 0 1484.8 1752.4A2.5 1.6 463 1 0 1485.9 1747.6M1550.3 1743.0A3.0 1.9 361 1 0 1556.3 1743.1A3.0 1.9 361 1 0 1550.3 1743.0M1536.4 1740.0A3.4 2.2 553 1 0 1529.8 1738.5A3.4 2.2 553 1 0 1536.4 1740.0M1588.7 1746.9A3.4 2.2 137 1 0 1583.7 1751.6A3.4 2.2 137 1 0 1588.7 1746.9M1604.6 1735.0A2.5 1.6 329 1 0 1608.9 1732.5A2.5 1.6 329 1 0 1604.6 1735.0M1600.7 1745.2A3.5 2.3 368 1 0 1607.7 1746.2A3.5 2.3 368 1 0 1600.7 1745.2M1655.4 1740.2A3.9 2.5 345 1 0 1662.8 1738.2A3.9 2.5 345 1 0 1655.4 1740.2M1651.0 1749.2A3.0 1.9 457 1 0 1650.3 1755.1A3.0 1.9 457 1 0 1651.0 1749.2M1645.4 1750.8A3.2 2.1 444 1 0 1646.1 1757.1A3.2 2.1 444 1 0 1645.4 1750.8M913.3 1784.9A2.2 1.4 326 1 0 916.9 1782.5A2.2 1.4 326 1 0 913.3 1784.9M1076.6 1792.3A3.4 2.2 319 1 0 1081.8 1787.7A3.4 2.2 319 1 0 1076.6 1792.3M1111.4 1800.5A4.0 2.6 474 1 0 1108.2 1807.8A4.0 2.6 474 1 0 1111.4 1800.5M1169.9 1800.1A4.0 2.6 73 1 0 1172.2 1807.7A4.0 2.6 73 1 0 1169.9 1800.1M1156.4 1793.6A2.7 1.7 157 1 0 1151.4 1795.7A2.7 1.7 157 1 0 1156.4 1793.6M1165.1 1782.6A2.9 1.9 238 1 0 1162.0 1777.7A2.9 1.9 238 1 0 1165.1 1782.6M1218.3 1796.7A2.9 1.9 170 1 0 1212.6 1797.7A2.9 1.9 170 1 0 1218.3 1796.7M1215.8 1785.4A3.1 2.0 193 1 0 1209.8 1784.0A3.1 2.0 193 1 0 1215.8 1785.4M1271.4 1798.2A3.3 2.1 124 1 0 1267.7 1803.7A3.3 2.1 124 1 0 1271.4 1798.2M1283.4 1792.9A2.7 1.8 354 1 0 1288.8 1792.3A2.7 1.8 354 1 0 1283.4 1792.9M1279.6 1798.4A3.0 1.9 408 1 0 1283.6 1802.8A3.0 1.9 408 1 0 1279.6 1798.4M1323.5 1784.7A2.9 1.9 206 1 0 1318.3 1782.2A2.9 1.9 206 1 0 1323.5 1784.7M1328.0 1783.5A2.8 1.8 290 1 0 1329.8 1778.3A2.8 1.8 290 1 0 1328.0 1783.5M1338.0 1792.3A3.0 1.9 372 1 0 1343.8 1793.5A3.0 1.9 372 1 0 1338.0 1792.3M1323.4 1799.0A2.6 1.7 476 1 0 1321.0 1803.7A2.6 1.7 476 1 0 1323.4 1799.0M1374.2 1787.4A2.3 1.5 201 1 0 1369.8 1785.8A2.3 1.5 201 1 0 1374.2 1787.4M1396.2 1794.2A2.8 1.8 366 1 0 1401.8 1794.8A2.8 1.8 366 1 0 1396.2 1794.2M1379.4 1803.6A3.5 2.3 477 1 0 1376.2 1809.9A3.5 2.3 477 1 0 1379.4 1803.6M1431.3 1784.5A3.5 2.2 262 1 0 1430.3 1777.7A3.5 2.2 262 1 0 1431.3 1784.5M1444.0 1804.4A3.7 2.4 387 1 0 1450.6 1807.9A3.7 2.4 387 1 0 1444.0 1804.4M1498.1 1801.3A2.6 1.7 383 1 0 1502.9 1803.4A2.6 1.7 383 1 0 1498.1 1801.3M1481.0 1794.5A2.6 1.7 498 1 0 1477.1 1798.0A2.6 1.7 498 1 0 1481.0 1794.5M1479.3 1793.0A2.5 1.6 521 1 0 1474.5 1794.6A2.5 1.6 521 1 0 1479.3 1793.0M1547.2 1798.0A3.8 2.5 68 1 0 1550.1 1805.1A3.8 2.5 68 1 0 1547.2 1798.0M1531.1 1791.6A3.8 2.5 212 1 0 1524.6 1787.5A3.8 2.5 212 1 0 1531.1 1791.6M1554.3 1792.5A3.1 2.0 337 1 0 1560.0 1790.0A3.1 2.0 337 1 0 1554.3 1792.5M1597.3 1803.6A2.6 1.7 433 1 0 1598.9 1808.5A2.6 1.7 433 1 0 1597.3 1803.6M1584.6 1781.3A3.0 1.9 565 1 0 1579.2 1778.7A3.0 1.9 565 1 0 1584.6 1781.3M1639.0 1793.1A2.8 1.8 169 1 0 1633.5 1794.1A2.8 1.8 169 1 0 1639.0 1793.1M1650.5 1785.5A3.3 2.1 299 1 0 1653.7 1779.8A3.3 2.1 299 1 0 1650.5 1785.5M899.2 1854.8A2.8 1.8 130 1 0 895.6 1859.1A2.8 1.8 130 1 0 899.2 1854.8M969.7 1842.2A3.2 2.1 360 1 0 976.2 1842.2A3.2 2.1 360 1 0 969.7 1842.2M949.1 1853.4A2.7 1.7 508 1 0 944.6 1856.2A2.7 1.7 508 1 0 949.1 1853.4M947.8 1841.8A3.1 2.0 588 1 0 943.7 1837.2A3.1 2.0 588 1 0 947.8 1841.8M1021.5 1842.5A3.6 2.3 336 1 0 1028.0 1839.5A3.6 2.3 336 1 0 1021.5 1842.5M1016.8 1852.2A3.5 2.2 423 1 0 1019.9 1858.3A3.5 2.2 423 1 0 1016.8 1852.2M1003.0 1857.4A2.5 1.6 474 1 0 1001.0 1861.9A2.5 1.6 474 1 0 1003.0 1857.4M1053.3 1852.0A2.7 1.7 476 1 0 1051.0 1856.8A2.7 1.7 476 1 0 1053.3 1852.0M1108.4 1839.3A2.7 1.7 247 1 0 1106.3 1834.4A2.7 1.7 247 1 0 1108.4 1839.3M1129.1 1848.7A3.2 2.1 403 1 0 1133.8 1853.1A3.2 2.1 403 1 0 1129.1 1848.7M1106.6 1853.9A3.3 2.2 493 1 0 1102.0 1858.8A3.3 2.2 493 1 0 1106.6 1853.9M1164.5 1840.2A3.5 2.3 203 1 0 1158.0 1837.4A3.5 2.3 203 1 0 1164.5 1840.2M1178.7 1843.7A2.5 1.6 322 1 0 1182.7 1840.6A2.5 1.6 322 1 0 1178.7 1843.7M1267.2 1844.2A2.5 1.6 189 1 0 1262.2 1843.4A2.5 1.6 189 1 0 1267.2 1844.2M1273.7 1835.0A2.7 1.7 269 1 0 1273.6 1829.7A2.7 1.7 269 1 0 1273.7 1835.0"/><path stroke-width="3.4" stroke-opacity=".8" d="M905.9 1527.9Q908.2 1523.7 902.8 1518.9M955.9 1529.3Q958.1 1525.9 958.6 1521.6M957.0 1530.5Q956.8 1535.0 958.1 1539.5M1009.5 1526.8Q1009.7 1531.0 1010.6 1535.1M1010.5 1528.1Q1008.2 1529.3 1005.7 1530.1M1011.0 1528.4Q1010.5 1523.9 1005.1 1521.4M1061.9 1525.3Q1063.3 1520.8 1065.4 1516.6M1063.9 1527.5Q1061.8 1530.7 1063.5 1535.1M1116.0 1527.5Q1113.3 1525.5 1109.3 1526.4M1169.9 1526.3Q1167.4 1528.5 1163.7 1528.9M1171.0 1527.9Q1169.7 1525.0 1165.5 1524.8M1170.5 1526.1Q1171.5 1521.6 1174.9 1517.9M1170.2 1525.3Q1172.6 1524.2 1175.4 1523.8M1225.4 1530.2Q1228.5 1532.2 1230.0 1536.0M1278.1 1528.8Q1277.0 1525.1 1272.4 1523.7M1278.6 1530.3Q1278.6 1526.2 1278.2 1522.0M1278.3 1528.2Q1279.8 1531.9 1279.2 1536.1M1277.3 1528.2Q1276.1 1531.5 1273.0 1533.7M1330.2 1528.0Q1329.4 1530.9 1325.3 1531.5M1383.3 1529.7Q1383.9 1526.5 1383.8 1523.2M1436.8 1525.8Q1433.9 1529.0 1436.2 1534.4M1486.6 1528.4Q1483.8 1530.3 1481.4 1532.8M1486.9 1527.5Q1484.3 1523.5 1478.7 1522.6M1542.7 1527.5Q1545.0 1531.5 1551.7 1529.6M1541.6 1529.1Q1540.3 1532.7 1539.1 1536.3M1595.4 1528.1Q1599.3 1528.5 1602.2 1532.0M1648.5 1528.8Q1646.8 1531.0 1647.4 1534.3M1649.2 1526.8Q1647.9 1524.4 1647.9 1521.4M1649.2 1528.6Q1652.6 1526.6 1652.1 1521.3M1650.4 1527.3Q1652.4 1529.6 1656.4 1529.0M907.2 1579.1Q906.5 1575.5 904.7 1572.1M958.5 1580.2Q955.3 1580.8 952.5 1582.9M958.4 1579.3Q956.6 1575.8 952.3 1574.3M1010.9 1580.1Q1008.1 1576.6 1004.0 1574.5M1065.0 1580.0Q1069.7 1580.1 1074.5 1579.4M1066.4 1581.6Q1064.5 1585.4 1062.5 1589.2M1064.7 1579.6Q1059.8 1578.8 1055.2 1582.6M1064.6 1580.9Q1062.9 1577.8 1060.8 1575.0M1119.0 1581.4Q1114.2 1583.3 1110.2 1586.8M1119.7 1582.9Q1118.8 1580.2 1115.8 1578.8M1117.3 1582.8Q1119.4 1586.7 1125.8 1584.4M1171.3 1581.3Q1174.5 1582.6 1177.5 1578.3M1169.2 1580.7Q1172.0 1584.9 1168.7 1590.6M1169.7 1581.0Q1166.8 1584.3 1161.9 1584.9M1220.8 1581.0Q1218.8 1583.9 1216.2 1586.3M1221.9 1580.8Q1220.7 1577.6 1220.0 1574.1M1223.2 1582.6Q1222.5 1585.5 1222.7 1588.5M1276.2 1579.7Q1274.4 1575.9 1272.8 1572.0M1330.0 1579.2Q1327.9 1581.7 1324.6 1582.8M1328.1 1578.5Q1327.1 1574.5 1325.3 1570.8M1383.5 1582.9Q1386.8 1582.4 1388.7 1578.9M1382.1 1581.3Q1379.0 1579.2 1374.8 1579.8M1436.5 1581.1Q1436.2 1585.2 1434.4 1589.0M1435.1 1580.2Q1430.0 1579.5 1425.0 1578.5M1436.1 1579.0Q1433.8 1576.9 1431.5 1574.8M1435.3 1580.3Q1438.0 1577.7 1442.7 1578.7M1436.2 1579.7Q1435.3 1583.3 1437.8 1586.9M1491.0 1580.2Q1494.0 1580.7 1497.1 1579.7M1491.0 1582.1Q1494.6 1583.3 1497.7 1585.5M1488.9 1580.9Q1493.0 1578.1 1494.6 1572.9M1541.2 1579.5Q1538.3 1578.9 1537.5 1574.9M1539.7 1580.1Q1542.5 1577.9 1543.0 1573.8M1593.3 1579.5Q1591.7 1583.1 1586.6 1583.4M1592.2 1579.2Q1595.1 1578.3 1597.7 1576.9M1649.8 1580.3Q1652.8 1576.1 1658.9 1575.2M1650.7 1582.4Q1653.5 1586.0 1652.7 1591.3M907.4 1633.0Q905.7 1636.6 907.4 1640.9M905.0 1633.8Q905.8 1629.9 906.3 1625.9M905.8 1633.2Q907.0 1630.3 909.8 1628.4M958.3 1635.8Q962.4 1637.0 966.8 1635.3M959.1 1635.5Q955.5 1636.4 954.7 1641.5M959.8 1633.3Q955.4 1630.7 950.5 1629.2M1014.0 1635.5Q1009.8 1634.5 1007.0 1630.6M1011.3 1634.0Q1011.0 1629.5 1017.2 1627.2M1066.2 1634.1Q1064.6 1637.9 1064.7 1642.3M1066.4 1634.4Q1065.5 1629.7 1058.4 1629.1M1064.5 1633.2Q1069.6 1635.3 1075.3 1631.2M1117.5 1632.1Q1118.8 1635.9 1114.4 1639.5M1172.6 1634.5Q1171.0 1636.8 1170.2 1639.4M1171.9 1633.5Q1167.3 1632.4 1162.8 1631.0M1171.1 1632.7Q1174.8 1635.2 1173.8 1641.3M1225.4 1633.5Q1221.6 1630.5 1216.6 1629.8M1223.2 1636.2Q1227.4 1636.1 1231.2 1633.6M1225.3 1634.2Q1226.3 1637.8 1224.0 1641.6M1275.1 1633.2Q1275.3 1636.2 1277.2 1638.8M1330.8 1634.6Q1327.0 1635.1 1323.6 1637.3M1330.0 1634.1Q1335.2 1633.2 1339.6 1638.6M1381.2 1633.7Q1383.6 1628.8 1389.0 1626.0M1436.1 1632.5Q1435.7 1636.9 1431.0 1639.7M1489.5 1634.0Q1492.6 1635.5 1494.0 1639.2M1490.5 1634.2Q1488.6 1638.2 1490.5 1643.0M1490.6 1634.2Q1487.4 1635.0 1484.3 1632.6M1488.8 1633.7Q1488.3 1628.1 1480.1 1626.5M1541.2 1633.5Q1542.0 1630.3 1539.6 1627.1M1541.9 1633.8Q1546.1 1632.2 1550.0 1629.9M1595.5 1633.9Q1599.7 1634.3 1604.0 1633.4M1595.9 1631.8Q1591.0 1630.7 1586.7 1627.5M1649.9 1633.7Q1653.9 1634.0 1658.0 1632.6M1650.2 1633.3Q1652.2 1638.0 1651.5 1643.4M1649.7 1634.0Q1649.0 1637.8 1647.1 1641.2M904.5 1686.5Q902.5 1689.2 897.9 1688.2M903.0 1686.6Q903.9 1683.4 904.2 1680.1M903.7 1686.4Q906.9 1686.4 909.7 1684.1M903.4 1684.4Q907.4 1686.5 906.9 1692.7M958.8 1686.9Q963.9 1685.8 966.0 1679.4M958.6 1686.6Q955.9 1689.6 953.3 1692.7M1010.7 1687.1Q1006.3 1688.5 1001.8 1684.6M1170.4 1686.3Q1175.5 1686.0 1177.6 1693.5M1170.9 1686.7Q1174.4 1690.6 1170.5 1697.1M1171.0 1686.2Q1166.6 1681.9 1161.6 1678.2M1222.6 1686.7Q1221.0 1681.9 1214.4 1680.9M1276.4 1685.1Q1281.1 1683.4 1286.4 1686.2M1329.3 1686.3Q1333.7 1683.8 1337.6 1680.5M1329.2 1685.4Q1330.4 1688.7 1331.1 1692.1M1329.2 1686.8Q1327.5 1690.3 1325.1 1693.4M1329.2 1687.3Q1323.2 1688.1 1318.3 1682.3M1330.1 1687.0Q1329.2 1683.6 1328.6 1680.1M1380.2 1688.0Q1378.3 1684.7 1380.0 1680.3M1381.7 1686.7Q1383.4 1680.9 1392.2 1680.9M1434.8 1687.9Q1438.7 1691.3 1440.2 1696.8M1435.1 1686.6Q1431.1 1688.1 1430.6 1693.9M1437.6 1686.4Q1434.1 1685.6 1434.2 1680.1M1437.6 1685.4Q1440.9 1686.6 1444.0 1682.4M1488.0 1687.0Q1482.6 1686.3 1477.1 1687.5M1542.9 1686.8Q1544.9 1683.8 1543.1 1679.6M1541.6 1687.8Q1542.0 1683.2 1540.5 1678.5M1594.7 1688.1Q1594.1 1693.2 1600.4 1696.5M1594.8 1686.3Q1597.4 1682.0 1603.8 1682.1M1649.6 1687.6Q1646.3 1690.3 1647.3 1695.8M905.1 1739.6Q907.0 1733.3 904.4 1726.5M906.7 1741.2Q912.5 1738.7 918.8 1738.3M958.7 1739.7Q954.1 1738.4 949.7 1743.3M958.3 1739.7Q959.4 1735.2 958.6 1730.4M960.0 1739.0Q963.9 1738.0 967.3 1735.7M1011.7 1739.5Q1012.4 1734.5 1012.5 1729.5M1119.4 1740.9Q1122.6 1740.3 1125.8 1742.5M1117.3 1740.4Q1121.4 1740.8 1122.5 1746.9M1118.4 1739.9Q1112.9 1740.9 1110.8 1748.1M1172.5 1738.6Q1176.5 1739.7 1180.4 1735.9M1170.7 1739.8Q1164.8 1742.5 1161.1 1748.6M1222.5 1738.4Q1225.5 1737.8 1228.3 1736.3M1222.5 1740.1Q1220.6 1743.5 1216.7 1745.4M1277.1 1738.8Q1270.8 1738.3 1265.2 1734.7M1331.2 1741.7Q1335.3 1743.4 1333.7 1750.1M1330.0 1741.6Q1326.9 1746.1 1330.3 1752.6M1381.5 1741.4Q1382.5 1745.4 1384.2 1749.2M1437.8 1739.7Q1434.0 1737.7 1429.7 1742.7M1436.1 1739.2Q1439.1 1735.3 1444.1 1733.4M1487.2 1740.4Q1486.5 1736.7 1486.5 1732.9M1488.1 1741.4Q1492.3 1744.5 1495.0 1749.3M1541.1 1740.9Q1543.5 1739.0 1543.0 1735.1M1540.9 1741.8Q1544.4 1745.5 1550.9 1743.0M1542.5 1741.1Q1539.2 1740.1 1535.8 1739.9M1592.7 1739.6Q1589.0 1742.2 1588.2 1747.4M1594.7 1737.5Q1589.8 1734.0 1586.0 1729.2M1647.6 1739.4Q1641.7 1737.2 1635.2 1737.4M1649.4 1740.1Q1649.2 1736.4 1646.6 1733.4M1647.8 1741.6Q1647.5 1745.9 1650.9 1749.8M1648.0 1739.6Q1647.0 1745.6 1645.4 1751.4M905.8 1792.2Q907.8 1797.0 902.7 1802.2M905.6 1792.0Q902.0 1788.9 896.1 1790.5M905.6 1790.9Q908.1 1795.1 911.9 1798.3M956.7 1792.2Q952.3 1788.3 945.3 1789.1M957.2 1794.3Q957.6 1799.1 955.9 1803.8M1011.7 1792.3Q1006.7 1791.1 1001.5 1790.6M1009.6 1793.8Q1010.9 1799.7 1015.3 1804.6M1119.1 1794.0Q1125.4 1795.9 1131.4 1798.6M1117.0 1792.9Q1111.5 1794.3 1106.5 1788.5M1169.4 1791.9Q1168.2 1786.6 1164.8 1782.1M1223.6 1792.2Q1228.0 1793.7 1232.3 1795.3M1224.9 1792.9Q1221.2 1794.7 1217.8 1796.8M1224.8 1791.1Q1219.5 1789.4 1215.2 1785.3M1222.9 1793.9Q1224.9 1789.7 1231.0 1789.6M1276.8 1790.6Q1273.7 1794.6 1271.1 1798.8M1274.5 1790.8Q1279.1 1789.3 1283.9 1792.8M1328.4 1791.8Q1329.5 1787.5 1328.1 1783.0M1329.8 1792.6Q1334.1 1793.2 1338.6 1792.4M1385.3 1794.7Q1390.8 1793.2 1396.8 1794.3M1384.6 1794.4Q1381.0 1798.7 1379.1 1804.2M1437.6 1793.7Q1438.7 1800.3 1434.9 1806.8M1434.9 1795.3Q1432.3 1801.8 1425.3 1805.6M1489.5 1793.6Q1490.7 1799.5 1498.5 1801.5M1487.3 1792.5Q1483.8 1792.8 1480.6 1794.9M1487.2 1793.9Q1483.3 1792.4 1478.8 1793.1M1487.7 1795.1Q1484.8 1790.4 1485.9 1784.3M1540.1 1792.3Q1543.5 1795.8 1547.5 1798.7M1540.6 1792.4Q1535.5 1793.1 1530.4 1791.1M1541.7 1792.2Q1539.7 1786.2 1541.3 1779.5M1594.4 1793.4Q1598.7 1791.1 1602.0 1787.2M904.8 1845.5Q906.8 1848.5 911.9 1846.9M957.3 1845.9Q962.5 1841.5 970.4 1842.2M1011.6 1846.0Q1016.2 1842.8 1022.1 1842.2M1012.7 1845.7Q1012.3 1849.8 1017.1 1852.8M1012.3 1845.1Q1005.8 1846.0 999.3 1847.1M1010.7 1845.5Q1011.2 1838.9 1004.7 1833.8M1064.3 1843.5Q1063.8 1839.1 1067.4 1835.2M1062.2 1844.8Q1059.9 1850.3 1053.1 1852.5M1115.1 1843.9Q1111.6 1849.9 1106.1 1854.4M1169.6 1846.3Q1167.9 1842.4 1163.8 1839.9M1170.9 1845.7Q1175.1 1844.7 1179.1 1843.4M1225.4 1844.5Q1222.6 1840.4 1226.6 1834.6M1223.9 1845.8Q1228.6 1846.2 1230.2 1852.8M1276.4 1843.1Q1279.3 1845.3 1278.2 1850.1M1274.2 1845.5Q1278.3 1841.8 1273.7 1834.5"/><path stroke-width="4.6" stroke-opacity=".95" d="M903.3 1521.3h0M906.1 1528.6h0M957.2 1523.2h0M957.5 1534.6h0M957.0 1529.1h0M1010.5 1532.2h0M1006.5 1529.9h0M1006.1 1524.1h0M1010.0 1528.0h0M1064.8 1520.7h0M1064.0 1532.0h0M1063.3 1526.8h0M1110.1 1526.4h0M1117.4 1527.3h0M1167.4 1526.8h0M1169.3 1526.7h0M1173.9 1521.1h0M1173.6 1524.4h0M1170.4 1526.5h0M1226.3 1533.3h0M1224.8 1529.3h0M1276.0 1525.0h0M1278.1 1525.8h0M1279.9 1534.9h0M1273.1 1533.1h0M1277.6 1528.9h0M1325.1 1531.4h0M1329.1 1526.6h0M1384.1 1525.3h0M1382.7 1529.0h0M1437.3 1530.2h0M1436.4 1526.5h0M1483.2 1531.7h0M1483.0 1525.9h0M1487.3 1528.8h0M1546.1 1529.0h0M1539.7 1532.4h0M1542.9 1527.6h0M1599.4 1530.7h0M1594.5 1528.2h0M1648.4 1533.3h0M1647.6 1524.1h0M1650.6 1525.2h0M1654.4 1528.8h0M1649.2 1527.9h0M905.2 1572.9h0M906.4 1580.1h0M956.0 1582.0h0M954.5 1576.5h0M958.2 1580.1h0M1005.8 1576.4h0M1010.7 1581.0h0M1072.0 1579.3h0M1063.6 1588.8h0M1056.1 1582.3h0M1062.0 1577.8h0M1065.3 1580.6h0M1113.9 1584.9h0M1116.6 1580.3h0M1123.1 1583.6h0M1118.3 1582.1h0M1174.8 1579.7h0M1168.1 1588.5h0M1164.3 1584.1h0M1169.9 1579.9h0M1217.3 1584.2h0M1220.5 1577.7h0M1222.8 1588.5h0M1222.1 1581.8h0M1273.2 1575.4h0M1276.2 1579.9h0M1327.0 1581.4h0M1325.2 1572.6h0M1329.0 1579.9h0M1387.6 1580.5h0M1376.9 1581.1h0M1383.6 1581.9h0M1435.5 1583.5h0M1430.8 1579.3h0M1432.0 1575.6h0M1438.7 1579.7h0M1437.6 1583.6h0M1435.2 1579.7h0M1494.8 1579.7h0M1493.6 1583.4h0M1492.5 1575.2h0M1490.0 1581.2h0M1539.4 1578.0h0M1542.1 1575.7h0M1541.0 1579.7h0M1591.2 1581.6h0M1597.4 1577.6h0M1593.4 1580.2h0M1655.5 1578.1h0M1651.9 1589.2h0M1649.2 1581.1h0M907.4 1639.4h0M905.4 1628.9h0M907.5 1629.7h0M906.4 1633.2h0M965.2 1634.6h0M956.6 1640.3h0M955.9 1632.3h0M958.8 1634.8h0M1009.7 1633.0h0M1016.9 1629.2h0M1012.7 1635.3h0M1064.9 1637.5h0M1061.2 1630.8h0M1073.0 1631.0h0M1065.3 1634.0h0M1114.0 1637.6h0M1116.3 1632.7h0M1171.7 1637.0h0M1164.3 1632.3h0M1173.5 1639.0h0M1171.8 1633.7h0M1218.8 1629.5h0M1227.8 1635.1h0M1225.4 1638.2h0M1224.5 1634.7h0M1276.4 1637.6h0M1275.5 1633.2h0M1325.7 1637.6h0M1337.0 1636.2h0M1330.5 1634.0h0M1386.7 1627.1h0M1382.1 1632.6h0M1433.3 1635.5h0M1434.7 1633.1h0M1491.2 1637.6h0M1489.5 1639.0h0M1487.4 1632.6h0M1480.6 1627.1h0M1489.2 1633.1h0M1540.2 1627.0h0M1547.1 1630.9h0M1541.5 1632.8h0M1598.9 1633.2h0M1591.4 1629.2h0M1596.1 1632.6h0M1653.2 1633.7h0M1650.6 1639.8h0M1648.5 1638.7h0M1648.7 1632.9h0M899.6 1686.8h0M903.7 1684.4h0M905.0 1685.9h0M905.4 1689.3h0M904.4 1685.7h0M965.2 1680.2h0M957.0 1690.3h0M958.7 1686.2h0M1005.6 1685.3h0M1011.5 1688.1h0M1064.1 1686.2h0M1117.7 1687.9h0M1175.6 1690.8h0M1171.5 1692.1h0M1164.3 1679.2h0M1171.6 1687.5h0M1217.5 1681.7h0M1224.1 1685.5h0M1284.2 1685.4h0M1276.2 1685.6h0M1337.1 1682.1h0M1330.9 1688.6h0M1325.1 1692.4h0M1323.1 1685.5h0M1329.2 1682.8h0M1329.3 1686.9h0M1379.6 1681.4h0M1386.5 1684.0h0M1381.4 1687.7h0M1437.9 1692.8h0M1431.8 1691.4h0M1435.1 1682.6h0M1443.3 1682.9h0M1436.2 1686.8h0M1478.0 1687.1h0M1488.7 1687.1h0M1543.8 1683.5h0M1540.8 1681.6h0M1541.9 1687.1h0M1597.9 1691.4h0M1600.6 1684.1h0M1594.0 1687.6h0M1648.5 1691.0h0M1649.2 1687.0h0M905.2 1729.7h0M916.5 1738.7h0M905.8 1739.8h0M955.6 1740.5h0M959.4 1732.3h0M965.5 1736.0h0M958.6 1740.2h0M1011.3 1735.5h0M1011.1 1739.8h0M1064.8 1739.9h0M1124.2 1741.4h0M1118.9 1743.8h0M1116.4 1742.4h0M1118.0 1740.7h0M1179.2 1736.4h0M1163.6 1746.0h0M1171.5 1738.9h0M1226.1 1737.1h0M1218.1 1742.8h0M1222.9 1739.0h0M1272.1 1736.4h0M1276.2 1739.3h0M1332.8 1745.7h0M1329.3 1750.6h0M1330.2 1740.8h0M1384.1 1747.5h0M1382.2 1740.8h0M1430.0 1742.4h0M1443.0 1735.0h0M1436.9 1739.8h0M1486.7 1734.4h0M1493.5 1748.3h0M1487.8 1740.0h0M1541.7 1737.5h0M1549.4 1742.3h0M1538.6 1741.0h0M1541.2 1740.9h0M1589.3 1743.7h0M1589.9 1733.6h0M1593.4 1738.4h0M1638.3 1737.5h0M1647.0 1734.8h0M1651.0 1749.2h0M1647.7 1745.9h0M1648.1 1740.7h0M903.7 1796.7h0M902.8 1791.8h0M909.9 1796.4h0M904.8 1792.3h0M950.4 1791.1h0M957.4 1800.2h0M957.0 1793.0h0M1006.1 1791.4h0M1013.8 1801.4h0M1010.6 1792.3h0M1065.8 1794.0h0M1127.8 1797.1h0M1110.1 1790.1h0M1117.9 1793.0h0M1168.2 1787.8h0M1170.4 1793.3h0M1231.0 1795.6h0M1222.9 1795.1h0M1219.4 1787.6h0M1225.7 1791.3h0M1223.8 1792.5h0M1273.9 1795.2h0M1279.7 1792.9h0M1275.5 1791.4h0M1327.8 1784.9h0M1335.1 1792.6h0M1328.7 1791.9h0M1391.2 1794.1h0M1382.4 1799.3h0M1383.8 1793.4h0M1435.3 1802.7h0M1427.6 1802.1h0M1436.4 1794.0h0M1493.7 1798.4h0M1483.8 1793.5h0M1480.6 1792.7h0M1485.9 1788.3h0M1488.5 1793.9h0M1544.5 1796.1h0M1536.0 1792.8h0M1540.6 1782.5h0M1541.5 1791.4h0M1599.1 1789.5h0M1593.9 1793.3h0M1647.0 1792.7h0M909.0 1845.3h0M904.5 1846.5h0M965.8 1843.5h0M958.3 1845.6h0M1015.1 1845.3h0M1014.0 1848.7h0M1002.6 1846.4h0M1005.6 1835.9h0M1011.9 1846.1h0M1066.7 1835.5h0M1058.7 1848.8h0M1063.4 1844.5h0M1107.5 1853.0h0M1116.0 1844.2h0M1164.4 1840.6h0M1173.9 1845.6h0M1169.5 1846.1h0M1226.8 1837.3h0M1227.0 1849.5h0M1225.0 1844.8h0M1278.1 1848.7h0M1274.3 1836.8h0M1275.5 1844.2h0"/></g>
</svg></body></html>
